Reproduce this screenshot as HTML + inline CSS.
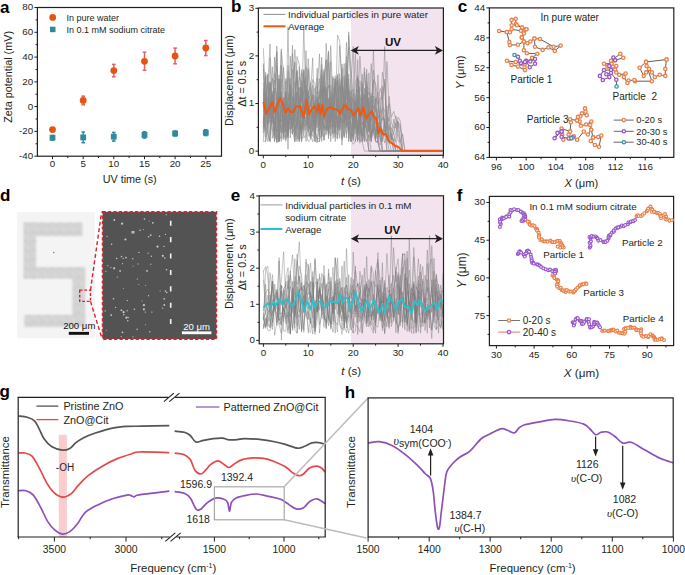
<!DOCTYPE html>
<html><head><meta charset="utf-8"><style>
html,body{margin:0;padding:0;background:#fff;}
svg{display:block;font-family:"Liberation Sans", sans-serif;}
</style></head><body>
<svg width="685" height="575" viewBox="0 0 685 575">
<defs><filter id="soft" x="-10%" y="-10%" width="120%" height="120%"><feGaussianBlur stdDeviation="0.95"/></filter></defs>
<rect width="685" height="575" fill="#fff"/>
<text x="0" y="7" font-size="17" text-anchor="start" font-weight="bold" fill="#000" dominant-baseline="central">a</text>
<rect x="37.4" y="7.5" width="184.1" height="148.7" fill="none" stroke="#231f20" stroke-width="1.2"/>
<line x1="34.4" y1="7.5" x2="37.4" y2="7.5" stroke="#231f20" stroke-width="1"/>
<text x="33.2" y="6.9" font-size="9.8" text-anchor="end" fill="#231f20" dominant-baseline="central">80</text>
<line x1="34.4" y1="32.3" x2="37.4" y2="32.3" stroke="#231f20" stroke-width="1"/>
<text x="33.2" y="31.7" font-size="9.8" text-anchor="end" fill="#231f20" dominant-baseline="central">60</text>
<line x1="34.4" y1="57.1" x2="37.4" y2="57.1" stroke="#231f20" stroke-width="1"/>
<text x="33.2" y="56.5" font-size="9.8" text-anchor="end" fill="#231f20" dominant-baseline="central">40</text>
<line x1="34.4" y1="81.9" x2="37.4" y2="81.9" stroke="#231f20" stroke-width="1"/>
<text x="33.2" y="81.3" font-size="9.8" text-anchor="end" fill="#231f20" dominant-baseline="central">20</text>
<line x1="34.4" y1="106.6" x2="37.4" y2="106.6" stroke="#231f20" stroke-width="1"/>
<text x="33.2" y="106" font-size="9.8" text-anchor="end" fill="#231f20" dominant-baseline="central">0</text>
<line x1="34.4" y1="131.4" x2="37.4" y2="131.4" stroke="#231f20" stroke-width="1"/>
<text x="33.2" y="130.8" font-size="9.8" text-anchor="end" fill="#231f20" dominant-baseline="central">-20</text>
<line x1="34.4" y1="156.2" x2="37.4" y2="156.2" stroke="#231f20" stroke-width="1"/>
<text x="33.2" y="155.6" font-size="9.8" text-anchor="end" fill="#231f20" dominant-baseline="central">-40</text>
<line x1="35.6" y1="19.9" x2="37.4" y2="19.9" stroke="#231f20" stroke-width="1"/>
<line x1="35.6" y1="44.7" x2="37.4" y2="44.7" stroke="#231f20" stroke-width="1"/>
<line x1="35.6" y1="69.5" x2="37.4" y2="69.5" stroke="#231f20" stroke-width="1"/>
<line x1="35.6" y1="94.2" x2="37.4" y2="94.2" stroke="#231f20" stroke-width="1"/>
<line x1="35.6" y1="119" x2="37.4" y2="119" stroke="#231f20" stroke-width="1"/>
<line x1="35.6" y1="143.8" x2="37.4" y2="143.8" stroke="#231f20" stroke-width="1"/>
<line x1="52.5" y1="156.2" x2="52.5" y2="159.2" stroke="#231f20" stroke-width="1"/>
<text x="52.5" y="163.7" font-size="9.8" text-anchor="middle" fill="#231f20" dominant-baseline="central">0</text>
<line x1="83.2" y1="156.2" x2="83.2" y2="159.2" stroke="#231f20" stroke-width="1"/>
<text x="83.2" y="163.7" font-size="9.8" text-anchor="middle" fill="#231f20" dominant-baseline="central">5</text>
<line x1="113.8" y1="156.2" x2="113.8" y2="159.2" stroke="#231f20" stroke-width="1"/>
<text x="113.8" y="163.7" font-size="9.8" text-anchor="middle" fill="#231f20" dominant-baseline="central">10</text>
<line x1="144.5" y1="156.2" x2="144.5" y2="159.2" stroke="#231f20" stroke-width="1"/>
<text x="144.5" y="163.7" font-size="9.8" text-anchor="middle" fill="#231f20" dominant-baseline="central">15</text>
<line x1="175.1" y1="156.2" x2="175.1" y2="159.2" stroke="#231f20" stroke-width="1"/>
<text x="175.1" y="163.7" font-size="9.8" text-anchor="middle" fill="#231f20" dominant-baseline="central">20</text>
<line x1="205.8" y1="156.2" x2="205.8" y2="159.2" stroke="#231f20" stroke-width="1"/>
<text x="205.8" y="163.7" font-size="9.8" text-anchor="middle" fill="#231f20" dominant-baseline="central">25</text>
<line x1="67.8" y1="156.2" x2="67.8" y2="158" stroke="#231f20" stroke-width="1"/>
<line x1="98.5" y1="156.2" x2="98.5" y2="158" stroke="#231f20" stroke-width="1"/>
<line x1="129.1" y1="156.2" x2="129.1" y2="158" stroke="#231f20" stroke-width="1"/>
<line x1="159.8" y1="156.2" x2="159.8" y2="158" stroke="#231f20" stroke-width="1"/>
<line x1="190.5" y1="156.2" x2="190.5" y2="158" stroke="#231f20" stroke-width="1"/>
<text x="129.7" y="179.2" font-size="10.8" text-anchor="middle" fill="#231f20" dominant-baseline="central">UV time (s)</text>
<text x="0" y="0" font-size="10.8" text-anchor="middle" dominant-baseline="central" fill="#231f20" transform="translate(7.5,76.9) rotate(-90)">Zeta potential (mV)</text>
<circle cx="52.7" cy="17.4" r="3.4" fill="#e9530d"/>
<text x="66.6" y="17.6" font-size="9.0" text-anchor="start" fill="#231f20" dominant-baseline="central">In pure water</text>
<rect x="50" y="26.7" width="5.5" height="5.5" fill="#2f8a9b" stroke="none" stroke-width="1"/>
<text x="66.6" y="29.8" font-size="9.0" text-anchor="start" fill="#231f20" dominant-baseline="central">In 0.1 mM sodium citrate</text>
<line x1="52.5" y1="135.5" x2="52.5" y2="140" stroke="#2f8a9b" stroke-width="1.5"/>
<line x1="50.7" y1="135.5" x2="54.3" y2="135.5" stroke="#2f8a9b" stroke-width="1.5"/>
<line x1="50.7" y1="140" x2="54.3" y2="140" stroke="#2f8a9b" stroke-width="1.5"/>
<rect x="49.6" y="134.8" width="5.8" height="5.8" fill="#2f8a9b" stroke="none" stroke-width="1"/>
<line x1="83.2" y1="132" x2="83.2" y2="142.7" stroke="#2f8a9b" stroke-width="1.5"/>
<line x1="81.4" y1="132" x2="85" y2="132" stroke="#2f8a9b" stroke-width="1.5"/>
<line x1="81.4" y1="142.7" x2="85" y2="142.7" stroke="#2f8a9b" stroke-width="1.5"/>
<rect x="80.3" y="134.5" width="5.8" height="5.8" fill="#2f8a9b" stroke="none" stroke-width="1"/>
<line x1="113.8" y1="132.4" x2="113.8" y2="141.1" stroke="#2f8a9b" stroke-width="1.5"/>
<line x1="112" y1="132.4" x2="115.6" y2="132.4" stroke="#2f8a9b" stroke-width="1.5"/>
<line x1="112" y1="141.1" x2="115.6" y2="141.1" stroke="#2f8a9b" stroke-width="1.5"/>
<rect x="110.9" y="133.8" width="5.8" height="5.8" fill="#2f8a9b" stroke="none" stroke-width="1"/>
<line x1="144.5" y1="131.7" x2="144.5" y2="138.1" stroke="#2f8a9b" stroke-width="1.5"/>
<line x1="142.7" y1="131.7" x2="146.3" y2="131.7" stroke="#2f8a9b" stroke-width="1.5"/>
<line x1="142.7" y1="138.1" x2="146.3" y2="138.1" stroke="#2f8a9b" stroke-width="1.5"/>
<rect x="141.6" y="132" width="5.8" height="5.8" fill="#2f8a9b" stroke="none" stroke-width="1"/>
<line x1="175.1" y1="131" x2="175.1" y2="136" stroke="#2f8a9b" stroke-width="1.5"/>
<line x1="173.3" y1="131" x2="176.9" y2="131" stroke="#2f8a9b" stroke-width="1.5"/>
<line x1="173.3" y1="136" x2="176.9" y2="136" stroke="#2f8a9b" stroke-width="1.5"/>
<rect x="172.2" y="130.6" width="5.8" height="5.8" fill="#2f8a9b" stroke="none" stroke-width="1"/>
<line x1="205.8" y1="129.7" x2="205.8" y2="135.6" stroke="#2f8a9b" stroke-width="1.5"/>
<line x1="204" y1="129.7" x2="207.6" y2="129.7" stroke="#2f8a9b" stroke-width="1.5"/>
<line x1="204" y1="135.6" x2="207.6" y2="135.6" stroke="#2f8a9b" stroke-width="1.5"/>
<rect x="202.9" y="129.8" width="5.8" height="5.8" fill="#2f8a9b" stroke="none" stroke-width="1"/>
<line x1="52.5" y1="127.7" x2="52.5" y2="131.4" stroke="#e0606a" stroke-width="1.5"/>
<line x1="50.7" y1="127.7" x2="54.3" y2="127.7" stroke="#e0606a" stroke-width="1.5"/>
<line x1="50.7" y1="131.4" x2="54.3" y2="131.4" stroke="#e0606a" stroke-width="1.5"/>
<circle cx="52.5" cy="129.6" r="3.4" fill="#e9530d"/>
<line x1="83.2" y1="96.1" x2="83.2" y2="104.8" stroke="#e0606a" stroke-width="1.5"/>
<line x1="81.4" y1="96.1" x2="85" y2="96.1" stroke="#e0606a" stroke-width="1.5"/>
<line x1="81.4" y1="104.8" x2="85" y2="104.8" stroke="#e0606a" stroke-width="1.5"/>
<circle cx="83.2" cy="100.4" r="3.4" fill="#e9530d"/>
<line x1="113.8" y1="64.4" x2="113.8" y2="76.8" stroke="#e0606a" stroke-width="1.5"/>
<line x1="112" y1="64.4" x2="115.6" y2="64.4" stroke="#e0606a" stroke-width="1.5"/>
<line x1="112" y1="76.8" x2="115.6" y2="76.8" stroke="#e0606a" stroke-width="1.5"/>
<circle cx="113.8" cy="70.6" r="3.4" fill="#e9530d"/>
<line x1="144.5" y1="52.2" x2="144.5" y2="70.3" stroke="#e0606a" stroke-width="1.5"/>
<line x1="142.7" y1="52.2" x2="146.3" y2="52.2" stroke="#e0606a" stroke-width="1.5"/>
<line x1="142.7" y1="70.3" x2="146.3" y2="70.3" stroke="#e0606a" stroke-width="1.5"/>
<circle cx="144.5" cy="61.3" r="3.4" fill="#e9530d"/>
<line x1="175.1" y1="48.1" x2="175.1" y2="63.8" stroke="#e0606a" stroke-width="1.5"/>
<line x1="173.3" y1="48.1" x2="176.9" y2="48.1" stroke="#e0606a" stroke-width="1.5"/>
<line x1="173.3" y1="63.8" x2="176.9" y2="63.8" stroke="#e0606a" stroke-width="1.5"/>
<circle cx="175.1" cy="56" r="3.4" fill="#e9530d"/>
<line x1="205.8" y1="40.5" x2="205.8" y2="55.6" stroke="#e0606a" stroke-width="1.5"/>
<line x1="204" y1="40.5" x2="207.6" y2="40.5" stroke="#e0606a" stroke-width="1.5"/>
<line x1="204" y1="55.6" x2="207.6" y2="55.6" stroke="#e0606a" stroke-width="1.5"/>
<circle cx="205.8" cy="48" r="3.4" fill="#e9530d"/>
<rect x="351" y="8" width="92.4" height="147.3" fill="#f3e3ee" stroke="none" stroke-width="1"/>
<g fill="none" stroke="#8a8a8a" stroke-width="0.6" stroke-opacity="0.9" stroke-linejoin="round">
<polyline points="263.3,108.4 265.5,75.4 267.8,113.8 270.0,111.4 272.3,106.8 274.5,129.8 276.8,111.2 279.0,104.1 281.3,92.0 283.5,136.3 285.8,122.8 288.0,136.6 290.3,90.4 292.5,99.9 294.8,141.4 297.0,56.5 299.3,64.9 301.5,102.6 303.8,105.0 306.0,131.6 308.2,141.6 310.5,139.4 312.7,129.5 315.0,126.3 317.2,141.6 319.5,115.2 321.7,87.0 324.0,110.8 326.2,103.5 328.5,111.9 330.7,102.0 333.0,114.3 335.2,124.2 337.5,35.1 339.7,41.1 342.0,87.3 344.2,98.8 346.5,122.1 348.7,128.4 351.0,127.3 353.2,141.1 355.4,110.8 357.7,129.8 359.9,115.4 362.2,135.4 364.4,117.7 366.7,130.4 368.9,151.1 371.2,151.1 373.4,151.1 375.7,151.1 377.9,151.1 380.2,151.1 382.4,151.1 384.7,151.1 386.9,151.1 389.2,151.1 391.4,151.1 393.7,151.1 395.9,151.1 398.1,151.1 400.4,151.1 402.6,151.1 404.9,151.1 407.1,151.1 409.4,151.1 411.6,151.1 413.9,151.1 416.1,151.1 418.4,151.1 420.6,151.1 422.9,151.1 425.1,151.1 427.4,151.1 429.6,151.1 431.9,151.1 434.1,151.1 436.4,151.1 438.6,151.1 440.9,151.1 443.1,151.1"/>
<polyline points="263.3,128.2 265.5,77.9 267.8,113.6 270.0,57.7 272.3,117.6 274.5,138.1 276.8,104.1 279.0,93.2 281.3,124.7 283.5,136.9 285.8,121.1 288.0,65.2 290.3,95.0 292.5,134.4 294.8,126.0 297.0,135.7 299.3,139.4 301.5,91.6 303.8,130.3 306.0,108.4 308.2,114.8 310.5,129.4 312.7,97.0 315.0,133.4 317.2,103.2 319.5,134.5 321.7,116.3 324.0,128.0 326.2,124.7 328.5,62.5 330.7,91.0 333.0,122.7 335.2,81.8 337.5,128.2 339.7,117.7 342.0,85.7 344.2,107.1 346.5,138.2 348.7,74.1 351.0,135.2 353.2,135.4 355.4,120.5 357.7,137.5 359.9,140.5 362.2,141.6 364.4,151.1 366.7,151.1 368.9,151.1 371.2,151.1 373.4,151.1 375.7,151.1 377.9,151.1 380.2,151.1 382.4,151.1 384.7,151.1 386.9,151.1 389.2,151.1 391.4,151.1 393.7,151.1 395.9,151.1 398.1,151.1 400.4,151.1 402.6,151.1 404.9,151.1 407.1,151.1 409.4,151.1 411.6,151.1 413.9,151.1 416.1,151.1 418.4,151.1 420.6,151.1 422.9,151.1 425.1,151.1 427.4,151.1 429.6,151.1 431.9,151.1 434.1,151.1 436.4,151.1 438.6,151.1 440.9,151.1 443.1,151.1"/>
<polyline points="263.3,126.2 265.5,105.9 267.8,119.0 270.0,114.5 272.3,66.8 274.5,112.8 276.8,107.5 279.0,84.2 281.3,129.9 283.5,131.8 285.8,78.2 288.0,89.6 290.3,125.9 292.5,129.5 294.8,96.5 297.0,72.0 299.3,129.1 301.5,69.5 303.8,82.2 306.0,105.8 308.2,116.2 310.5,135.5 312.7,141.7 315.0,126.5 317.2,99.1 319.5,125.4 321.7,89.0 324.0,106.2 326.2,123.3 328.5,130.4 330.7,97.9 333.0,138.5 335.2,127.1 337.5,108.4 339.7,85.9 342.0,105.1 344.2,124.1 346.5,76.7 348.7,128.7 351.0,141.6 353.2,120.8 355.4,141.6 357.7,129.3 359.9,124.9 362.2,141.6 364.4,119.6 366.7,116.4 368.9,151.1 371.2,151.1 373.4,151.1 375.7,151.1 377.9,151.1 380.2,151.1 382.4,151.1 384.7,151.1 386.9,151.1 389.2,151.1 391.4,151.1 393.7,151.1 395.9,151.1 398.1,151.1 400.4,151.1 402.6,151.1 404.9,151.1 407.1,151.1 409.4,151.1 411.6,151.1 413.9,151.1 416.1,151.1 418.4,151.1 420.6,151.1 422.9,151.1 425.1,151.1 427.4,151.1 429.6,151.1 431.9,151.1 434.1,151.1 436.4,151.1 438.6,151.1 440.9,151.1 443.1,151.1"/>
<polyline points="263.3,100.0 265.5,106.9 267.8,132.8 270.0,141.6 272.3,77.9 274.5,99.3 276.8,65.6 279.0,141.6 281.3,112.9 283.5,97.1 285.8,121.9 288.0,27.3 290.3,137.9 292.5,109.2 294.8,96.6 297.0,79.6 299.3,96.6 301.5,99.1 303.8,91.9 306.0,77.1 308.2,120.1 310.5,100.4 312.7,79.5 315.0,83.7 317.2,116.5 319.5,92.2 321.7,84.6 324.0,107.6 326.2,104.4 328.5,118.4 330.7,107.0 333.0,105.4 335.2,137.5 337.5,103.5 339.7,45.6 342.0,82.5 344.2,97.3 346.5,118.1 348.7,96.8 351.0,109.6 353.2,120.0 355.4,100.9 357.7,141.2 359.9,116.0 362.2,141.6 364.4,132.9 366.7,141.5 368.9,134.5 371.2,151.1 373.4,151.1 375.7,151.1 377.9,151.1 380.2,151.1 382.4,151.1 384.7,151.1 386.9,151.1 389.2,151.1 391.4,151.1 393.7,151.1 395.9,151.1 398.1,151.1 400.4,151.1 402.6,151.1 404.9,151.1 407.1,151.1 409.4,151.1 411.6,151.1 413.9,151.1 416.1,151.1 418.4,151.1 420.6,151.1 422.9,151.1 425.1,151.1 427.4,151.1 429.6,151.1 431.9,151.1 434.1,151.1 436.4,151.1 438.6,151.1 440.9,151.1 443.1,151.1"/>
<polyline points="263.3,105.1 265.5,76.1 267.8,125.5 270.0,141.6 272.3,100.9 274.5,128.7 276.8,130.8 279.0,78.7 281.3,102.2 283.5,115.1 285.8,80.8 288.0,121.4 290.3,101.8 292.5,128.9 294.8,115.7 297.0,90.8 299.3,77.3 301.5,82.4 303.8,118.3 306.0,107.0 308.2,122.0 310.5,133.1 312.7,112.1 315.0,87.6 317.2,86.3 319.5,98.6 321.7,69.5 324.0,124.3 326.2,130.8 328.5,114.6 330.7,124.4 333.0,128.0 335.2,116.7 337.5,104.4 339.7,112.2 342.0,122.1 344.2,87.4 346.5,56.6 348.7,116.0 351.0,139.5 353.2,144.3 355.4,141.6 357.7,123.0 359.9,134.7 362.2,122.0 364.4,141.6 366.7,138.7 368.9,151.1 371.2,151.1 373.4,151.1 375.7,151.1 377.9,151.1 380.2,151.1 382.4,151.1 384.7,151.1 386.9,151.1 389.2,151.1 391.4,151.1 393.7,151.1 395.9,151.1 398.1,151.1 400.4,151.1 402.6,151.1 404.9,151.1 407.1,151.1 409.4,151.1 411.6,151.1 413.9,151.1 416.1,151.1 418.4,151.1 420.6,151.1 422.9,151.1 425.1,151.1 427.4,151.1 429.6,151.1 431.9,151.1 434.1,151.1 436.4,151.1 438.6,151.1 440.9,151.1 443.1,151.1"/>
<polyline points="263.3,88.4 265.5,126.6 267.8,132.7 270.0,140.8 272.3,104.2 274.5,114.9 276.8,104.1 279.0,102.5 281.3,90.6 283.5,67.1 285.8,100.5 288.0,128.9 290.3,113.3 292.5,130.2 294.8,141.6 297.0,98.4 299.3,130.2 301.5,124.5 303.8,120.4 306.0,99.6 308.2,110.7 310.5,105.1 312.7,95.1 315.0,117.8 317.2,92.1 319.5,78.6 321.7,136.9 324.0,73.7 326.2,97.8 328.5,133.5 330.7,114.5 333.0,104.4 335.2,78.0 337.5,118.7 339.7,107.9 342.0,82.6 344.2,91.6 346.5,71.0 348.7,113.9 351.0,102.7 353.2,128.5 355.4,97.8 357.7,89.6 359.9,106.0 362.2,105.1 364.4,132.9 366.7,100.2 368.9,91.8 371.2,100.1 373.4,131.3 375.7,127.5 377.9,141.6 380.2,151.1 382.4,151.1 384.7,151.1 386.9,151.1 389.2,151.1 391.4,151.1 393.7,151.1 395.9,151.1 398.1,151.1 400.4,151.1 402.6,151.1 404.9,151.1 407.1,151.1 409.4,151.1 411.6,151.1 413.9,151.1 416.1,151.1 418.4,151.1 420.6,151.1 422.9,151.1 425.1,151.1 427.4,151.1 429.6,151.1 431.9,151.1 434.1,151.1 436.4,151.1 438.6,151.1 440.9,151.1 443.1,151.1"/>
<polyline points="263.3,120.3 265.5,137.2 267.8,115.2 270.0,109.0 272.3,94.1 274.5,112.6 276.8,143.1 279.0,139.0 281.3,91.3 283.5,130.6 285.8,121.0 288.0,92.4 290.3,132.8 292.5,132.2 294.8,110.9 297.0,97.7 299.3,87.3 301.5,100.1 303.8,70.7 306.0,112.3 308.2,69.8 310.5,137.0 312.7,127.5 315.0,110.3 317.2,123.5 319.5,97.3 321.7,103.5 324.0,110.6 326.2,86.9 328.5,108.4 330.7,122.3 333.0,118.5 335.2,86.7 337.5,79.5 339.7,128.3 342.0,86.1 344.2,63.5 346.5,110.5 348.7,107.6 351.0,128.8 353.2,109.8 355.4,111.7 357.7,105.7 359.9,143.2 362.2,111.0 364.4,117.4 366.7,91.2 368.9,108.2 371.2,112.4 373.4,100.0 375.7,138.8 377.9,109.7 380.2,116.7 382.4,72.3 384.7,85.7 386.9,130.3 389.2,124.3 391.4,140.1 393.7,131.4 395.9,121.9 398.1,122.6 400.4,138.9 402.6,151.1 404.9,151.1 407.1,151.1 409.4,151.1 411.6,151.1 413.9,151.1 416.1,151.1 418.4,151.1 420.6,151.1 422.9,151.1 425.1,151.1 427.4,151.1 429.6,151.1 431.9,151.1 434.1,151.1 436.4,151.1 438.6,151.1 440.9,151.1 443.1,151.1"/>
<polyline points="263.3,129.4 265.5,104.9 267.8,75.2 270.0,133.6 272.3,93.2 274.5,141.6 276.8,127.2 279.0,100.3 281.3,121.7 283.5,119.9 285.8,104.8 288.0,135.4 290.3,97.1 292.5,134.0 294.8,111.3 297.0,125.8 299.3,129.0 301.5,110.1 303.8,115.4 306.0,118.8 308.2,116.7 310.5,110.2 312.7,131.4 315.0,128.6 317.2,104.0 319.5,103.6 321.7,110.2 324.0,86.1 326.2,105.3 328.5,85.4 330.7,126.9 333.0,96.3 335.2,90.3 337.5,79.2 339.7,122.1 342.0,122.1 344.2,75.7 346.5,127.7 348.7,31.8 351.0,81.4 353.2,133.2 355.4,126.5 357.7,97.4 359.9,125.3 362.2,136.0 364.4,88.1 366.7,116.8 368.9,97.7 371.2,136.8 373.4,125.7 375.7,117.0 377.9,141.6 380.2,124.9 382.4,118.8 384.7,119.3 386.9,151.1 389.2,151.1 391.4,151.1 393.7,151.1 395.9,151.1 398.1,151.1 400.4,151.1 402.6,151.1 404.9,151.1 407.1,151.1 409.4,151.1 411.6,151.1 413.9,151.1 416.1,151.1 418.4,151.1 420.6,151.1 422.9,151.1 425.1,151.1 427.4,151.1 429.6,151.1 431.9,151.1 434.1,151.1 436.4,151.1 438.6,151.1 440.9,151.1 443.1,151.1"/>
<polyline points="263.3,111.5 265.5,95.0 267.8,111.7 270.0,100.4 272.3,129.5 274.5,138.4 276.8,135.3 279.0,141.6 281.3,111.0 283.5,107.9 285.8,132.3 288.0,129.8 290.3,128.6 292.5,87.3 294.8,49.6 297.0,74.9 299.3,136.2 301.5,139.2 303.8,69.1 306.0,114.0 308.2,94.4 310.5,121.5 312.7,113.7 315.0,111.0 317.2,115.8 319.5,105.9 321.7,141.6 324.0,86.8 326.2,130.0 328.5,114.4 330.7,96.5 333.0,117.1 335.2,129.1 337.5,131.1 339.7,111.2 342.0,145.2 344.2,91.2 346.5,99.1 348.7,84.9 351.0,104.2 353.2,117.2 355.4,106.0 357.7,111.6 359.9,56.2 362.2,93.7 364.4,128.6 366.7,92.7 368.9,111.5 371.2,114.0 373.4,116.6 375.7,134.6 377.9,122.2 380.2,128.5 382.4,151.1 384.7,151.1 386.9,151.1 389.2,151.1 391.4,151.1 393.7,151.1 395.9,151.1 398.1,151.1 400.4,151.1 402.6,151.1 404.9,151.1 407.1,151.1 409.4,151.1 411.6,151.1 413.9,151.1 416.1,151.1 418.4,151.1 420.6,151.1 422.9,151.1 425.1,151.1 427.4,151.1 429.6,151.1 431.9,151.1 434.1,151.1 436.4,151.1 438.6,151.1 440.9,151.1 443.1,151.1"/>
<polyline points="263.3,94.2 265.5,94.4 267.8,117.1 270.0,97.7 272.3,138.4 274.5,120.6 276.8,113.6 279.0,141.6 281.3,103.6 283.5,104.5 285.8,126.9 288.0,70.9 290.3,101.7 292.5,120.8 294.8,102.2 297.0,107.8 299.3,110.0 301.5,118.0 303.8,27.3 306.0,103.3 308.2,99.3 310.5,94.7 312.7,57.8 315.0,141.6 317.2,96.5 319.5,125.4 321.7,117.3 324.0,140.4 326.2,129.1 328.5,118.8 330.7,135.9 333.0,125.8 335.2,78.7 337.5,109.0 339.7,111.4 342.0,64.0 344.2,107.9 346.5,42.4 348.7,103.6 351.0,90.4 353.2,137.8 355.4,106.1 357.7,94.9 359.9,141.0 362.2,74.2 364.4,131.4 366.7,113.5 368.9,130.8 371.2,112.1 373.4,105.3 375.7,139.5 377.9,74.9 380.2,120.8 382.4,118.8 384.7,118.9 386.9,130.8 389.2,135.8 391.4,127.7 393.7,133.8 395.9,141.6 398.1,151.1 400.4,151.1 402.6,151.1 404.9,151.1 407.1,151.1 409.4,151.1 411.6,151.1 413.9,151.1 416.1,151.1 418.4,151.1 420.6,151.1 422.9,151.1 425.1,151.1 427.4,151.1 429.6,151.1 431.9,151.1 434.1,151.1 436.4,151.1 438.6,151.1 440.9,151.1 443.1,151.1"/>
<polyline points="263.3,141.6 265.5,141.2 267.8,131.7 270.0,95.2 272.3,118.0 274.5,80.0 276.8,95.7 279.0,140.4 281.3,51.3 283.5,71.0 285.8,138.1 288.0,78.7 290.3,115.8 292.5,113.1 294.8,61.5 297.0,126.2 299.3,110.5 301.5,72.7 303.8,97.7 306.0,113.6 308.2,58.6 310.5,89.7 312.7,105.8 315.0,134.6 317.2,104.5 319.5,114.4 321.7,128.6 324.0,140.2 326.2,110.3 328.5,133.9 330.7,115.1 333.0,101.6 335.2,114.4 337.5,125.1 339.7,107.1 342.0,116.3 344.2,93.3 346.5,110.1 348.7,35.2 351.0,68.8 353.2,96.9 355.4,126.5 357.7,134.7 359.9,80.7 362.2,92.7 364.4,104.4 366.7,120.8 368.9,127.6 371.2,110.1 373.4,119.6 375.7,121.9 377.9,123.9 380.2,123.3 382.4,141.6 384.7,119.2 386.9,151.1 389.2,151.1 391.4,151.1 393.7,151.1 395.9,151.1 398.1,151.1 400.4,151.1 402.6,151.1 404.9,151.1 407.1,151.1 409.4,151.1 411.6,151.1 413.9,151.1 416.1,151.1 418.4,151.1 420.6,151.1 422.9,151.1 425.1,151.1 427.4,151.1 429.6,151.1 431.9,151.1 434.1,151.1 436.4,151.1 438.6,151.1 440.9,151.1 443.1,151.1"/>
<polyline points="263.3,82.7 265.5,141.6 267.8,124.6 270.0,116.0 272.3,104.5 274.5,135.6 276.8,109.5 279.0,138.2 281.3,136.9 283.5,101.1 285.8,109.0 288.0,104.0 290.3,118.9 292.5,113.1 294.8,128.2 297.0,120.5 299.3,96.0 301.5,87.5 303.8,138.0 306.0,134.3 308.2,90.5 310.5,104.5 312.7,94.1 315.0,128.0 317.2,116.1 319.5,125.4 321.7,90.4 324.0,119.1 326.2,102.6 328.5,50.8 330.7,121.5 333.0,109.1 335.2,95.9 337.5,76.1 339.7,115.9 342.0,119.1 344.2,136.0 346.5,83.1 348.7,137.6 351.0,137.2 353.2,108.2 355.4,112.7 357.7,100.4 359.9,123.0 362.2,93.5 364.4,137.8 366.7,128.0 368.9,102.0 371.2,137.3 373.4,122.7 375.7,97.6 377.9,99.8 380.2,123.9 382.4,132.6 384.7,122.2 386.9,105.9 389.2,126.7 391.4,139.6 393.7,119.1 395.9,128.1 398.1,117.2 400.4,121.3 402.6,151.1 404.9,151.1 407.1,151.1 409.4,151.1 411.6,151.1 413.9,151.1 416.1,151.1 418.4,151.1 420.6,151.1 422.9,151.1 425.1,151.1 427.4,151.1 429.6,151.1 431.9,151.1 434.1,151.1 436.4,151.1 438.6,151.1 440.9,151.1 443.1,151.1"/>
<polyline points="263.3,115.3 265.5,91.0 267.8,122.7 270.0,122.0 272.3,117.4 274.5,73.3 276.8,80.4 279.0,125.9 281.3,119.5 283.5,119.3 285.8,119.4 288.0,117.7 290.3,118.1 292.5,129.2 294.8,108.2 297.0,91.6 299.3,109.5 301.5,87.7 303.8,108.2 306.0,130.3 308.2,94.9 310.5,82.4 312.7,124.0 315.0,141.6 317.2,109.3 319.5,108.0 321.7,64.3 324.0,102.7 326.2,90.9 328.5,139.0 330.7,109.2 333.0,92.4 335.2,137.1 337.5,137.3 339.7,96.6 342.0,79.7 344.2,137.1 346.5,103.8 348.7,132.5 351.0,96.0 353.2,102.9 355.4,126.1 357.7,127.6 359.9,94.4 362.2,110.6 364.4,94.4 366.7,117.7 368.9,120.8 371.2,63.6 373.4,101.3 375.7,112.2 377.9,109.7 380.2,97.9 382.4,99.0 384.7,83.1 386.9,122.3 389.2,103.5 391.4,117.2 393.7,111.4 395.9,119.1 398.1,122.5 400.4,124.9 402.6,151.1 404.9,151.1 407.1,151.1 409.4,151.1 411.6,151.1 413.9,151.1 416.1,151.1 418.4,151.1 420.6,151.1 422.9,151.1 425.1,151.1 427.4,151.1 429.6,151.1 431.9,151.1 434.1,151.1 436.4,151.1 438.6,151.1 440.9,151.1 443.1,151.1"/>
<polyline points="263.3,103.5 265.5,110.5 267.8,98.7 270.0,91.1 272.3,116.2 274.5,116.3 276.8,132.4 279.0,96.3 281.3,48.8 283.5,118.8 285.8,130.9 288.0,128.6 290.3,116.0 292.5,123.4 294.8,63.0 297.0,139.5 299.3,122.5 301.5,134.6 303.8,103.0 306.0,93.5 308.2,130.1 310.5,139.1 312.7,114.2 315.0,107.0 317.2,78.1 319.5,141.6 321.7,129.8 324.0,127.8 326.2,126.7 328.5,98.1 330.7,106.3 333.0,127.4 335.2,129.8 337.5,124.0 339.7,130.6 342.0,95.0 344.2,122.3 346.5,109.1 348.7,89.7 351.0,113.0 353.2,125.2 355.4,81.5 357.7,77.2 359.9,120.6 362.2,109.1 364.4,67.5 366.7,112.8 368.9,127.6 371.2,140.5 373.4,70.2 375.7,91.2 377.9,118.2 380.2,110.3 382.4,111.0 384.7,125.5 386.9,61.6 389.2,111.8 391.4,133.2 393.7,141.6 395.9,132.7 398.1,121.7 400.4,129.2 402.6,135.7 404.9,151.1 407.1,151.1 409.4,151.1 411.6,151.1 413.9,151.1 416.1,151.1 418.4,151.1 420.6,151.1 422.9,151.1 425.1,151.1 427.4,151.1 429.6,151.1 431.9,151.1 434.1,151.1 436.4,151.1 438.6,151.1 440.9,151.1 443.1,151.1"/>
<polyline points="263.3,131.6 265.5,121.7 267.8,125.3 270.0,83.9 272.3,111.0 274.5,103.7 276.8,46.0 279.0,124.9 281.3,109.9 283.5,132.1 285.8,93.9 288.0,149.4 290.3,86.6 292.5,89.2 294.8,137.3 297.0,124.7 299.3,98.2 301.5,136.0 303.8,113.0 306.0,113.6 308.2,68.0 310.5,106.8 312.7,85.3 315.0,122.8 317.2,92.3 319.5,116.5 321.7,76.8 324.0,136.5 326.2,88.8 328.5,128.3 330.7,109.4 333.0,110.4 335.2,131.6 337.5,88.2 339.7,122.3 342.0,122.4 344.2,137.8 346.5,122.6 348.7,113.7 351.0,98.3 353.2,119.6 355.4,100.3 357.7,135.3 359.9,117.7 362.2,114.3 364.4,71.6 366.7,98.7 368.9,114.3 371.2,141.6 373.4,119.5 375.7,138.2 377.9,131.9 380.2,137.5 382.4,151.1 384.7,151.1 386.9,151.1 389.2,151.1 391.4,151.1 393.7,151.1 395.9,151.1 398.1,151.1 400.4,151.1 402.6,151.1 404.9,151.1 407.1,151.1 409.4,151.1 411.6,151.1 413.9,151.1 416.1,151.1 418.4,151.1 420.6,151.1 422.9,151.1 425.1,151.1 427.4,151.1 429.6,151.1 431.9,151.1 434.1,151.1 436.4,151.1 438.6,151.1 440.9,151.1 443.1,151.1"/>
<polyline points="263.3,48.1 265.5,91.4 267.8,128.4 270.0,105.0 272.3,123.5 274.5,118.7 276.8,109.6 279.0,123.1 281.3,120.9 283.5,117.8 285.8,101.7 288.0,125.4 290.3,128.8 292.5,97.1 294.8,121.3 297.0,70.8 299.3,108.2 301.5,97.7 303.8,121.2 306.0,88.7 308.2,136.4 310.5,132.7 312.7,136.3 315.0,101.0 317.2,98.8 319.5,130.1 321.7,117.3 324.0,87.6 326.2,106.4 328.5,136.6 330.7,127.2 333.0,131.6 335.2,133.9 337.5,117.0 339.7,138.2 342.0,76.1 344.2,115.9 346.5,111.2 348.7,103.0 351.0,94.2 353.2,89.3 355.4,118.2 357.7,121.2 359.9,119.1 362.2,141.6 364.4,111.0 366.7,85.1 368.9,114.6 371.2,124.5 373.4,129.9 375.7,141.6 377.9,141.6 380.2,151.1 382.4,151.1 384.7,151.1 386.9,151.1 389.2,151.1 391.4,151.1 393.7,151.1 395.9,151.1 398.1,151.1 400.4,151.1 402.6,151.1 404.9,151.1 407.1,151.1 409.4,151.1 411.6,151.1 413.9,151.1 416.1,151.1 418.4,151.1 420.6,151.1 422.9,151.1 425.1,151.1 427.4,151.1 429.6,151.1 431.9,151.1 434.1,151.1 436.4,151.1 438.6,151.1 440.9,151.1 443.1,151.1"/>
<polyline points="263.3,118.7 265.5,111.3 267.8,92.4 270.0,88.9 272.3,105.3 274.5,131.5 276.8,94.3 279.0,79.1 281.3,109.1 283.5,120.0 285.8,111.8 288.0,132.7 290.3,98.4 292.5,53.1 294.8,111.0 297.0,98.3 299.3,87.8 301.5,129.0 303.8,70.9 306.0,104.3 308.2,129.0 310.5,137.2 312.7,126.1 315.0,107.4 317.2,99.6 319.5,121.3 321.7,74.5 324.0,119.6 326.2,113.9 328.5,134.0 330.7,61.3 333.0,133.1 335.2,79.0 337.5,109.4 339.7,108.4 342.0,108.4 344.2,125.0 346.5,78.1 348.7,47.4 351.0,89.6 353.2,105.9 355.4,134.1 357.7,88.9 359.9,123.6 362.2,84.1 364.4,129.7 366.7,116.8 368.9,106.5 371.2,137.6 373.4,127.8 375.7,141.6 377.9,142.7 380.2,125.7 382.4,151.1 384.7,151.1 386.9,151.1 389.2,151.1 391.4,151.1 393.7,151.1 395.9,151.1 398.1,151.1 400.4,151.1 402.6,151.1 404.9,151.1 407.1,151.1 409.4,151.1 411.6,151.1 413.9,151.1 416.1,151.1 418.4,151.1 420.6,151.1 422.9,151.1 425.1,151.1 427.4,151.1 429.6,151.1 431.9,151.1 434.1,151.1 436.4,151.1 438.6,151.1 440.9,151.1 443.1,151.1"/>
<polyline points="263.3,122.5 265.5,101.4 267.8,96.6 270.0,118.4 272.3,106.5 274.5,91.0 276.8,141.6 279.0,113.7 281.3,132.6 283.5,118.2 285.8,107.8 288.0,130.5 290.3,110.7 292.5,125.0 294.8,107.9 297.0,121.2 299.3,103.4 301.5,141.6 303.8,132.5 306.0,66.8 308.2,106.0 310.5,113.6 312.7,116.8 315.0,104.5 317.2,100.2 319.5,95.0 321.7,95.5 324.0,112.7 326.2,43.4 328.5,87.5 330.7,85.6 333.0,116.9 335.2,115.6 337.5,108.1 339.7,78.8 342.0,110.4 344.2,110.4 346.5,115.6 348.7,78.9 351.0,121.8 353.2,139.9 355.4,97.5 357.7,79.6 359.9,97.0 362.2,106.1 364.4,95.5 366.7,122.7 368.9,106.4 371.2,138.4 373.4,133.9 375.7,115.1 377.9,115.1 380.2,123.1 382.4,141.6 384.7,123.4 386.9,136.2 389.2,136.1 391.4,136.1 393.7,141.6 395.9,151.1 398.1,151.1 400.4,151.1 402.6,151.1 404.9,151.1 407.1,151.1 409.4,151.1 411.6,151.1 413.9,151.1 416.1,151.1 418.4,151.1 420.6,151.1 422.9,151.1 425.1,151.1 427.4,151.1 429.6,151.1 431.9,151.1 434.1,151.1 436.4,151.1 438.6,151.1 440.9,151.1 443.1,151.1"/>
<polyline points="263.3,64.3 265.5,101.8 267.8,84.2 270.0,116.2 272.3,90.8 274.5,127.5 276.8,95.9 279.0,108.0 281.3,79.1 283.5,135.9 285.8,92.0 288.0,134.0 290.3,109.7 292.5,69.3 294.8,141.6 297.0,123.0 299.3,121.6 301.5,139.1 303.8,80.3 306.0,89.8 308.2,117.6 310.5,119.8 312.7,106.9 315.0,140.9 317.2,142.7 319.5,122.5 321.7,112.0 324.0,73.4 326.2,59.4 328.5,113.4 330.7,128.4 333.0,123.2 335.2,75.7 337.5,80.1 339.7,129.1 342.0,87.5 344.2,119.9 346.5,113.4 348.7,130.6 351.0,82.5 353.2,46.4 355.4,128.7 357.7,104.0 359.9,129.4 362.2,82.5 364.4,140.4 366.7,135.3 368.9,97.5 371.2,122.2 373.4,79.5 375.7,83.8 377.9,98.4 380.2,133.2 382.4,99.9 384.7,79.1 386.9,120.7 389.2,140.8 391.4,134.9 393.7,133.8 395.9,123.4 398.1,141.2 400.4,141.6 402.6,151.1 404.9,151.1 407.1,151.1 409.4,151.1 411.6,151.1 413.9,151.1 416.1,151.1 418.4,151.1 420.6,151.1 422.9,151.1 425.1,151.1 427.4,151.1 429.6,151.1 431.9,151.1 434.1,151.1 436.4,151.1 438.6,151.1 440.9,151.1 443.1,151.1"/>
<polyline points="263.3,92.2 265.5,118.9 267.8,102.0 270.0,81.9 272.3,106.6 274.5,127.1 276.8,122.9 279.0,74.9 281.3,101.7 283.5,124.3 285.8,103.5 288.0,136.6 290.3,56.0 292.5,115.2 294.8,110.3 297.0,110.1 299.3,140.9 301.5,106.0 303.8,123.8 306.0,125.8 308.2,91.0 310.5,136.9 312.7,123.8 315.0,95.2 317.2,126.1 319.5,124.1 321.7,109.1 324.0,129.7 326.2,80.1 328.5,52.2 330.7,141.6 333.0,95.6 335.2,118.3 337.5,74.4 339.7,111.9 342.0,130.1 344.2,108.6 346.5,103.1 348.7,119.6 351.0,102.3 353.2,92.9 355.4,110.9 357.7,111.5 359.9,86.7 362.2,100.5 364.4,110.7 366.7,69.1 368.9,130.5 371.2,93.1 373.4,131.1 375.7,105.6 377.9,128.6 380.2,120.8 382.4,107.2 384.7,110.9 386.9,115.2 389.2,138.1 391.4,133.6 393.7,141.6 395.9,151.1 398.1,151.1 400.4,151.1 402.6,151.1 404.9,151.1 407.1,151.1 409.4,151.1 411.6,151.1 413.9,151.1 416.1,151.1 418.4,151.1 420.6,151.1 422.9,151.1 425.1,151.1 427.4,151.1 429.6,151.1 431.9,151.1 434.1,151.1 436.4,151.1 438.6,151.1 440.9,151.1 443.1,151.1"/>
<polyline points="263.3,141.6 265.5,98.3 267.8,107.7 270.0,83.4 272.3,130.1 274.5,132.0 276.8,141.6 279.0,115.5 281.3,115.1 283.5,125.1 285.8,91.5 288.0,138.2 290.3,78.4 292.5,107.9 294.8,109.4 297.0,92.1 299.3,126.5 301.5,132.4 303.8,122.3 306.0,141.3 308.2,122.2 310.5,104.7 312.7,110.4 315.0,125.0 317.2,106.7 319.5,136.8 321.7,89.3 324.0,130.7 326.2,125.5 328.5,131.4 330.7,100.1 333.0,88.3 335.2,92.5 337.5,139.3 339.7,116.8 342.0,119.4 344.2,127.8 346.5,62.6 348.7,141.3 351.0,112.5 353.2,94.7 355.4,53.6 357.7,132.5 359.9,114.4 362.2,96.0 364.4,141.6 366.7,81.1 368.9,132.7 371.2,117.8 373.4,125.3 375.7,121.6 377.9,140.9 380.2,145.0 382.4,116.6 384.7,122.2 386.9,140.2 389.2,141.5 391.4,151.1 393.7,151.1 395.9,151.1 398.1,151.1 400.4,151.1 402.6,151.1 404.9,151.1 407.1,151.1 409.4,151.1 411.6,151.1 413.9,151.1 416.1,151.1 418.4,151.1 420.6,151.1 422.9,151.1 425.1,151.1 427.4,151.1 429.6,151.1 431.9,151.1 434.1,151.1 436.4,151.1 438.6,151.1 440.9,151.1 443.1,151.1"/>
<polyline points="263.3,126.3 265.5,114.0 267.8,73.7 270.0,119.4 272.3,120.9 274.5,57.1 276.8,105.3 279.0,141.6 281.3,102.8 283.5,139.5 285.8,120.5 288.0,99.8 290.3,84.5 292.5,106.6 294.8,81.6 297.0,114.0 299.3,117.8 301.5,87.0 303.8,118.5 306.0,93.0 308.2,127.9 310.5,120.3 312.7,129.9 315.0,109.0 317.2,131.2 319.5,128.6 321.7,127.9 324.0,113.7 326.2,122.5 328.5,114.8 330.7,45.6 333.0,100.9 335.2,84.7 337.5,128.6 339.7,118.4 342.0,138.1 344.2,100.0 346.5,119.5 348.7,124.4 351.0,141.6 353.2,125.1 355.4,117.8 357.7,75.5 359.9,98.3 362.2,124.7 364.4,119.6 366.7,131.9 368.9,72.8 371.2,119.6 373.4,96.0 375.7,103.4 377.9,91.9 380.2,141.6 382.4,129.5 384.7,143.0 386.9,136.2 389.2,126.7 391.4,137.0 393.7,151.1 395.9,151.1 398.1,151.1 400.4,151.1 402.6,151.1 404.9,151.1 407.1,151.1 409.4,151.1 411.6,151.1 413.9,151.1 416.1,151.1 418.4,151.1 420.6,151.1 422.9,151.1 425.1,151.1 427.4,151.1 429.6,151.1 431.9,151.1 434.1,151.1 436.4,151.1 438.6,151.1 440.9,151.1 443.1,151.1"/>
<polyline points="263.3,117.8 265.5,126.5 267.8,141.5 270.0,132.0 272.3,106.3 274.5,141.6 276.8,116.1 279.0,109.3 281.3,133.1 283.5,98.9 285.8,125.2 288.0,97.5 290.3,101.7 292.5,132.3 294.8,128.5 297.0,124.1 299.3,98.5 301.5,117.1 303.8,118.2 306.0,84.3 308.2,127.2 310.5,123.4 312.7,120.5 315.0,127.9 317.2,141.5 319.5,141.6 321.7,108.1 324.0,90.5 326.2,60.3 328.5,123.1 330.7,101.5 333.0,76.4 335.2,127.8 337.5,100.2 339.7,101.7 342.0,68.1 344.2,84.0 346.5,126.7 348.7,104.0 351.0,136.6 353.2,115.9 355.4,117.8 357.7,139.4 359.9,119.2 362.2,124.5 364.4,119.1 366.7,131.1 368.9,138.1 371.2,131.3 373.4,131.9 375.7,141.6 377.9,141.6 380.2,151.1 382.4,151.1 384.7,151.1 386.9,151.1 389.2,151.1 391.4,151.1 393.7,151.1 395.9,151.1 398.1,151.1 400.4,151.1 402.6,151.1 404.9,151.1 407.1,151.1 409.4,151.1 411.6,151.1 413.9,151.1 416.1,151.1 418.4,151.1 420.6,151.1 422.9,151.1 425.1,151.1 427.4,151.1 429.6,151.1 431.9,151.1 434.1,151.1 436.4,151.1 438.6,151.1 440.9,151.1 443.1,151.1"/>
<polyline points="263.3,116.2 265.5,132.0 267.8,107.1 270.0,99.3 272.3,108.8 274.5,99.4 276.8,141.6 279.0,119.4 281.3,139.1 283.5,117.2 285.8,139.9 288.0,112.1 290.3,106.9 292.5,113.6 294.8,121.5 297.0,125.6 299.3,141.6 301.5,80.8 303.8,108.1 306.0,125.1 308.2,101.6 310.5,129.7 312.7,113.6 315.0,105.0 317.2,68.2 319.5,119.5 321.7,107.4 324.0,71.5 326.2,93.8 328.5,104.3 330.7,104.7 333.0,116.8 335.2,116.6 337.5,124.3 339.7,88.4 342.0,82.5 344.2,118.4 346.5,78.0 348.7,141.6 351.0,111.5 353.2,122.5 355.4,119.6 357.7,59.6 359.9,132.1 362.2,129.3 364.4,127.1 366.7,100.8 368.9,128.4 371.2,141.6 373.4,125.3 375.7,133.9 377.9,127.0 380.2,125.0 382.4,131.6 384.7,133.1 386.9,137.9 389.2,151.1 391.4,151.1 393.7,151.1 395.9,151.1 398.1,151.1 400.4,151.1 402.6,151.1 404.9,151.1 407.1,151.1 409.4,151.1 411.6,151.1 413.9,151.1 416.1,151.1 418.4,151.1 420.6,151.1 422.9,151.1 425.1,151.1 427.4,151.1 429.6,151.1 431.9,151.1 434.1,151.1 436.4,151.1 438.6,151.1 440.9,151.1 443.1,151.1"/>
<polyline points="263.3,63.3 265.5,121.1 267.8,120.4 270.0,81.6 272.3,122.2 274.5,98.2 276.8,99.7 279.0,100.3 281.3,65.2 283.5,89.0 285.8,131.5 288.0,104.6 290.3,112.4 292.5,108.2 294.8,119.1 297.0,123.8 299.3,95.7 301.5,109.9 303.8,126.6 306.0,125.9 308.2,121.6 310.5,130.3 312.7,111.1 315.0,133.8 317.2,139.1 319.5,138.5 321.7,135.6 324.0,99.1 326.2,134.8 328.5,114.6 330.7,93.8 333.0,113.0 335.2,131.3 337.5,84.3 339.7,83.8 342.0,140.1 344.2,125.6 346.5,111.4 348.7,91.6 351.0,117.8 353.2,98.2 355.4,125.7 357.7,98.3 359.9,121.5 362.2,121.1 364.4,94.9 366.7,87.0 368.9,88.5 371.2,108.0 373.4,116.3 375.7,98.9 377.9,104.6 380.2,88.4 382.4,96.0 384.7,136.6 386.9,126.3 389.2,117.1 391.4,136.4 393.7,139.8 395.9,141.6 398.1,121.3 400.4,151.1 402.6,151.1 404.9,151.1 407.1,151.1 409.4,151.1 411.6,151.1 413.9,151.1 416.1,151.1 418.4,151.1 420.6,151.1 422.9,151.1 425.1,151.1 427.4,151.1 429.6,151.1 431.9,151.1 434.1,151.1 436.4,151.1 438.6,151.1 440.9,151.1 443.1,151.1"/>
<polyline points="263.3,133.2 265.5,100.3 267.8,116.4 270.0,104.0 272.3,117.6 274.5,73.5 276.8,51.2 279.0,140.6 281.3,98.4 283.5,134.4 285.8,141.3 288.0,123.7 290.3,97.1 292.5,45.2 294.8,134.2 297.0,121.3 299.3,141.6 301.5,112.8 303.8,118.9 306.0,122.4 308.2,91.3 310.5,87.5 312.7,123.9 315.0,117.9 317.2,104.9 319.5,94.4 321.7,57.3 324.0,118.0 326.2,99.8 328.5,109.2 330.7,91.3 333.0,132.3 335.2,130.4 337.5,135.2 339.7,73.5 342.0,125.7 344.2,112.5 346.5,134.2 348.7,121.6 351.0,141.6 353.2,132.5 355.4,104.4 357.7,124.4 359.9,127.2 362.2,112.9 364.4,119.3 366.7,125.3 368.9,140.3 371.2,138.9 373.4,80.7 375.7,122.4 377.9,137.6 380.2,129.9 382.4,112.8 384.7,46.4 386.9,131.1 389.2,96.4 391.4,122.8 393.7,128.3 395.9,115.8 398.1,134.2 400.4,141.6 402.6,134.0 404.9,151.1 407.1,151.1 409.4,151.1 411.6,151.1 413.9,151.1 416.1,151.1 418.4,151.1 420.6,151.1 422.9,151.1 425.1,151.1 427.4,151.1 429.6,151.1 431.9,151.1 434.1,151.1 436.4,151.1 438.6,151.1 440.9,151.1 443.1,151.1"/>
<polyline points="263.3,124.3 265.5,72.3 267.8,84.5 270.0,44.0 272.3,115.0 274.5,88.0 276.8,97.6 279.0,130.4 281.3,141.6 283.5,134.3 285.8,138.0 288.0,119.7 290.3,95.3 292.5,122.4 294.8,111.1 297.0,141.6 299.3,66.8 301.5,141.6 303.8,90.4 306.0,92.0 308.2,96.8 310.5,117.5 312.7,91.0 315.0,88.6 317.2,94.2 319.5,53.8 321.7,135.7 324.0,69.4 326.2,117.3 328.5,99.0 330.7,125.8 333.0,78.0 335.2,141.6 337.5,127.2 339.7,118.1 342.0,119.1 344.2,102.4 346.5,90.3 348.7,119.4 351.0,103.6 353.2,119.9 355.4,124.1 357.7,78.8 359.9,121.7 362.2,136.3 364.4,121.0 366.7,96.3 368.9,128.1 371.2,96.2 373.4,109.2 375.7,102.8 377.9,132.8 380.2,138.4 382.4,137.7 384.7,131.0 386.9,130.9 389.2,141.6 391.4,137.1 393.7,141.2 395.9,151.1 398.1,151.1 400.4,151.1 402.6,151.1 404.9,151.1 407.1,151.1 409.4,151.1 411.6,151.1 413.9,151.1 416.1,151.1 418.4,151.1 420.6,151.1 422.9,151.1 425.1,151.1 427.4,151.1 429.6,151.1 431.9,151.1 434.1,151.1 436.4,151.1 438.6,151.1 440.9,151.1 443.1,151.1"/>
<polyline points="263.3,68.9 265.5,128.5 267.8,82.4 270.0,121.8 272.3,95.3 274.5,135.1 276.8,52.5 279.0,115.8 281.3,65.7 283.5,127.6 285.8,117.0 288.0,99.0 290.3,130.2 292.5,124.5 294.8,101.0 297.0,70.2 299.3,121.7 301.5,129.9 303.8,119.8 306.0,50.5 308.2,132.2 310.5,103.8 312.7,118.6 315.0,103.2 317.2,128.1 319.5,105.0 321.7,81.4 324.0,85.5 326.2,104.2 328.5,111.6 330.7,107.9 333.0,134.7 335.2,87.6 337.5,100.1 339.7,114.5 342.0,101.8 344.2,116.4 346.5,118.3 348.7,127.0 351.0,106.0 353.2,107.6 355.4,111.0 357.7,141.6 359.9,114.8 362.2,106.4 364.4,106.3 366.7,73.9 368.9,132.0 371.2,113.6 373.4,50.8 375.7,103.2 377.9,128.0 380.2,111.7 382.4,86.2 384.7,131.9 386.9,118.3 389.2,143.9 391.4,138.1 393.7,151.1 395.9,151.1 398.1,151.1 400.4,151.1 402.6,151.1 404.9,151.1 407.1,151.1 409.4,151.1 411.6,151.1 413.9,151.1 416.1,151.1 418.4,151.1 420.6,151.1 422.9,151.1 425.1,151.1 427.4,151.1 429.6,151.1 431.9,151.1 434.1,151.1 436.4,151.1 438.6,151.1 440.9,151.1 443.1,151.1"/>
</g>
<polyline points="263.5,101.9 266.2,113.7 268.8,109.3 272.3,102.3 274.9,111.9 277.6,104 280.2,97.9 282.8,104 285.4,112.8 288.1,108.4 290.7,111.9 293.3,111.9 296,106.6 300.3,106.6 303.8,117.2 306.5,100.5 309.1,114.5 311.7,109.3 314.3,105.8 317,111.9 318.7,104 320.5,114.5 322.2,104.9 324,116.3 326.6,109.3 330,107.1 333.8,109 337.6,109.9 340.4,113.7 344.2,105.2 348,109 350.9,109.9 353.7,115.6 358.5,108 360.4,115.6 363.2,107.1 366.1,118.5 368.9,114.7 371.8,110.9 374.6,118.5 376.5,118.1 378.4,133.7 380.3,128 383.1,134.6 386,134 388.8,141.2 391.7,143.1 395.5,146 398.3,146.9 402.1,150.7 442,150.7" fill="none" stroke="#ec5a12" stroke-width="2.0" stroke-linejoin="round"/>
<rect x="258.4" y="8" width="185" height="147.3" fill="none" stroke="#231f20" stroke-width="1.2"/>
<line x1="255.4" y1="151.1" x2="258.4" y2="151.1" stroke="#231f20" stroke-width="1"/>
<text x="254.2" y="150.5" font-size="9.8" text-anchor="end" fill="#231f20" dominant-baseline="central">0</text>
<line x1="255.4" y1="103.5" x2="258.4" y2="103.5" stroke="#231f20" stroke-width="1"/>
<text x="254.2" y="102.9" font-size="9.8" text-anchor="end" fill="#231f20" dominant-baseline="central">1</text>
<line x1="255.4" y1="55.9" x2="258.4" y2="55.9" stroke="#231f20" stroke-width="1"/>
<text x="254.2" y="55.3" font-size="9.8" text-anchor="end" fill="#231f20" dominant-baseline="central">2</text>
<line x1="255.4" y1="8.3" x2="258.4" y2="8.3" stroke="#231f20" stroke-width="1"/>
<text x="254.2" y="7.7" font-size="9.8" text-anchor="end" fill="#231f20" dominant-baseline="central">3</text>
<line x1="256.6" y1="127.3" x2="258.4" y2="127.3" stroke="#231f20" stroke-width="1"/>
<line x1="256.6" y1="79.7" x2="258.4" y2="79.7" stroke="#231f20" stroke-width="1"/>
<line x1="256.6" y1="32.1" x2="258.4" y2="32.1" stroke="#231f20" stroke-width="1"/>
<line x1="263.3" y1="155.3" x2="263.3" y2="158.3" stroke="#231f20" stroke-width="1"/>
<text x="263.3" y="164.1" font-size="9.8" text-anchor="middle" fill="#231f20" dominant-baseline="central">0</text>
<line x1="308.2" y1="155.3" x2="308.2" y2="158.3" stroke="#231f20" stroke-width="1"/>
<text x="308.2" y="164.1" font-size="9.8" text-anchor="middle" fill="#231f20" dominant-baseline="central">10</text>
<line x1="353.2" y1="155.3" x2="353.2" y2="158.3" stroke="#231f20" stroke-width="1"/>
<text x="353.2" y="164.1" font-size="9.8" text-anchor="middle" fill="#231f20" dominant-baseline="central">20</text>
<line x1="398.1" y1="155.3" x2="398.1" y2="158.3" stroke="#231f20" stroke-width="1"/>
<text x="398.1" y="164.1" font-size="9.8" text-anchor="middle" fill="#231f20" dominant-baseline="central">30</text>
<line x1="443.1" y1="155.3" x2="443.1" y2="158.3" stroke="#231f20" stroke-width="1"/>
<text x="443.1" y="164.1" font-size="9.8" text-anchor="middle" fill="#231f20" dominant-baseline="central">40</text>
<line x1="285.8" y1="155.3" x2="285.8" y2="157.1" stroke="#231f20" stroke-width="1"/>
<line x1="330.7" y1="155.3" x2="330.7" y2="157.1" stroke="#231f20" stroke-width="1"/>
<line x1="375.7" y1="155.3" x2="375.7" y2="157.1" stroke="#231f20" stroke-width="1"/>
<line x1="420.6" y1="155.3" x2="420.6" y2="157.1" stroke="#231f20" stroke-width="1"/>
<text x="231" y="6.7" font-size="17" text-anchor="start" font-weight="bold" fill="#000" dominant-baseline="central">b</text>
<line x1="263.5" y1="14.4" x2="285.4" y2="14.4" stroke="#8c8c8c" stroke-width="1.0"/>
<text x="288" y="14.6" font-size="9.8" text-anchor="start" fill="#231f20" dominant-baseline="central">Individual particles in pure water</text>
<line x1="263.5" y1="26.3" x2="285.4" y2="26.3" stroke="#ec5a12" stroke-width="2.0"/>
<text x="288" y="26.5" font-size="9.8" text-anchor="start" fill="#231f20" dominant-baseline="central">Average</text>
<text x="393" y="41.5" font-size="11.6" text-anchor="middle" font-weight="bold" fill="#111" dominant-baseline="central">UV</text>
<line x1="354.7" y1="50.4" x2="439" y2="50.4" stroke="#231f20" stroke-width="1.3"/>
<path d="M350.7,50.4 L358.9,46 L356.7,50.4 L358.9,54.8 Z" fill="#231f20"/>
<path d="M443,50.4 L434.8,46 L437,50.4 L434.8,54.8 Z" fill="#231f20"/>
<text x="0" y="0" font-size="10.8" text-anchor="middle" dominant-baseline="central" fill="#231f20" transform="translate(228.6,80.5) rotate(-90)">Displacement (μm)</text>
<text x="0" y="0" font-size="10.8" text-anchor="middle" dominant-baseline="central" fill="#231f20" transform="translate(241.7,83.7) rotate(-90)">Δt = 0.5 s</text>
<text x="351" y="181.0" font-size="11.5" text-anchor="middle" dominant-baseline="central" fill="#231f20"><tspan font-style="italic">t</tspan> (s)</text>
<rect x="489.4" y="7.9" width="184.4" height="149.5" fill="none" stroke="#231f20" stroke-width="1.2"/>
<line x1="486.4" y1="7.9" x2="489.4" y2="7.9" stroke="#231f20" stroke-width="1"/>
<text x="485.2" y="7.3" font-size="9.8" text-anchor="end" fill="#231f20" dominant-baseline="central">44</text>
<line x1="486.4" y1="37.8" x2="489.4" y2="37.8" stroke="#231f20" stroke-width="1"/>
<text x="485.2" y="37.2" font-size="9.8" text-anchor="end" fill="#231f20" dominant-baseline="central">48</text>
<line x1="486.4" y1="67.7" x2="489.4" y2="67.7" stroke="#231f20" stroke-width="1"/>
<text x="485.2" y="67.1" font-size="9.8" text-anchor="end" fill="#231f20" dominant-baseline="central">52</text>
<line x1="486.4" y1="97.6" x2="489.4" y2="97.6" stroke="#231f20" stroke-width="1"/>
<text x="485.2" y="97" font-size="9.8" text-anchor="end" fill="#231f20" dominant-baseline="central">56</text>
<line x1="486.4" y1="127.5" x2="489.4" y2="127.5" stroke="#231f20" stroke-width="1"/>
<text x="485.2" y="126.9" font-size="9.8" text-anchor="end" fill="#231f20" dominant-baseline="central">60</text>
<line x1="486.4" y1="157.4" x2="489.4" y2="157.4" stroke="#231f20" stroke-width="1"/>
<text x="485.2" y="156.8" font-size="9.8" text-anchor="end" fill="#231f20" dominant-baseline="central">64</text>
<line x1="487.6" y1="22.9" x2="489.4" y2="22.9" stroke="#231f20" stroke-width="1"/>
<line x1="487.6" y1="52.7" x2="489.4" y2="52.7" stroke="#231f20" stroke-width="1"/>
<line x1="487.6" y1="82.7" x2="489.4" y2="82.7" stroke="#231f20" stroke-width="1"/>
<line x1="487.6" y1="112.5" x2="489.4" y2="112.5" stroke="#231f20" stroke-width="1"/>
<line x1="487.6" y1="142.4" x2="489.4" y2="142.4" stroke="#231f20" stroke-width="1"/>
<line x1="496.4" y1="157.4" x2="496.4" y2="160.4" stroke="#231f20" stroke-width="1"/>
<text x="496.4" y="166.3" font-size="9.8" text-anchor="middle" fill="#231f20" dominant-baseline="central">96</text>
<line x1="526.2" y1="157.4" x2="526.2" y2="160.4" stroke="#231f20" stroke-width="1"/>
<text x="526.2" y="166.3" font-size="9.8" text-anchor="middle" fill="#231f20" dominant-baseline="central">100</text>
<line x1="555.9" y1="157.4" x2="555.9" y2="160.4" stroke="#231f20" stroke-width="1"/>
<text x="555.9" y="166.3" font-size="9.8" text-anchor="middle" fill="#231f20" dominant-baseline="central">104</text>
<line x1="585.7" y1="157.4" x2="585.7" y2="160.4" stroke="#231f20" stroke-width="1"/>
<text x="585.7" y="166.3" font-size="9.8" text-anchor="middle" fill="#231f20" dominant-baseline="central">108</text>
<line x1="615.4" y1="157.4" x2="615.4" y2="160.4" stroke="#231f20" stroke-width="1"/>
<text x="615.4" y="166.3" font-size="9.8" text-anchor="middle" fill="#231f20" dominant-baseline="central">112</text>
<line x1="645.2" y1="157.4" x2="645.2" y2="160.4" stroke="#231f20" stroke-width="1"/>
<text x="645.2" y="166.3" font-size="9.8" text-anchor="middle" fill="#231f20" dominant-baseline="central">116</text>
<line x1="511.3" y1="157.4" x2="511.3" y2="159.2" stroke="#231f20" stroke-width="1"/>
<line x1="541" y1="157.4" x2="541" y2="159.2" stroke="#231f20" stroke-width="1"/>
<line x1="570.8" y1="157.4" x2="570.8" y2="159.2" stroke="#231f20" stroke-width="1"/>
<line x1="600.6" y1="157.4" x2="600.6" y2="159.2" stroke="#231f20" stroke-width="1"/>
<line x1="630.3" y1="157.4" x2="630.3" y2="159.2" stroke="#231f20" stroke-width="1"/>
<line x1="660.1" y1="157.4" x2="660.1" y2="159.2" stroke="#231f20" stroke-width="1"/>
<text x="457.8" y="6.9" font-size="17" text-anchor="start" font-weight="bold" fill="#000" dominant-baseline="central">c</text>
<text x="540.5" y="17.2" font-size="10" text-anchor="start" fill="#231f20" dominant-baseline="central">In pure water</text>
<polyline points="499.1,31 506.9,32 509.9,32.2 511.6,29.3 520.9,30.8 526.4,29.3 522.1,27.5 515.9,24 515.7,18.8 511.6,19.9 511.6,25.2 516.9,25.2 522.1,27.5 526.4,29.3 523.9,33.4 521.8,37.4 523.9,41.5 518,44.8 509.9,45 509.3,42.1 506.9,32" fill="none" stroke="#404040" stroke-width="0.85" stroke-linejoin="round"/>
<polyline points="521.8,37.4 527.4,43.3 530.3,41.5 534.4,38.6 540,39 553.6,46.8 560.7,45.6 554.8,50.9 548.4,47.4 542.6,49.9 535,46.8 534.4,38.6" fill="none" stroke="#404040" stroke-width="0.85" stroke-linejoin="round"/>
<polyline points="523.9,41.5 523.9,50.3 526.8,53.2 537.3,53.8 532,57.9 525,63.7 524.5,67.2 525,70.1 518,66.6 511.6,64.9 506.9,60.8 515.7,62 521.5,63.7 526.2,60.8" fill="none" stroke="#404040" stroke-width="0.85" stroke-linejoin="round"/>
<polyline points="526.2,60.8 529.7,67.2 535,63.7 535,59.1 530.3,61.4 525,62 520.9,63.1 519.8,60.8 518,56.7" fill="none" stroke="#404040" stroke-width="0.85" stroke-linejoin="round"/>
<polyline points="518,56.7 514.5,55" fill="none" stroke="#404040" stroke-width="0.85" stroke-linejoin="round"/>
<circle cx="499.1" cy="31.0" r="1.65" fill="#fff" fill-opacity="0.9" stroke="#e8824a" stroke-width="1.3"/>
<circle cx="506.9" cy="32.0" r="1.65" fill="#fff" fill-opacity="0.9" stroke="#e8824a" stroke-width="1.3"/>
<circle cx="509.9" cy="32.2" r="1.65" fill="#fff" fill-opacity="0.9" stroke="#e8824a" stroke-width="1.3"/>
<circle cx="511.6" cy="29.3" r="1.65" fill="#fff" fill-opacity="0.9" stroke="#e8824a" stroke-width="1.3"/>
<circle cx="520.9" cy="30.8" r="1.65" fill="#fff" fill-opacity="0.9" stroke="#e8824a" stroke-width="1.3"/>
<circle cx="526.4" cy="29.3" r="1.65" fill="#fff" fill-opacity="0.9" stroke="#e8824a" stroke-width="1.3"/>
<circle cx="522.1" cy="27.5" r="1.65" fill="#fff" fill-opacity="0.9" stroke="#e8824a" stroke-width="1.3"/>
<circle cx="515.9" cy="24.0" r="1.65" fill="#fff" fill-opacity="0.9" stroke="#e8824a" stroke-width="1.3"/>
<circle cx="515.7" cy="18.8" r="1.65" fill="#fff" fill-opacity="0.9" stroke="#e8824a" stroke-width="1.3"/>
<circle cx="511.6" cy="19.9" r="1.65" fill="#fff" fill-opacity="0.9" stroke="#e8824a" stroke-width="1.3"/>
<circle cx="511.6" cy="25.2" r="1.65" fill="#fff" fill-opacity="0.9" stroke="#e8824a" stroke-width="1.3"/>
<circle cx="516.9" cy="25.2" r="1.65" fill="#fff" fill-opacity="0.9" stroke="#e8824a" stroke-width="1.3"/>
<circle cx="522.1" cy="27.5" r="1.65" fill="#fff" fill-opacity="0.9" stroke="#e8824a" stroke-width="1.3"/>
<circle cx="526.4" cy="29.3" r="1.65" fill="#fff" fill-opacity="0.9" stroke="#e8824a" stroke-width="1.3"/>
<circle cx="523.9" cy="33.4" r="1.65" fill="#fff" fill-opacity="0.9" stroke="#e8824a" stroke-width="1.3"/>
<circle cx="521.8" cy="37.4" r="1.65" fill="#fff" fill-opacity="0.9" stroke="#e8824a" stroke-width="1.3"/>
<circle cx="523.9" cy="41.5" r="1.65" fill="#fff" fill-opacity="0.9" stroke="#e8824a" stroke-width="1.3"/>
<circle cx="518.0" cy="44.8" r="1.65" fill="#fff" fill-opacity="0.9" stroke="#e8824a" stroke-width="1.3"/>
<circle cx="509.9" cy="45.0" r="1.65" fill="#fff" fill-opacity="0.9" stroke="#e8824a" stroke-width="1.3"/>
<circle cx="509.3" cy="42.1" r="1.65" fill="#fff" fill-opacity="0.9" stroke="#e8824a" stroke-width="1.3"/>
<circle cx="506.9" cy="32.0" r="1.65" fill="#fff" fill-opacity="0.9" stroke="#e8824a" stroke-width="1.3"/>
<circle cx="521.8" cy="37.4" r="1.65" fill="#fff" fill-opacity="0.9" stroke="#e8824a" stroke-width="1.3"/>
<circle cx="527.4" cy="43.3" r="1.65" fill="#fff" fill-opacity="0.9" stroke="#e8824a" stroke-width="1.3"/>
<circle cx="530.3" cy="41.5" r="1.65" fill="#fff" fill-opacity="0.9" stroke="#e8824a" stroke-width="1.3"/>
<circle cx="534.4" cy="38.6" r="1.65" fill="#fff" fill-opacity="0.9" stroke="#e8824a" stroke-width="1.3"/>
<circle cx="540.0" cy="39.0" r="1.65" fill="#fff" fill-opacity="0.9" stroke="#e8824a" stroke-width="1.3"/>
<circle cx="553.6" cy="46.8" r="1.65" fill="#fff" fill-opacity="0.9" stroke="#e8824a" stroke-width="1.3"/>
<circle cx="560.7" cy="45.6" r="1.65" fill="#fff" fill-opacity="0.9" stroke="#e8824a" stroke-width="1.3"/>
<circle cx="554.8" cy="50.9" r="1.65" fill="#fff" fill-opacity="0.9" stroke="#e8824a" stroke-width="1.3"/>
<circle cx="548.4" cy="47.4" r="1.65" fill="#fff" fill-opacity="0.9" stroke="#e8824a" stroke-width="1.3"/>
<circle cx="542.6" cy="49.9" r="1.65" fill="#fff" fill-opacity="0.9" stroke="#e8824a" stroke-width="1.3"/>
<circle cx="535.0" cy="46.8" r="1.65" fill="#fff" fill-opacity="0.9" stroke="#e8824a" stroke-width="1.3"/>
<circle cx="534.4" cy="38.6" r="1.65" fill="#fff" fill-opacity="0.9" stroke="#e8824a" stroke-width="1.3"/>
<circle cx="523.9" cy="41.5" r="1.65" fill="#fff" fill-opacity="0.9" stroke="#e8824a" stroke-width="1.3"/>
<circle cx="523.9" cy="50.3" r="1.65" fill="#fff" fill-opacity="0.9" stroke="#e8824a" stroke-width="1.3"/>
<circle cx="526.8" cy="53.2" r="1.65" fill="#fff" fill-opacity="0.9" stroke="#e8824a" stroke-width="1.3"/>
<circle cx="537.3" cy="53.8" r="1.65" fill="#fff" fill-opacity="0.9" stroke="#e8824a" stroke-width="1.3"/>
<circle cx="532.0" cy="57.9" r="1.65" fill="#fff" fill-opacity="0.9" stroke="#e8824a" stroke-width="1.3"/>
<circle cx="525.0" cy="63.7" r="1.65" fill="#fff" fill-opacity="0.9" stroke="#e8824a" stroke-width="1.3"/>
<circle cx="524.5" cy="67.2" r="1.65" fill="#fff" fill-opacity="0.9" stroke="#e8824a" stroke-width="1.3"/>
<circle cx="525.0" cy="70.1" r="1.65" fill="#fff" fill-opacity="0.9" stroke="#e8824a" stroke-width="1.3"/>
<circle cx="518.0" cy="66.6" r="1.65" fill="#fff" fill-opacity="0.9" stroke="#e8824a" stroke-width="1.3"/>
<circle cx="511.6" cy="64.9" r="1.65" fill="#fff" fill-opacity="0.9" stroke="#e8824a" stroke-width="1.3"/>
<circle cx="506.9" cy="60.8" r="1.65" fill="#fff" fill-opacity="0.9" stroke="#e8824a" stroke-width="1.3"/>
<circle cx="515.7" cy="62.0" r="1.65" fill="#fff" fill-opacity="0.9" stroke="#e8824a" stroke-width="1.3"/>
<circle cx="521.5" cy="63.7" r="1.65" fill="#fff" fill-opacity="0.9" stroke="#e8824a" stroke-width="1.3"/>
<circle cx="526.2" cy="60.8" r="1.65" fill="#fff" fill-opacity="0.9" stroke="#e8824a" stroke-width="1.3"/>
<circle cx="526.2" cy="60.8" r="1.65" fill="#fff" fill-opacity="0.9" stroke="#9857c8" stroke-width="1.3"/>
<circle cx="529.7" cy="67.2" r="1.65" fill="#fff" fill-opacity="0.9" stroke="#9857c8" stroke-width="1.3"/>
<circle cx="535.0" cy="63.7" r="1.65" fill="#fff" fill-opacity="0.9" stroke="#9857c8" stroke-width="1.3"/>
<circle cx="535.0" cy="59.1" r="1.65" fill="#fff" fill-opacity="0.9" stroke="#9857c8" stroke-width="1.3"/>
<circle cx="530.3" cy="61.4" r="1.65" fill="#fff" fill-opacity="0.9" stroke="#9857c8" stroke-width="1.3"/>
<circle cx="525.0" cy="62.0" r="1.65" fill="#fff" fill-opacity="0.9" stroke="#9857c8" stroke-width="1.3"/>
<circle cx="520.9" cy="63.1" r="1.65" fill="#fff" fill-opacity="0.9" stroke="#9857c8" stroke-width="1.3"/>
<circle cx="519.8" cy="60.8" r="1.65" fill="#fff" fill-opacity="0.9" stroke="#9857c8" stroke-width="1.3"/>
<circle cx="518.0" cy="56.7" r="1.65" fill="#fff" fill-opacity="0.9" stroke="#9857c8" stroke-width="1.3"/>
<circle cx="514.5" cy="55.0" r="1.65" fill="#fff" fill-opacity="0.9" stroke="#2e9bb0" stroke-width="1.3"/>
<polyline points="666.5,59.6 665.3,68.9 665.3,75.9 659.8,74.8 654.8,77.1 651.9,72.4 649,68.9 646.1,72.4 643.7,75.9 639.6,67.8 646.1,61.9 666.5,59.6" fill="none" stroke="#404040" stroke-width="0.85" stroke-linejoin="round"/>
<polyline points="646.1,61.9 646.6,66 651.9,81.2 635,81.2 634.4,80 628.5,80.6 627.4,83 623.9,77.1 625.6,73.6 619.2,74.8 616.3,72.4 615.1,69.5 616.3,66 612.8,66.6 611.6,63.7 604,63.7 607.5,66.6 611,60.8 620.4,53.8 623.3,57.8 615.1,60.2" fill="none" stroke="#404040" stroke-width="0.85" stroke-linejoin="round"/>
<polyline points="615.1,60.2 613.4,57.6 609.3,66 611,70.1 604,70.1 599.9,75.9 602.8,80 609.3,77.1 606.4,74.2 611,73 616.3,79.8" fill="none" stroke="#404040" stroke-width="0.85" stroke-linejoin="round"/>
<polyline points="616.3,79.8 616.6,86.5" fill="none" stroke="#404040" stroke-width="0.85" stroke-linejoin="round"/>
<circle cx="666.5" cy="59.6" r="1.65" fill="#fff" fill-opacity="0.9" stroke="#e8824a" stroke-width="1.3"/>
<circle cx="665.3" cy="68.9" r="1.65" fill="#fff" fill-opacity="0.9" stroke="#e8824a" stroke-width="1.3"/>
<circle cx="665.3" cy="75.9" r="1.65" fill="#fff" fill-opacity="0.9" stroke="#e8824a" stroke-width="1.3"/>
<circle cx="659.8" cy="74.8" r="1.65" fill="#fff" fill-opacity="0.9" stroke="#e8824a" stroke-width="1.3"/>
<circle cx="654.8" cy="77.1" r="1.65" fill="#fff" fill-opacity="0.9" stroke="#e8824a" stroke-width="1.3"/>
<circle cx="651.9" cy="72.4" r="1.65" fill="#fff" fill-opacity="0.9" stroke="#e8824a" stroke-width="1.3"/>
<circle cx="649.0" cy="68.9" r="1.65" fill="#fff" fill-opacity="0.9" stroke="#e8824a" stroke-width="1.3"/>
<circle cx="646.1" cy="72.4" r="1.65" fill="#fff" fill-opacity="0.9" stroke="#e8824a" stroke-width="1.3"/>
<circle cx="643.7" cy="75.9" r="1.65" fill="#fff" fill-opacity="0.9" stroke="#e8824a" stroke-width="1.3"/>
<circle cx="639.6" cy="67.8" r="1.65" fill="#fff" fill-opacity="0.9" stroke="#e8824a" stroke-width="1.3"/>
<circle cx="646.1" cy="61.9" r="1.65" fill="#fff" fill-opacity="0.9" stroke="#e8824a" stroke-width="1.3"/>
<circle cx="666.5" cy="59.6" r="1.65" fill="#fff" fill-opacity="0.9" stroke="#e8824a" stroke-width="1.3"/>
<circle cx="646.1" cy="61.9" r="1.65" fill="#fff" fill-opacity="0.9" stroke="#e8824a" stroke-width="1.3"/>
<circle cx="646.6" cy="66.0" r="1.65" fill="#fff" fill-opacity="0.9" stroke="#e8824a" stroke-width="1.3"/>
<circle cx="651.9" cy="81.2" r="1.65" fill="#fff" fill-opacity="0.9" stroke="#e8824a" stroke-width="1.3"/>
<circle cx="635.0" cy="81.2" r="1.65" fill="#fff" fill-opacity="0.9" stroke="#e8824a" stroke-width="1.3"/>
<circle cx="634.4" cy="80.0" r="1.65" fill="#fff" fill-opacity="0.9" stroke="#e8824a" stroke-width="1.3"/>
<circle cx="628.5" cy="80.6" r="1.65" fill="#fff" fill-opacity="0.9" stroke="#e8824a" stroke-width="1.3"/>
<circle cx="627.4" cy="83.0" r="1.65" fill="#fff" fill-opacity="0.9" stroke="#e8824a" stroke-width="1.3"/>
<circle cx="623.9" cy="77.1" r="1.65" fill="#fff" fill-opacity="0.9" stroke="#e8824a" stroke-width="1.3"/>
<circle cx="625.6" cy="73.6" r="1.65" fill="#fff" fill-opacity="0.9" stroke="#e8824a" stroke-width="1.3"/>
<circle cx="619.2" cy="74.8" r="1.65" fill="#fff" fill-opacity="0.9" stroke="#e8824a" stroke-width="1.3"/>
<circle cx="616.3" cy="72.4" r="1.65" fill="#fff" fill-opacity="0.9" stroke="#e8824a" stroke-width="1.3"/>
<circle cx="615.1" cy="69.5" r="1.65" fill="#fff" fill-opacity="0.9" stroke="#e8824a" stroke-width="1.3"/>
<circle cx="616.3" cy="66.0" r="1.65" fill="#fff" fill-opacity="0.9" stroke="#e8824a" stroke-width="1.3"/>
<circle cx="612.8" cy="66.6" r="1.65" fill="#fff" fill-opacity="0.9" stroke="#e8824a" stroke-width="1.3"/>
<circle cx="611.6" cy="63.7" r="1.65" fill="#fff" fill-opacity="0.9" stroke="#e8824a" stroke-width="1.3"/>
<circle cx="604.0" cy="63.7" r="1.65" fill="#fff" fill-opacity="0.9" stroke="#e8824a" stroke-width="1.3"/>
<circle cx="607.5" cy="66.6" r="1.65" fill="#fff" fill-opacity="0.9" stroke="#e8824a" stroke-width="1.3"/>
<circle cx="611.0" cy="60.8" r="1.65" fill="#fff" fill-opacity="0.9" stroke="#e8824a" stroke-width="1.3"/>
<circle cx="620.4" cy="53.8" r="1.65" fill="#fff" fill-opacity="0.9" stroke="#e8824a" stroke-width="1.3"/>
<circle cx="623.3" cy="57.8" r="1.65" fill="#fff" fill-opacity="0.9" stroke="#e8824a" stroke-width="1.3"/>
<circle cx="615.1" cy="60.2" r="1.65" fill="#fff" fill-opacity="0.9" stroke="#e8824a" stroke-width="1.3"/>
<circle cx="615.1" cy="60.2" r="1.65" fill="#fff" fill-opacity="0.9" stroke="#9857c8" stroke-width="1.3"/>
<circle cx="613.4" cy="57.6" r="1.65" fill="#fff" fill-opacity="0.9" stroke="#9857c8" stroke-width="1.3"/>
<circle cx="609.3" cy="66.0" r="1.65" fill="#fff" fill-opacity="0.9" stroke="#9857c8" stroke-width="1.3"/>
<circle cx="611.0" cy="70.1" r="1.65" fill="#fff" fill-opacity="0.9" stroke="#9857c8" stroke-width="1.3"/>
<circle cx="604.0" cy="70.1" r="1.65" fill="#fff" fill-opacity="0.9" stroke="#9857c8" stroke-width="1.3"/>
<circle cx="599.9" cy="75.9" r="1.65" fill="#fff" fill-opacity="0.9" stroke="#9857c8" stroke-width="1.3"/>
<circle cx="602.8" cy="80.0" r="1.65" fill="#fff" fill-opacity="0.9" stroke="#9857c8" stroke-width="1.3"/>
<circle cx="609.3" cy="77.1" r="1.65" fill="#fff" fill-opacity="0.9" stroke="#9857c8" stroke-width="1.3"/>
<circle cx="606.4" cy="74.2" r="1.65" fill="#fff" fill-opacity="0.9" stroke="#9857c8" stroke-width="1.3"/>
<circle cx="611.0" cy="73.0" r="1.65" fill="#fff" fill-opacity="0.9" stroke="#9857c8" stroke-width="1.3"/>
<circle cx="616.3" cy="79.8" r="1.65" fill="#fff" fill-opacity="0.9" stroke="#9857c8" stroke-width="1.3"/>
<circle cx="616.6" cy="86.5" r="1.65" fill="#fff" fill-opacity="0.9" stroke="#2e9bb0" stroke-width="1.3"/>
<polyline points="585,108.4 585.5,111.7 586.7,115.2 582,113.4 580.3,116.4 578,116.9 577.1,120.4 579.7,121.6 580.9,125.7 586.1,124.5 591.4,121.6 590.2,125.1 591.2,129.8 587.9,134.5 583.8,131.5 577.1,139.7 573.9,136.2 570.9,138.5 568.6,134.5 570.1,131.5 570.9,122.2 570.1,119.3 577.1,120.4" fill="none" stroke="#404040" stroke-width="0.85" stroke-linejoin="round"/>
<polyline points="591.2,129.8 593.1,137.4 598.2,137.1 601.3,135.6 599,146.7 594.9,145 590.8,140.9 593.1,137.4" fill="none" stroke="#404040" stroke-width="0.85" stroke-linejoin="round"/>
<polyline points="570.1,131.5 561.6,128.6 563.4,139.7 562.2,135 561.6,131.5" fill="none" stroke="#404040" stroke-width="0.85" stroke-linejoin="round"/>
<polyline points="561.6,131.5 557.5,132.9 554.6,138.3 561.6,131.5 561.6,136.8 568.6,138.5 572.7,137.4" fill="none" stroke="#404040" stroke-width="0.85" stroke-linejoin="round"/>
<polyline points="572.7,137.4 571.3,138.3" fill="none" stroke="#404040" stroke-width="0.85" stroke-linejoin="round"/>
<circle cx="585.0" cy="108.4" r="1.65" fill="#fff" fill-opacity="0.9" stroke="#e8824a" stroke-width="1.3"/>
<circle cx="585.5" cy="111.7" r="1.65" fill="#fff" fill-opacity="0.9" stroke="#e8824a" stroke-width="1.3"/>
<circle cx="586.7" cy="115.2" r="1.65" fill="#fff" fill-opacity="0.9" stroke="#e8824a" stroke-width="1.3"/>
<circle cx="582.0" cy="113.4" r="1.65" fill="#fff" fill-opacity="0.9" stroke="#e8824a" stroke-width="1.3"/>
<circle cx="580.3" cy="116.4" r="1.65" fill="#fff" fill-opacity="0.9" stroke="#e8824a" stroke-width="1.3"/>
<circle cx="578.0" cy="116.9" r="1.65" fill="#fff" fill-opacity="0.9" stroke="#e8824a" stroke-width="1.3"/>
<circle cx="577.1" cy="120.4" r="1.65" fill="#fff" fill-opacity="0.9" stroke="#e8824a" stroke-width="1.3"/>
<circle cx="579.7" cy="121.6" r="1.65" fill="#fff" fill-opacity="0.9" stroke="#e8824a" stroke-width="1.3"/>
<circle cx="580.9" cy="125.7" r="1.65" fill="#fff" fill-opacity="0.9" stroke="#e8824a" stroke-width="1.3"/>
<circle cx="586.1" cy="124.5" r="1.65" fill="#fff" fill-opacity="0.9" stroke="#e8824a" stroke-width="1.3"/>
<circle cx="591.4" cy="121.6" r="1.65" fill="#fff" fill-opacity="0.9" stroke="#e8824a" stroke-width="1.3"/>
<circle cx="590.2" cy="125.1" r="1.65" fill="#fff" fill-opacity="0.9" stroke="#e8824a" stroke-width="1.3"/>
<circle cx="591.2" cy="129.8" r="1.65" fill="#fff" fill-opacity="0.9" stroke="#e8824a" stroke-width="1.3"/>
<circle cx="587.9" cy="134.5" r="1.65" fill="#fff" fill-opacity="0.9" stroke="#e8824a" stroke-width="1.3"/>
<circle cx="583.8" cy="131.5" r="1.65" fill="#fff" fill-opacity="0.9" stroke="#e8824a" stroke-width="1.3"/>
<circle cx="577.1" cy="139.7" r="1.65" fill="#fff" fill-opacity="0.9" stroke="#e8824a" stroke-width="1.3"/>
<circle cx="573.9" cy="136.2" r="1.65" fill="#fff" fill-opacity="0.9" stroke="#e8824a" stroke-width="1.3"/>
<circle cx="570.9" cy="138.5" r="1.65" fill="#fff" fill-opacity="0.9" stroke="#e8824a" stroke-width="1.3"/>
<circle cx="568.6" cy="134.5" r="1.65" fill="#fff" fill-opacity="0.9" stroke="#e8824a" stroke-width="1.3"/>
<circle cx="570.1" cy="131.5" r="1.65" fill="#fff" fill-opacity="0.9" stroke="#e8824a" stroke-width="1.3"/>
<circle cx="570.9" cy="122.2" r="1.65" fill="#fff" fill-opacity="0.9" stroke="#e8824a" stroke-width="1.3"/>
<circle cx="570.1" cy="119.3" r="1.65" fill="#fff" fill-opacity="0.9" stroke="#e8824a" stroke-width="1.3"/>
<circle cx="577.1" cy="120.4" r="1.65" fill="#fff" fill-opacity="0.9" stroke="#e8824a" stroke-width="1.3"/>
<circle cx="591.2" cy="129.8" r="1.65" fill="#fff" fill-opacity="0.9" stroke="#e8824a" stroke-width="1.3"/>
<circle cx="593.1" cy="137.4" r="1.65" fill="#fff" fill-opacity="0.9" stroke="#e8824a" stroke-width="1.3"/>
<circle cx="598.2" cy="137.1" r="1.65" fill="#fff" fill-opacity="0.9" stroke="#e8824a" stroke-width="1.3"/>
<circle cx="601.3" cy="135.6" r="1.65" fill="#fff" fill-opacity="0.9" stroke="#e8824a" stroke-width="1.3"/>
<circle cx="599.0" cy="146.7" r="1.65" fill="#fff" fill-opacity="0.9" stroke="#e8824a" stroke-width="1.3"/>
<circle cx="594.9" cy="145.0" r="1.65" fill="#fff" fill-opacity="0.9" stroke="#e8824a" stroke-width="1.3"/>
<circle cx="590.8" cy="140.9" r="1.65" fill="#fff" fill-opacity="0.9" stroke="#e8824a" stroke-width="1.3"/>
<circle cx="593.1" cy="137.4" r="1.65" fill="#fff" fill-opacity="0.9" stroke="#e8824a" stroke-width="1.3"/>
<circle cx="570.1" cy="131.5" r="1.65" fill="#fff" fill-opacity="0.9" stroke="#e8824a" stroke-width="1.3"/>
<circle cx="561.6" cy="128.6" r="1.65" fill="#fff" fill-opacity="0.9" stroke="#e8824a" stroke-width="1.3"/>
<circle cx="563.4" cy="139.7" r="1.65" fill="#fff" fill-opacity="0.9" stroke="#e8824a" stroke-width="1.3"/>
<circle cx="562.2" cy="135.0" r="1.65" fill="#fff" fill-opacity="0.9" stroke="#e8824a" stroke-width="1.3"/>
<circle cx="561.6" cy="131.5" r="1.65" fill="#fff" fill-opacity="0.9" stroke="#e8824a" stroke-width="1.3"/>
<circle cx="561.6" cy="131.5" r="1.65" fill="#fff" fill-opacity="0.9" stroke="#9857c8" stroke-width="1.3"/>
<circle cx="557.5" cy="132.9" r="1.65" fill="#fff" fill-opacity="0.9" stroke="#9857c8" stroke-width="1.3"/>
<circle cx="554.6" cy="138.3" r="1.65" fill="#fff" fill-opacity="0.9" stroke="#9857c8" stroke-width="1.3"/>
<circle cx="561.6" cy="131.5" r="1.65" fill="#fff" fill-opacity="0.9" stroke="#9857c8" stroke-width="1.3"/>
<circle cx="561.6" cy="136.8" r="1.65" fill="#fff" fill-opacity="0.9" stroke="#9857c8" stroke-width="1.3"/>
<circle cx="568.6" cy="138.5" r="1.65" fill="#fff" fill-opacity="0.9" stroke="#9857c8" stroke-width="1.3"/>
<circle cx="572.7" cy="137.4" r="1.65" fill="#fff" fill-opacity="0.9" stroke="#9857c8" stroke-width="1.3"/>
<circle cx="571.3" cy="138.3" r="1.65" fill="#fff" fill-opacity="0.9" stroke="#2e9bb0" stroke-width="1.3"/>
<text x="510.6" y="79" font-size="10" text-anchor="start" fill="#231f20" dominant-baseline="central">Particle 1</text>
<text x="612.5" y="96.6" font-size="10" text-anchor="start" fill="#231f20" dominant-baseline="central">Particle&#160; 2</text>
<text x="526.8" y="119.5" font-size="10" text-anchor="start" fill="#231f20" dominant-baseline="central">Particle 3</text>
<line x1="613.7" y1="120.1" x2="633.7" y2="120.1" stroke="#555" stroke-width="0.9"/>
<circle cx="623.9" cy="120.1" r="1.65" fill="#fff" fill-opacity="0.9" stroke="#e8824a" stroke-width="1.3"/>
<text x="636.3" y="120.3" font-size="9.3" text-anchor="start" fill="#231f20" dominant-baseline="central">0-20 s</text>
<line x1="613.7" y1="131.3" x2="633.7" y2="131.3" stroke="#555" stroke-width="0.9"/>
<circle cx="623.9" cy="131.3" r="1.65" fill="#fff" fill-opacity="0.9" stroke="#9857c8" stroke-width="1.3"/>
<text x="636.3" y="131.5" font-size="9.3" text-anchor="start" fill="#231f20" dominant-baseline="central">20-30 s</text>
<line x1="613.7" y1="142.2" x2="633.7" y2="142.2" stroke="#555" stroke-width="0.9"/>
<circle cx="623.9" cy="142.2" r="1.65" fill="#fff" fill-opacity="0.9" stroke="#2e9bb0" stroke-width="1.3"/>
<text x="636.3" y="142.4" font-size="9.3" text-anchor="start" fill="#231f20" dominant-baseline="central">30-40 s</text>
<text x="581.3" y="182.6" font-size="11.2" text-anchor="middle" dominant-baseline="central" fill="#231f20"><tspan font-style="italic">X</tspan> (μm)</text>
<text x="0" y="0" font-size="11.2" text-anchor="middle" dominant-baseline="central" fill="#231f20" transform="translate(460.2,72.4) rotate(-90)"><tspan font-style="italic">Y</tspan> (μm)</text>
<text x="0" y="195.4" font-size="17" text-anchor="start" font-weight="bold" fill="#000" dominant-baseline="central">d</text>
<rect x="17.1" y="212.2" width="77.8" height="126.1" fill="#f4f4f5" stroke="none" stroke-width="1"/>
<defs><pattern id="spk" width="9" height="9" patternUnits="userSpaceOnUse"><rect width="9" height="9" fill="#d8d8d9"/><rect x="7" y="8" width="1" height="1" fill="#c0c0c0"/><rect x="8" y="7" width="1" height="1" fill="#bcbcbc"/><rect x="6" y="2" width="1" height="1" fill="#bcbcbc"/><rect x="3" y="2" width="1" height="1" fill="#c0c0c0"/><rect x="8" y="6" width="1" height="1" fill="#c4c4c4"/><rect x="0" y="1" width="1" height="1" fill="#bcbcbc"/><rect x="2" y="0" width="1" height="1" fill="#c8c8c8"/><rect x="4" y="0" width="1" height="1" fill="#bcbcbc"/><rect x="4" y="7" width="1" height="1" fill="#b8b8b8"/><rect x="6" y="6" width="1" height="1" fill="#bcbcbc"/><rect x="6" y="7" width="1" height="1" fill="#b8b8b8"/><rect x="2" y="5" width="1" height="1" fill="#c8c8c8"/><rect x="1" y="0" width="1" height="1" fill="#c4c4c4"/><rect x="2" y="7" width="1" height="1" fill="#bcbcbc"/><rect x="3" y="4" width="1" height="1" fill="#c0c0c0"/><rect x="6" y="4" width="1" height="1" fill="#c0c0c0"/></pattern></defs>
<g filter="url(#soft)">
<rect x="23.7" y="222.6" width="58.8" height="13.5" fill="url(#spk)" stroke="none" stroke-width="1"/>
<rect x="23.7" y="222.6" width="12.4" height="56" fill="url(#spk)" stroke="none" stroke-width="1"/>
<rect x="23.7" y="267.2" width="61.5" height="11.4" fill="url(#spk)" stroke="none" stroke-width="1"/>
<rect x="72.2" y="267.2" width="13" height="59.8" fill="url(#spk)" stroke="none" stroke-width="1"/>
<rect x="24.4" y="314.8" width="60.8" height="12.2" fill="url(#spk)" stroke="none" stroke-width="1"/>
</g>
<circle cx="53.8" cy="252.6" r="0.8" fill="#888"/>
<rect x="79.7" y="290.1" width="10.8" height="11.3" fill="none" stroke="#d22630" stroke-width="1.4" stroke-dasharray="2.8 1.8"/>
<line x1="90.5" y1="290.1" x2="101.5" y2="212.5" stroke="#d22630" stroke-width="1.4" stroke-dasharray="4 2.5"/>
<line x1="90.5" y1="301.4" x2="102" y2="338.5" stroke="#d22630" stroke-width="1.4" stroke-dasharray="4 2.5"/>
<rect x="68.8" y="331.9" width="20.2" height="2.9" fill="#111" stroke="none" stroke-width="1"/>
<text x="79.3" y="325.8" font-size="9.6" text-anchor="middle" fill="#111" dominant-baseline="central">200 μm</text>
<rect x="102.6" y="211.8" width="113.8" height="127.3" fill="#535353" stroke="none" stroke-width="1"/>
<g fill="#c8c8c8"><circle cx="143.9" cy="305.2" r="1.1"/><circle cx="164.3" cy="305.0" r="0.9"/><circle cx="105.9" cy="271.3" r="0.6"/><circle cx="145.5" cy="324.8" r="0.5"/><circle cx="127.8" cy="320.8" r="0.8"/><circle cx="138.8" cy="284.6" r="0.5"/><circle cx="150.8" cy="264.2" r="0.6"/><circle cx="162.6" cy="308.2" r="0.6"/><circle cx="152.8" cy="222.8" r="0.9"/><circle cx="143.5" cy="229.6" r="0.5"/><circle cx="166.2" cy="214.7" r="0.6"/><circle cx="165.4" cy="234.4" r="0.6"/><circle cx="122.5" cy="332.3" r="0.9"/><circle cx="160.1" cy="291.0" r="0.6"/><circle cx="164.2" cy="298.9" r="0.8"/><circle cx="123.1" cy="258.4" r="0.6"/><circle cx="163.9" cy="246.4" r="0.7"/><circle cx="123.3" cy="288.2" r="0.5"/><circle cx="142.1" cy="301.0" r="0.5"/><circle cx="123.8" cy="314.7" r="0.8"/><circle cx="148.6" cy="236.7" r="0.8"/><circle cx="149.1" cy="221.0" r="0.5"/><circle cx="164.8" cy="258.0" r="0.8"/><circle cx="105.2" cy="310.9" r="0.7"/><circle cx="128.1" cy="317.5" r="0.8"/><circle cx="107.0" cy="236.3" r="0.6"/><circle cx="111.6" cy="244.3" r="0.8"/><circle cx="126.0" cy="257.6" r="0.9"/><circle cx="120.1" cy="270.9" r="0.9"/><circle cx="151.9" cy="312.1" r="0.7"/><circle cx="106.3" cy="330.3" r="0.5"/><circle cx="117.3" cy="277.1" r="0.7"/><circle cx="162.8" cy="255.8" r="1.1"/><circle cx="138.9" cy="252.4" r="0.7"/><circle cx="123.6" cy="312.2" r="1.1"/><circle cx="113.5" cy="298.8" r="0.8"/><circle cx="114.3" cy="220.0" r="0.9"/><circle cx="138.1" cy="263.9" r="0.6"/><circle cx="151.4" cy="256.3" r="0.7"/><circle cx="133.2" cy="265.9" r="0.5"/><circle cx="166.7" cy="292.5" r="0.8"/><circle cx="125.4" cy="239.5" r="1.1"/><circle cx="140.1" cy="230.3" r="0.8"/><circle cx="110.8" cy="267.5" r="0.6"/><circle cx="107.8" cy="265.7" r="0.6"/><circle cx="133.0" cy="336.9" r="0.6"/><circle cx="166.5" cy="269.8" r="0.8"/><circle cx="148.1" cy="253.1" r="0.7"/><circle cx="122.6" cy="263.7" r="0.6"/><circle cx="111.2" cy="315.1" r="0.9"/><circle cx="165.4" cy="291.1" r="0.8"/><circle cx="159.5" cy="236.2" r="0.8"/><circle cx="121.4" cy="310.2" r="0.9"/><circle cx="127.1" cy="310.7" r="0.7"/><circle cx="148.5" cy="295.7" r="0.7"/><circle cx="127.3" cy="300.6" r="0.7"/><circle cx="157.5" cy="246.6" r="1.1"/><circle cx="149.8" cy="331.7" r="0.7"/><circle cx="145.6" cy="285.4" r="0.5"/><circle cx="134.4" cy="309.2" r="0.7"/><circle cx="147.0" cy="270.9" r="0.9"/><circle cx="145.4" cy="312.1" r="0.7"/><circle cx="121.5" cy="256.5" r="0.8"/><circle cx="126.4" cy="317.7" r="1.1"/><circle cx="132.8" cy="258.8" r="0.7"/><circle cx="137.2" cy="279.1" r="0.6"/><circle cx="116.7" cy="258.5" r="0.8"/><circle cx="122.1" cy="223.7" r="1.1"/><circle cx="150.7" cy="235.1" r="0.9"/><circle cx="137.1" cy="329.2" r="0.7"/><circle cx="143.9" cy="309.3" r="1.1"/><circle cx="121.3" cy="336.5" r="0.6"/><circle cx="114.2" cy="268.3" r="1.1"/><circle cx="115.6" cy="307.4" r="0.6"/><circle cx="144.4" cy="219.1" r="0.8"/></g>
<rect x="131.5" y="231" width="3" height="2.5" fill="#bbb"/>
<line x1="170.7" y1="220.7" x2="170.7" y2="324" stroke="#f4f4f4" stroke-width="1.6" stroke-dasharray="5.1 11.3"/>
<rect x="102.6" y="211.8" width="113.8" height="127.3" fill="none" stroke="#d22630" stroke-width="1.7" stroke-dasharray="3.2 2.2"/>
<text x="196.6" y="326.2" font-size="9.6" text-anchor="middle" fill="#fff" dominant-baseline="central">20 μm</text>
<rect x="181.9" y="331.4" width="29.5" height="2.8" fill="#fff" stroke="none" stroke-width="1"/>
<rect x="350.9" y="195.8" width="92.6" height="148" fill="#f3e3ee" stroke="none" stroke-width="1"/>
<g fill="none" stroke="#767676" stroke-width="0.5" stroke-opacity="0.8" stroke-linejoin="round">
<polyline points="263.4,271.4 265.6,266.5 267.9,276.4 270.1,327.7 272.4,299.8 274.6,308.6 276.9,303.1 279.1,324.4 281.4,320.6 283.6,307.5 285.8,319.0 288.1,307.0 290.3,333.2 292.6,292.7 294.8,308.7 297.1,304.0 299.3,291.0 301.6,311.8 303.8,330.0 306.1,287.4 308.3,300.0 310.5,296.0 312.8,298.2 315.0,259.8 317.3,311.6 319.5,289.2 321.8,311.3 324.0,300.9 326.3,295.8 328.5,314.1 330.8,327.6 333.0,306.0 335.2,292.2 337.5,299.9 339.7,307.4 342.0,296.9 344.2,321.2 346.5,321.4 348.7,313.6 351.0,284.6 353.2,320.4 355.4,325.5 357.7,326.6 359.9,331.9 362.2,316.1 364.4,300.8 366.7,284.2 368.9,313.2 371.2,311.3 373.4,315.4 375.6,314.5 377.9,287.8 380.1,302.1 382.4,317.0 384.6,326.0 386.9,287.3 389.1,292.9 391.4,283.4 393.6,318.0 395.9,302.3 398.1,272.5 400.3,299.8 402.6,267.3 404.8,322.1 407.1,258.0 409.3,330.1 411.6,308.9 413.8,333.8 416.1,294.2 418.3,258.6 420.5,285.6 422.8,266.5 425.0,302.7 427.3,250.0 429.5,290.0 431.8,312.4 434.0,258.3 436.3,310.9 438.5,320.5 440.8,328.4 443.0,306.4"/>
<polyline points="263.4,320.3 265.6,269.8 267.9,266.1 270.1,319.2 272.4,326.2 274.6,303.2 276.9,321.9 279.1,302.4 281.4,284.9 283.6,317.2 285.8,308.7 288.1,275.2 290.3,307.5 292.6,312.6 294.8,276.4 297.1,284.8 299.3,276.0 301.6,294.1 303.8,309.1 306.1,293.8 308.3,283.3 310.5,297.1 312.8,318.0 315.0,315.0 317.3,309.3 319.5,288.3 321.8,301.7 324.0,302.1 326.3,283.6 328.5,325.9 330.8,297.6 333.0,313.1 335.2,301.6 337.5,282.8 339.7,317.5 342.0,265.8 344.2,328.1 346.5,301.4 348.7,302.5 351.0,318.2 353.2,301.5 355.4,306.2 357.7,307.3 359.9,292.1 362.2,333.2 364.4,287.2 366.7,323.6 368.9,279.4 371.2,319.9 373.4,294.6 375.6,321.7 377.9,307.3 380.1,308.6 382.4,327.9 384.6,293.4 386.9,305.7 389.1,294.1 391.4,302.7 393.6,301.8 395.9,303.3 398.1,314.9 400.3,275.5 402.6,327.5 404.8,278.4 407.1,279.9 409.3,304.8 411.6,287.9 413.8,295.0 416.1,299.1 418.3,315.2 420.5,313.8 422.8,312.3 425.0,314.7 427.3,263.5 429.5,312.7 431.8,310.4 434.0,308.8 436.3,284.6 438.5,305.8 440.8,301.9 443.0,317.1"/>
<polyline points="263.4,315.9 265.6,327.3 267.9,319.2 270.1,316.7 272.4,281.1 274.6,304.6 276.9,325.7 279.1,306.6 281.4,325.0 283.6,301.2 285.8,307.6 288.1,280.5 290.3,316.9 292.6,281.2 294.8,317.5 297.1,254.1 299.3,297.4 301.6,331.4 303.8,285.4 306.1,316.0 308.3,311.6 310.5,323.3 312.8,282.6 315.0,327.2 317.3,290.7 319.5,310.0 321.8,294.7 324.0,315.1 326.3,328.2 328.5,273.0 330.8,296.2 333.0,321.9 335.2,257.5 337.5,273.6 339.7,321.1 342.0,334.4 344.2,323.8 346.5,291.2 348.7,306.3 351.0,292.7 353.2,301.0 355.4,288.4 357.7,284.1 359.9,299.2 362.2,299.8 364.4,313.4 366.7,324.1 368.9,327.0 371.2,280.6 373.4,319.8 375.6,308.4 377.9,313.9 380.1,298.2 382.4,303.0 384.6,280.4 386.9,307.9 389.1,311.7 391.4,296.4 393.6,290.3 395.9,271.3 398.1,314.2 400.3,277.1 402.6,254.8 404.8,254.2 407.1,324.4 409.3,310.7 411.6,288.1 413.8,283.2 416.1,331.8 418.3,310.0 420.5,291.7 422.8,289.3 425.0,302.9 427.3,319.5 429.5,309.4 431.8,329.9 434.0,314.0 436.3,308.4 438.5,284.0 440.8,299.9 443.0,309.0"/>
<polyline points="263.4,317.6 265.6,314.0 267.9,295.2 270.1,307.5 272.4,321.7 274.6,284.1 276.9,300.7 279.1,261.0 281.4,302.8 283.6,298.0 285.8,308.4 288.1,298.9 290.3,272.4 292.6,254.9 294.8,295.8 297.1,308.2 299.3,329.5 301.6,282.3 303.8,310.2 306.1,310.6 308.3,330.0 310.5,332.4 312.8,310.2 315.0,258.2 317.3,290.6 319.5,292.8 321.8,295.3 324.0,316.2 326.3,322.0 328.5,299.2 330.8,329.4 333.0,300.0 335.2,303.9 337.5,302.5 339.7,325.0 342.0,329.1 344.2,306.1 346.5,323.4 348.7,297.0 351.0,314.3 353.2,298.2 355.4,289.9 357.7,299.0 359.9,303.1 362.2,320.3 364.4,312.4 366.7,256.6 368.9,316.4 371.2,315.6 373.4,305.0 375.6,302.3 377.9,286.8 380.1,315.0 382.4,262.6 384.6,334.0 386.9,301.0 389.1,275.2 391.4,322.9 393.6,294.0 395.9,266.8 398.1,295.4 400.3,325.6 402.6,272.1 404.8,260.2 407.1,325.7 409.3,283.6 411.6,328.1 413.8,327.9 416.1,286.4 418.3,292.0 420.5,264.3 422.8,297.5 425.0,304.1 427.3,316.2 429.5,300.8 431.8,245.6 434.0,296.7 436.3,278.5 438.5,320.3 440.8,291.0 443.0,291.2"/>
<polyline points="263.4,328.8 265.6,284.2 267.9,321.5 270.1,319.2 272.4,329.6 274.6,295.7 276.9,323.6 279.1,257.7 281.4,340.1 283.6,289.2 285.8,301.0 288.1,300.9 290.3,286.2 292.6,297.3 294.8,323.8 297.1,286.3 299.3,312.1 301.6,300.3 303.8,304.1 306.1,274.7 308.3,309.0 310.5,281.0 312.8,327.9 315.0,313.5 317.3,295.2 319.5,298.7 321.8,283.1 324.0,319.7 326.3,285.6 328.5,286.4 330.8,323.6 333.0,323.8 335.2,300.3 337.5,257.8 339.7,298.6 342.0,308.4 344.2,304.3 346.5,285.2 348.7,303.5 351.0,302.8 353.2,299.7 355.4,270.1 357.7,286.0 359.9,282.4 362.2,316.5 364.4,299.3 366.7,284.0 368.9,292.1 371.2,265.7 373.4,273.0 375.6,324.6 377.9,304.3 380.1,311.9 382.4,319.9 384.6,304.7 386.9,253.5 389.1,288.5 391.4,326.5 393.6,317.5 395.9,311.3 398.1,277.3 400.3,306.8 402.6,322.5 404.8,302.1 407.1,317.5 409.3,331.9 411.6,299.8 413.8,247.5 416.1,288.0 418.3,290.9 420.5,322.9 422.8,301.5 425.0,297.2 427.3,289.2 429.5,307.4 431.8,330.4 434.0,270.9 436.3,316.6 438.5,290.7 440.8,306.5 443.0,287.7"/>
<polyline points="263.4,312.9 265.6,327.0 267.9,308.3 270.1,305.7 272.4,286.6 274.6,309.6 276.9,295.5 279.1,310.9 281.4,291.1 283.6,321.6 285.8,277.9 288.1,267.5 290.3,333.8 292.6,287.8 294.8,293.8 297.1,326.1 299.3,291.1 301.6,288.3 303.8,297.9 306.1,262.3 308.3,266.9 310.5,297.4 312.8,271.4 315.0,323.5 317.3,314.9 319.5,303.1 321.8,303.5 324.0,265.5 326.3,297.3 328.5,298.1 330.8,298.1 333.0,267.2 335.2,309.7 337.5,290.7 339.7,299.3 342.0,309.6 344.2,312.8 346.5,322.9 348.7,333.2 351.0,314.8 353.2,327.9 355.4,305.4 357.7,312.2 359.9,271.2 362.2,287.6 364.4,295.5 366.7,281.6 368.9,316.1 371.2,325.3 373.4,298.8 375.6,318.6 377.9,252.5 380.1,308.5 382.4,277.2 384.6,317.6 386.9,326.9 389.1,297.8 391.4,293.8 393.6,317.1 395.9,271.1 398.1,258.8 400.3,294.2 402.6,254.8 404.8,253.7 407.1,323.2 409.3,291.3 411.6,290.2 413.8,291.2 416.1,312.8 418.3,302.4 420.5,300.0 422.8,281.3 425.0,330.5 427.3,311.0 429.5,314.0 431.8,286.7 434.0,325.3 436.3,329.6 438.5,325.4 440.8,325.3 443.0,308.0"/>
<polyline points="263.4,279.6 265.6,312.0 267.9,326.4 270.1,295.2 272.4,313.1 274.6,300.9 276.9,290.1 279.1,306.9 281.4,291.1 283.6,298.2 285.8,281.1 288.1,289.0 290.3,275.2 292.6,290.2 294.8,315.7 297.1,304.5 299.3,288.2 301.6,287.3 303.8,291.3 306.1,282.0 308.3,283.8 310.5,302.6 312.8,297.0 315.0,331.3 317.3,305.9 319.5,291.6 321.8,273.3 324.0,281.5 326.3,307.8 328.5,318.5 330.8,277.3 333.0,296.0 335.2,320.6 337.5,332.0 339.7,278.2 342.0,300.6 344.2,325.8 346.5,248.5 348.7,300.1 351.0,289.3 353.2,285.4 355.4,317.1 357.7,303.5 359.9,321.8 362.2,298.6 364.4,308.0 366.7,286.8 368.9,325.4 371.2,319.8 373.4,310.4 375.6,333.2 377.9,262.7 380.1,279.6 382.4,321.3 384.6,283.2 386.9,318.7 389.1,318.0 391.4,297.2 393.6,315.1 395.9,320.1 398.1,327.6 400.3,321.5 402.6,320.6 404.8,273.6 407.1,331.5 409.3,302.6 411.6,319.5 413.8,292.0 416.1,333.2 418.3,290.8 420.5,333.2 422.8,313.5 425.0,305.5 427.3,297.7 429.5,328.0 431.8,279.6 434.0,316.3 436.3,288.3 438.5,324.2 440.8,326.9 443.0,320.5"/>
<polyline points="263.4,327.7 265.6,317.5 267.9,323.8 270.1,327.5 272.4,281.1 274.6,303.2 276.9,304.9 279.1,304.3 281.4,285.1 283.6,331.1 285.8,331.2 288.1,295.5 290.3,333.2 292.6,297.9 294.8,281.4 297.1,333.2 299.3,314.1 301.6,300.4 303.8,332.5 306.1,289.6 308.3,264.3 310.5,302.1 312.8,295.5 315.0,282.8 317.3,282.0 319.5,284.3 321.8,305.4 324.0,327.4 326.3,286.5 328.5,282.0 330.8,293.3 333.0,314.0 335.2,258.1 337.5,298.1 339.7,314.2 342.0,287.1 344.2,318.8 346.5,317.9 348.7,274.6 351.0,330.2 353.2,279.2 355.4,309.9 357.7,300.9 359.9,293.9 362.2,275.0 364.4,319.0 366.7,327.0 368.9,304.1 371.2,318.8 373.4,308.5 375.6,325.7 377.9,327.2 380.1,301.1 382.4,330.5 384.6,316.5 386.9,310.3 389.1,326.9 391.4,285.5 393.6,275.1 395.9,332.7 398.1,285.4 400.3,321.5 402.6,291.4 404.8,329.7 407.1,290.2 409.3,270.0 411.6,316.9 413.8,322.2 416.1,312.7 418.3,280.3 420.5,287.6 422.8,322.7 425.0,275.1 427.3,290.7 429.5,264.3 431.8,259.0 434.0,322.6 436.3,291.5 438.5,333.2 440.8,302.8 443.0,318.3"/>
<polyline points="263.4,319.1 265.6,311.9 267.9,306.8 270.1,272.6 272.4,300.4 274.6,301.8 276.9,292.1 279.1,320.8 281.4,285.7 283.6,289.0 285.8,284.8 288.1,307.2 290.3,302.5 292.6,328.4 294.8,306.8 297.1,296.8 299.3,266.2 301.6,275.9 303.8,312.8 306.1,289.4 308.3,280.7 310.5,263.1 312.8,294.6 315.0,313.3 317.3,278.7 319.5,333.2 321.8,306.8 324.0,277.6 326.3,298.2 328.5,320.1 330.8,322.2 333.0,332.2 335.2,289.7 337.5,287.4 339.7,311.1 342.0,318.8 344.2,301.7 346.5,320.4 348.7,303.3 351.0,312.6 353.2,313.8 355.4,293.9 357.7,317.5 359.9,313.2 362.2,301.3 364.4,268.1 366.7,323.1 368.9,314.5 371.2,316.2 373.4,314.0 375.6,305.3 377.9,284.2 380.1,321.2 382.4,292.1 384.6,308.1 386.9,300.9 389.1,304.6 391.4,299.2 393.6,321.3 395.9,298.4 398.1,309.6 400.3,287.3 402.6,299.6 404.8,309.4 407.1,251.0 409.3,321.4 411.6,333.2 413.8,294.0 416.1,327.1 418.3,291.0 420.5,327.4 422.8,314.9 425.0,298.1 427.3,333.2 429.5,235.7 431.8,291.5 434.0,310.3 436.3,274.1 438.5,301.0 440.8,285.1 443.0,312.6"/>
<polyline points="263.4,310.7 265.6,293.3 267.9,289.1 270.1,293.8 272.4,323.1 274.6,308.7 276.9,313.9 279.1,318.4 281.4,325.3 283.6,290.0 285.8,323.6 288.1,312.1 290.3,334.5 292.6,297.9 294.8,328.2 297.1,266.1 299.3,241.7 301.6,289.9 303.8,285.5 306.1,293.1 308.3,333.2 310.5,318.1 312.8,334.1 315.0,299.8 317.3,311.6 319.5,290.0 321.8,318.2 324.0,315.8 326.3,325.4 328.5,318.2 330.8,281.3 333.0,305.2 335.2,290.9 337.5,279.4 339.7,295.5 342.0,311.7 344.2,261.1 346.5,328.0 348.7,309.1 351.0,277.3 353.2,294.5 355.4,312.1 357.7,283.6 359.9,289.3 362.2,291.8 364.4,316.5 366.7,294.6 368.9,296.1 371.2,282.3 373.4,304.0 375.6,270.6 377.9,292.0 380.1,319.6 382.4,300.5 384.6,320.4 386.9,298.4 389.1,313.5 391.4,235.7 393.6,312.6 395.9,286.8 398.1,282.7 400.3,311.1 402.6,300.0 404.8,318.3 407.1,311.0 409.3,307.8 411.6,292.6 413.8,304.3 416.1,322.4 418.3,296.5 420.5,303.9 422.8,303.4 425.0,307.5 427.3,279.5 429.5,296.2 431.8,295.8 434.0,304.6 436.3,309.7 438.5,308.4 440.8,294.7 443.0,307.9"/>
<polyline points="263.4,328.9 265.6,319.0 267.9,330.3 270.1,330.8 272.4,311.8 274.6,310.9 276.9,306.9 279.1,320.1 281.4,318.3 283.6,307.4 285.8,315.3 288.1,316.8 290.3,305.1 292.6,288.9 294.8,329.7 297.1,333.2 299.3,276.1 301.6,297.5 303.8,311.5 306.1,259.0 308.3,294.7 310.5,283.7 312.8,282.1 315.0,331.9 317.3,320.4 319.5,286.8 321.8,310.2 324.0,275.3 326.3,328.7 328.5,268.9 330.8,298.2 333.0,309.2 335.2,283.4 337.5,302.8 339.7,306.8 342.0,321.0 344.2,287.3 346.5,323.3 348.7,314.8 351.0,327.4 353.2,333.2 355.4,331.3 357.7,306.3 359.9,312.4 362.2,333.2 364.4,315.5 366.7,318.4 368.9,302.5 371.2,313.1 373.4,330.3 375.6,270.3 377.9,259.4 380.1,318.1 382.4,295.9 384.6,300.2 386.9,317.5 389.1,302.7 391.4,316.6 393.6,316.1 395.9,307.1 398.1,331.2 400.3,318.5 402.6,253.3 404.8,288.4 407.1,313.2 409.3,237.9 411.6,313.3 413.8,281.2 416.1,313.6 418.3,276.1 420.5,307.1 422.8,278.9 425.0,323.9 427.3,310.0 429.5,312.5 431.8,287.5 434.0,279.7 436.3,324.0 438.5,309.2 440.8,321.7 443.0,329.2"/>
<polyline points="263.4,324.4 265.6,328.5 267.9,314.7 270.1,308.2 272.4,274.7 274.6,296.3 276.9,289.1 279.1,313.2 281.4,313.7 283.6,309.1 285.8,318.3 288.1,333.2 290.3,270.8 292.6,330.6 294.8,304.5 297.1,318.4 299.3,289.0 301.6,331.9 303.8,304.2 306.1,291.7 308.3,306.6 310.5,323.5 312.8,276.8 315.0,334.4 317.3,284.4 319.5,277.5 321.8,279.7 324.0,311.3 326.3,297.9 328.5,306.2 330.8,300.2 333.0,310.8 335.2,280.8 337.5,314.4 339.7,301.5 342.0,329.0 344.2,329.9 346.5,277.3 348.7,311.9 351.0,311.0 353.2,252.0 355.4,291.8 357.7,322.8 359.9,302.5 362.2,305.6 364.4,299.1 366.7,316.2 368.9,316.0 371.2,267.4 373.4,299.6 375.6,302.0 377.9,293.9 380.1,289.7 382.4,321.4 384.6,287.4 386.9,305.6 389.1,323.1 391.4,313.9 393.6,247.6 395.9,281.8 398.1,274.8 400.3,304.7 402.6,297.3 404.8,309.9 407.1,291.0 409.3,302.8 411.6,311.9 413.8,256.9 416.1,304.6 418.3,331.7 420.5,284.8 422.8,326.8 425.0,315.8 427.3,307.1 429.5,319.5 431.8,307.3 434.0,307.8 436.3,303.1 438.5,296.3 440.8,294.3 443.0,330.6"/>
<polyline points="263.4,318.1 265.6,325.3 267.9,313.1 270.1,306.9 272.4,281.1 274.6,335.3 276.9,322.8 279.1,290.6 281.4,281.5 283.6,251.7 285.8,300.7 288.1,330.2 290.3,315.4 292.6,308.0 294.8,295.0 297.1,260.6 299.3,278.4 301.6,329.5 303.8,324.5 306.1,296.4 308.3,319.7 310.5,300.3 312.8,304.2 315.0,302.3 317.3,312.3 319.5,273.8 321.8,315.1 324.0,311.7 326.3,322.4 328.5,315.3 330.8,324.2 333.0,297.1 335.2,333.2 337.5,285.3 339.7,281.1 342.0,312.8 344.2,291.0 346.5,285.1 348.7,296.5 351.0,298.2 353.2,289.6 355.4,313.8 357.7,313.2 359.9,317.1 362.2,318.4 364.4,304.0 366.7,302.6 368.9,320.7 371.2,327.6 373.4,333.2 375.6,322.7 377.9,298.2 380.1,285.0 382.4,302.9 384.6,296.8 386.9,308.7 389.1,328.5 391.4,290.1 393.6,288.7 395.9,323.3 398.1,314.3 400.3,294.5 402.6,293.0 404.8,322.3 407.1,310.4 409.3,310.5 411.6,302.3 413.8,284.2 416.1,323.3 418.3,310.9 420.5,271.8 422.8,321.4 425.0,321.5 427.3,287.2 429.5,298.0 431.8,305.9 434.0,306.8 436.3,329.5 438.5,297.0 440.8,316.6 443.0,307.7"/>
<polyline points="263.4,270.7 265.6,304.9 267.9,310.0 270.1,312.1 272.4,315.6 274.6,298.3 276.9,292.3 279.1,325.4 281.4,333.2 283.6,322.2 285.8,299.4 288.1,322.4 290.3,304.5 292.6,306.0 294.8,258.8 297.1,313.8 299.3,316.8 301.6,312.9 303.8,295.9 306.1,317.9 308.3,317.8 310.5,292.6 312.8,303.2 315.0,328.7 317.3,281.7 319.5,324.6 321.8,315.0 324.0,302.3 326.3,306.9 328.5,288.7 330.8,323.2 333.0,296.2 335.2,321.4 337.5,325.3 339.7,293.4 342.0,287.9 344.2,325.9 346.5,332.5 348.7,320.1 351.0,300.7 353.2,332.7 355.4,266.0 357.7,334.6 359.9,285.6 362.2,310.5 364.4,284.7 366.7,321.6 368.9,288.0 371.2,300.7 373.4,281.2 375.6,286.5 377.9,287.1 380.1,279.8 382.4,317.2 384.6,332.7 386.9,321.8 389.1,290.1 391.4,303.8 393.6,305.0 395.9,306.1 398.1,333.6 400.3,301.1 402.6,300.2 404.8,305.0 407.1,277.4 409.3,306.1 411.6,302.7 413.8,286.1 416.1,323.2 418.3,283.7 420.5,298.0 422.8,313.1 425.0,323.2 427.3,303.9 429.5,315.1 431.8,338.5 434.0,290.1 436.3,275.4 438.5,289.0 440.8,309.5 443.0,273.2"/>
</g>
<polyline points="263.4,307.7 266.2,304.9 268.1,303 270,307.7 271.9,304.9 273.8,302 275.7,305.8 278.6,299.2 280.5,301.1 282.4,304.9 284.3,300.1 287.1,299.2 290,303.9 292.8,305.8 295.7,299.2 298.5,291.6 301.4,299.2 304.2,311.5 307,301.1 308.9,304.9 310.8,309.6 312.7,299.2 314.6,307.7 317.5,303 320.3,301.1 323.2,306.8 325.1,307.7 327.9,303.9 330,301.1 333.8,302 337.6,303 340.4,294.4 342.3,302 345.2,297.3 348,299.2 349.9,309.6 352.8,301.1 355.6,292.5 358.5,303 361.3,310.5 364.2,307.7 367,300.1 369.9,309.6 373.7,300.1 376.5,306.8 379.3,313.4 382.2,304.9 385,312.4 388.8,296.3 392.6,302 396.4,309.6 399.3,301.1 402.1,299.2 405,307.7 407.8,305.8 411.6,313.4 414.5,301.1 417.3,304.9 420.1,300.1 423,307.7 425.8,310.5 428.7,305.8 431.5,305.8 434.4,302 437.2,309.6 440.1,300.1 442.9,301.1" fill="none" stroke="#2dbfcc" stroke-width="1.8" stroke-linejoin="round"/>
<rect x="259.2" y="195.8" width="184.3" height="148" fill="none" stroke="#231f20" stroke-width="1.2"/>
<line x1="256.2" y1="340.4" x2="259.2" y2="340.4" stroke="#231f20" stroke-width="1"/>
<text x="255" y="339.8" font-size="9.8" text-anchor="end" fill="#231f20" dominant-baseline="central">0</text>
<line x1="256.2" y1="304.3" x2="259.2" y2="304.3" stroke="#231f20" stroke-width="1"/>
<text x="255" y="303.7" font-size="9.8" text-anchor="end" fill="#231f20" dominant-baseline="central">1</text>
<line x1="256.2" y1="268.2" x2="259.2" y2="268.2" stroke="#231f20" stroke-width="1"/>
<text x="255" y="267.6" font-size="9.8" text-anchor="end" fill="#231f20" dominant-baseline="central">2</text>
<line x1="256.2" y1="232.1" x2="259.2" y2="232.1" stroke="#231f20" stroke-width="1"/>
<text x="255" y="231.5" font-size="9.8" text-anchor="end" fill="#231f20" dominant-baseline="central">3</text>
<line x1="256.2" y1="196" x2="259.2" y2="196" stroke="#231f20" stroke-width="1"/>
<text x="255" y="195.4" font-size="9.8" text-anchor="end" fill="#231f20" dominant-baseline="central">4</text>
<line x1="257.4" y1="322.3" x2="259.2" y2="322.3" stroke="#231f20" stroke-width="1"/>
<line x1="257.4" y1="286.2" x2="259.2" y2="286.2" stroke="#231f20" stroke-width="1"/>
<line x1="257.4" y1="250.1" x2="259.2" y2="250.1" stroke="#231f20" stroke-width="1"/>
<line x1="257.4" y1="214" x2="259.2" y2="214" stroke="#231f20" stroke-width="1"/>
<line x1="263.4" y1="343.8" x2="263.4" y2="346.8" stroke="#231f20" stroke-width="1"/>
<text x="263.4" y="352.7" font-size="9.8" text-anchor="middle" fill="#231f20" dominant-baseline="central">0</text>
<line x1="308.3" y1="343.8" x2="308.3" y2="346.8" stroke="#231f20" stroke-width="1"/>
<text x="308.3" y="352.7" font-size="9.8" text-anchor="middle" fill="#231f20" dominant-baseline="central">10</text>
<line x1="353.2" y1="343.8" x2="353.2" y2="346.8" stroke="#231f20" stroke-width="1"/>
<text x="353.2" y="352.7" font-size="9.8" text-anchor="middle" fill="#231f20" dominant-baseline="central">20</text>
<line x1="398.1" y1="343.8" x2="398.1" y2="346.8" stroke="#231f20" stroke-width="1"/>
<text x="398.1" y="352.7" font-size="9.8" text-anchor="middle" fill="#231f20" dominant-baseline="central">30</text>
<line x1="443" y1="343.8" x2="443" y2="346.8" stroke="#231f20" stroke-width="1"/>
<text x="443" y="352.7" font-size="9.8" text-anchor="middle" fill="#231f20" dominant-baseline="central">40</text>
<line x1="285.8" y1="343.8" x2="285.8" y2="345.6" stroke="#231f20" stroke-width="1"/>
<line x1="330.8" y1="343.8" x2="330.8" y2="345.6" stroke="#231f20" stroke-width="1"/>
<line x1="375.6" y1="343.8" x2="375.6" y2="345.6" stroke="#231f20" stroke-width="1"/>
<line x1="420.5" y1="343.8" x2="420.5" y2="345.6" stroke="#231f20" stroke-width="1"/>
<text x="230.8" y="195.7" font-size="17" text-anchor="start" font-weight="bold" fill="#000" dominant-baseline="central">e</text>
<line x1="260.5" y1="204.9" x2="282.4" y2="204.9" stroke="#8e8e8e" stroke-width="0.9"/>
<text x="285.2" y="205.1" font-size="9.8" text-anchor="start" fill="#231f20" dominant-baseline="central">Individual particles in 0.1 mM</text>
<text x="285.2" y="217.5" font-size="9.8" text-anchor="start" fill="#231f20" dominant-baseline="central">sodium citrate</text>
<line x1="260.5" y1="229" x2="282.4" y2="229" stroke="#2dbfcc" stroke-width="2.0"/>
<text x="285.2" y="229.2" font-size="9.8" text-anchor="start" fill="#231f20" dominant-baseline="central">Average</text>
<text x="392.3" y="229.8" font-size="11.6" text-anchor="middle" font-weight="bold" fill="#111" dominant-baseline="central">UV</text>
<line x1="354.9" y1="238.7" x2="439" y2="238.7" stroke="#231f20" stroke-width="1.3"/>
<path d="M350.9,238.7 L359.1,234.3 L356.9,238.7 L359.1,243.1 Z" fill="#231f20"/>
<path d="M443,238.7 L434.8,234.3 L437,238.7 L434.8,243.1 Z" fill="#231f20"/>
<text x="0" y="0" font-size="10.8" text-anchor="middle" dominant-baseline="central" fill="#231f20" transform="translate(228.6,263.7) rotate(-90)">Displacement (μm)</text>
<text x="0" y="0" font-size="10.8" text-anchor="middle" dominant-baseline="central" fill="#231f20" transform="translate(241.7,267.4) rotate(-90)">Δt = 0.5 s</text>
<text x="351.2" y="370.6" font-size="11.5" text-anchor="middle" dominant-baseline="central" fill="#231f20"><tspan font-style="italic">t</tspan> (s)</text>
<rect x="489.4" y="196.4" width="184.2" height="149.2" fill="none" stroke="#231f20" stroke-width="1.2"/>
<line x1="486.4" y1="202.5" x2="489.4" y2="202.5" stroke="#231f20" stroke-width="1"/>
<text x="485.2" y="201.9" font-size="9.8" text-anchor="end" fill="#231f20" dominant-baseline="central">30</text>
<line x1="486.4" y1="240.2" x2="489.4" y2="240.2" stroke="#231f20" stroke-width="1"/>
<text x="485.2" y="239.6" font-size="9.8" text-anchor="end" fill="#231f20" dominant-baseline="central">45</text>
<line x1="486.4" y1="277.9" x2="489.4" y2="277.9" stroke="#231f20" stroke-width="1"/>
<text x="485.2" y="277.3" font-size="9.8" text-anchor="end" fill="#231f20" dominant-baseline="central">60</text>
<line x1="486.4" y1="315.6" x2="489.4" y2="315.6" stroke="#231f20" stroke-width="1"/>
<text x="485.2" y="315" font-size="9.8" text-anchor="end" fill="#231f20" dominant-baseline="central">75</text>
<line x1="487.6" y1="221.3" x2="489.4" y2="221.3" stroke="#231f20" stroke-width="1"/>
<line x1="487.6" y1="259" x2="489.4" y2="259" stroke="#231f20" stroke-width="1"/>
<line x1="487.6" y1="296.7" x2="489.4" y2="296.7" stroke="#231f20" stroke-width="1"/>
<line x1="487.6" y1="334.4" x2="489.4" y2="334.4" stroke="#231f20" stroke-width="1"/>
<line x1="496.4" y1="345.6" x2="496.4" y2="348.6" stroke="#231f20" stroke-width="1"/>
<text x="496.4" y="354.4" font-size="9.8" text-anchor="middle" fill="#231f20" dominant-baseline="central">30</text>
<line x1="534.1" y1="345.6" x2="534.1" y2="348.6" stroke="#231f20" stroke-width="1"/>
<text x="534.1" y="354.4" font-size="9.8" text-anchor="middle" fill="#231f20" dominant-baseline="central">45</text>
<line x1="571.8" y1="345.6" x2="571.8" y2="348.6" stroke="#231f20" stroke-width="1"/>
<text x="571.8" y="354.4" font-size="9.8" text-anchor="middle" fill="#231f20" dominant-baseline="central">60</text>
<line x1="609.5" y1="345.6" x2="609.5" y2="348.6" stroke="#231f20" stroke-width="1"/>
<text x="609.5" y="354.4" font-size="9.8" text-anchor="middle" fill="#231f20" dominant-baseline="central">75</text>
<line x1="647.2" y1="345.6" x2="647.2" y2="348.6" stroke="#231f20" stroke-width="1"/>
<text x="647.2" y="354.4" font-size="9.8" text-anchor="middle" fill="#231f20" dominant-baseline="central">90</text>
<line x1="515.2" y1="345.6" x2="515.2" y2="347.4" stroke="#231f20" stroke-width="1"/>
<line x1="552.9" y1="345.6" x2="552.9" y2="347.4" stroke="#231f20" stroke-width="1"/>
<line x1="590.6" y1="345.6" x2="590.6" y2="347.4" stroke="#231f20" stroke-width="1"/>
<line x1="628.3" y1="345.6" x2="628.3" y2="347.4" stroke="#231f20" stroke-width="1"/>
<line x1="666" y1="345.6" x2="666" y2="347.4" stroke="#231f20" stroke-width="1"/>
<text x="456.8" y="195.6" font-size="17" text-anchor="start" font-weight="bold" fill="#000" dominant-baseline="central">f</text>
<text x="529.4" y="206.6" font-size="9.8" text-anchor="start" fill="#231f20" dominant-baseline="central">In 0.1 mM sodium citrate</text>
<polyline points="499.9,226.9 500.8,224.1 500.1,222.7 500.1,221.5 499.8,219.3 501.8,219.1 502.3,217.5 503,218.4 504,218.3 506.5,216.2 506.2,216.9 509.2,216.4 509.2,216.3 509.3,214 510.5,212.5 510.5,210 512.3,210.2 514.1,209.2 516.9,210 518.3,209.9 520.7,211.8 520.9,211.5 522.8,213.1 524.1,213.4 524.8,214.8 524,215.5 525.3,216.8 524.8,217.2 523.5,217.7 524.5,219.1 522.9,220.5 523.2,220.7 522,220.3 521.5,220.9 522.9,220 524.1,219.1 525.5,219.7" fill="none" stroke="#e05050" stroke-width="0.5" stroke-linejoin="round"/>
<circle cx="499.9" cy="226.9" r="1.45" fill="#fff" fill-opacity="0.9" stroke="#9857c8" stroke-width="1.15"/>
<circle cx="500.8" cy="224.1" r="1.45" fill="#fff" fill-opacity="0.9" stroke="#9857c8" stroke-width="1.15"/>
<circle cx="500.1" cy="222.7" r="1.45" fill="#fff" fill-opacity="0.9" stroke="#9857c8" stroke-width="1.15"/>
<circle cx="500.1" cy="221.5" r="1.45" fill="#fff" fill-opacity="0.9" stroke="#9857c8" stroke-width="1.15"/>
<circle cx="499.8" cy="219.3" r="1.45" fill="#fff" fill-opacity="0.9" stroke="#9857c8" stroke-width="1.15"/>
<circle cx="501.8" cy="219.1" r="1.45" fill="#fff" fill-opacity="0.9" stroke="#9857c8" stroke-width="1.15"/>
<circle cx="502.3" cy="217.5" r="1.45" fill="#fff" fill-opacity="0.9" stroke="#9857c8" stroke-width="1.15"/>
<circle cx="503.0" cy="218.4" r="1.45" fill="#fff" fill-opacity="0.9" stroke="#9857c8" stroke-width="1.15"/>
<circle cx="504.0" cy="218.3" r="1.45" fill="#fff" fill-opacity="0.9" stroke="#9857c8" stroke-width="1.15"/>
<circle cx="506.5" cy="216.2" r="1.45" fill="#fff" fill-opacity="0.9" stroke="#9857c8" stroke-width="1.15"/>
<circle cx="506.2" cy="216.9" r="1.45" fill="#fff" fill-opacity="0.9" stroke="#9857c8" stroke-width="1.15"/>
<circle cx="509.2" cy="216.4" r="1.45" fill="#fff" fill-opacity="0.9" stroke="#9857c8" stroke-width="1.15"/>
<circle cx="509.2" cy="216.3" r="1.45" fill="#fff" fill-opacity="0.9" stroke="#9857c8" stroke-width="1.15"/>
<circle cx="509.3" cy="214.0" r="1.45" fill="#fff" fill-opacity="0.9" stroke="#9857c8" stroke-width="1.15"/>
<circle cx="510.5" cy="212.5" r="1.45" fill="#fff" fill-opacity="0.9" stroke="#9857c8" stroke-width="1.15"/>
<circle cx="510.5" cy="210.0" r="1.45" fill="#fff" fill-opacity="0.9" stroke="#9857c8" stroke-width="1.15"/>
<circle cx="512.3" cy="210.2" r="1.45" fill="#fff" fill-opacity="0.9" stroke="#9857c8" stroke-width="1.15"/>
<circle cx="514.1" cy="209.2" r="1.45" fill="#fff" fill-opacity="0.9" stroke="#9857c8" stroke-width="1.15"/>
<circle cx="516.9" cy="210.0" r="1.45" fill="#fff" fill-opacity="0.9" stroke="#9857c8" stroke-width="1.15"/>
<circle cx="518.3" cy="209.9" r="1.45" fill="#fff" fill-opacity="0.9" stroke="#9857c8" stroke-width="1.15"/>
<circle cx="520.7" cy="211.8" r="1.45" fill="#fff" fill-opacity="0.9" stroke="#9857c8" stroke-width="1.15"/>
<circle cx="520.9" cy="211.5" r="1.45" fill="#fff" fill-opacity="0.9" stroke="#9857c8" stroke-width="1.15"/>
<circle cx="522.8" cy="213.1" r="1.45" fill="#fff" fill-opacity="0.9" stroke="#9857c8" stroke-width="1.15"/>
<circle cx="524.1" cy="213.4" r="1.45" fill="#fff" fill-opacity="0.9" stroke="#9857c8" stroke-width="1.15"/>
<circle cx="524.8" cy="214.8" r="1.45" fill="#fff" fill-opacity="0.9" stroke="#9857c8" stroke-width="1.15"/>
<circle cx="524.0" cy="215.5" r="1.45" fill="#fff" fill-opacity="0.9" stroke="#9857c8" stroke-width="1.15"/>
<circle cx="525.3" cy="216.8" r="1.45" fill="#fff" fill-opacity="0.9" stroke="#9857c8" stroke-width="1.15"/>
<circle cx="524.8" cy="217.2" r="1.45" fill="#fff" fill-opacity="0.9" stroke="#9857c8" stroke-width="1.15"/>
<circle cx="523.5" cy="217.7" r="1.45" fill="#fff" fill-opacity="0.9" stroke="#9857c8" stroke-width="1.15"/>
<circle cx="524.5" cy="219.1" r="1.45" fill="#fff" fill-opacity="0.9" stroke="#9857c8" stroke-width="1.15"/>
<circle cx="522.9" cy="220.5" r="1.45" fill="#fff" fill-opacity="0.9" stroke="#9857c8" stroke-width="1.15"/>
<circle cx="523.2" cy="220.7" r="1.45" fill="#fff" fill-opacity="0.9" stroke="#9857c8" stroke-width="1.15"/>
<circle cx="522.0" cy="220.3" r="1.45" fill="#fff" fill-opacity="0.9" stroke="#9857c8" stroke-width="1.15"/>
<circle cx="521.5" cy="220.9" r="1.45" fill="#fff" fill-opacity="0.9" stroke="#9857c8" stroke-width="1.15"/>
<circle cx="522.9" cy="220.0" r="1.45" fill="#fff" fill-opacity="0.9" stroke="#9857c8" stroke-width="1.15"/>
<circle cx="524.1" cy="219.1" r="1.45" fill="#fff" fill-opacity="0.9" stroke="#9857c8" stroke-width="1.15"/>
<circle cx="525.5" cy="219.7" r="1.45" fill="#fff" fill-opacity="0.9" stroke="#9857c8" stroke-width="1.15"/>
<polyline points="528.9,221.8 527.7,221.6 529.6,224.1 529.7,224.6 531.4,225.6 533.1,225.2 534.5,226.1 535.9,228.5 537.2,229 537.2,229.8 537.1,230.7 538.6,232.5 539.1,234.9 539.3,235.6 538.8,235.9 539,237.4 540.4,239.9 541.8,239.3 543.3,241.3 544.7,241.5 546.5,241.3 547.5,241.6 550.4,240.6 551.8,242 553,242.1 554.8,242.2 556.6,241.3 558.1,240.8 559.9,241.1 560.2,243 561.4,243.3 561.1,244.6 562.6,245.8 563.7,247.5 561.9,247.2 560.2,247.5 557.7,246.6" fill="none" stroke="#555" stroke-width="0.5" stroke-linejoin="round"/>
<circle cx="528.9" cy="221.8" r="1.45" fill="#fff" fill-opacity="0.9" stroke="#e8824a" stroke-width="1.15"/>
<circle cx="527.7" cy="221.6" r="1.45" fill="#fff" fill-opacity="0.9" stroke="#e8824a" stroke-width="1.15"/>
<circle cx="529.6" cy="224.1" r="1.45" fill="#fff" fill-opacity="0.9" stroke="#e8824a" stroke-width="1.15"/>
<circle cx="529.7" cy="224.6" r="1.45" fill="#fff" fill-opacity="0.9" stroke="#e8824a" stroke-width="1.15"/>
<circle cx="531.4" cy="225.6" r="1.45" fill="#fff" fill-opacity="0.9" stroke="#e8824a" stroke-width="1.15"/>
<circle cx="533.1" cy="225.2" r="1.45" fill="#fff" fill-opacity="0.9" stroke="#e8824a" stroke-width="1.15"/>
<circle cx="534.5" cy="226.1" r="1.45" fill="#fff" fill-opacity="0.9" stroke="#e8824a" stroke-width="1.15"/>
<circle cx="535.9" cy="228.5" r="1.45" fill="#fff" fill-opacity="0.9" stroke="#e8824a" stroke-width="1.15"/>
<circle cx="537.2" cy="229.0" r="1.45" fill="#fff" fill-opacity="0.9" stroke="#e8824a" stroke-width="1.15"/>
<circle cx="537.2" cy="229.8" r="1.45" fill="#fff" fill-opacity="0.9" stroke="#e8824a" stroke-width="1.15"/>
<circle cx="537.1" cy="230.7" r="1.45" fill="#fff" fill-opacity="0.9" stroke="#e8824a" stroke-width="1.15"/>
<circle cx="538.6" cy="232.5" r="1.45" fill="#fff" fill-opacity="0.9" stroke="#e8824a" stroke-width="1.15"/>
<circle cx="539.1" cy="234.9" r="1.45" fill="#fff" fill-opacity="0.9" stroke="#e8824a" stroke-width="1.15"/>
<circle cx="539.3" cy="235.6" r="1.45" fill="#fff" fill-opacity="0.9" stroke="#e8824a" stroke-width="1.15"/>
<circle cx="538.8" cy="235.9" r="1.45" fill="#fff" fill-opacity="0.9" stroke="#e8824a" stroke-width="1.15"/>
<circle cx="539.0" cy="237.4" r="1.45" fill="#fff" fill-opacity="0.9" stroke="#e8824a" stroke-width="1.15"/>
<circle cx="540.4" cy="239.9" r="1.45" fill="#fff" fill-opacity="0.9" stroke="#e8824a" stroke-width="1.15"/>
<circle cx="541.8" cy="239.3" r="1.45" fill="#fff" fill-opacity="0.9" stroke="#e8824a" stroke-width="1.15"/>
<circle cx="543.3" cy="241.3" r="1.45" fill="#fff" fill-opacity="0.9" stroke="#e8824a" stroke-width="1.15"/>
<circle cx="544.7" cy="241.5" r="1.45" fill="#fff" fill-opacity="0.9" stroke="#e8824a" stroke-width="1.15"/>
<circle cx="546.5" cy="241.3" r="1.45" fill="#fff" fill-opacity="0.9" stroke="#e8824a" stroke-width="1.15"/>
<circle cx="547.5" cy="241.6" r="1.45" fill="#fff" fill-opacity="0.9" stroke="#e8824a" stroke-width="1.15"/>
<circle cx="550.4" cy="240.6" r="1.45" fill="#fff" fill-opacity="0.9" stroke="#e8824a" stroke-width="1.15"/>
<circle cx="551.8" cy="242.0" r="1.45" fill="#fff" fill-opacity="0.9" stroke="#e8824a" stroke-width="1.15"/>
<circle cx="553.0" cy="242.1" r="1.45" fill="#fff" fill-opacity="0.9" stroke="#e8824a" stroke-width="1.15"/>
<circle cx="554.8" cy="242.2" r="1.45" fill="#fff" fill-opacity="0.9" stroke="#e8824a" stroke-width="1.15"/>
<circle cx="556.6" cy="241.3" r="1.45" fill="#fff" fill-opacity="0.9" stroke="#e8824a" stroke-width="1.15"/>
<circle cx="558.1" cy="240.8" r="1.45" fill="#fff" fill-opacity="0.9" stroke="#e8824a" stroke-width="1.15"/>
<circle cx="559.9" cy="241.1" r="1.45" fill="#fff" fill-opacity="0.9" stroke="#e8824a" stroke-width="1.15"/>
<circle cx="560.2" cy="243.0" r="1.45" fill="#fff" fill-opacity="0.9" stroke="#e8824a" stroke-width="1.15"/>
<circle cx="561.4" cy="243.3" r="1.45" fill="#fff" fill-opacity="0.9" stroke="#e8824a" stroke-width="1.15"/>
<circle cx="561.1" cy="244.6" r="1.45" fill="#fff" fill-opacity="0.9" stroke="#e8824a" stroke-width="1.15"/>
<circle cx="562.6" cy="245.8" r="1.45" fill="#fff" fill-opacity="0.9" stroke="#e8824a" stroke-width="1.15"/>
<circle cx="563.7" cy="247.5" r="1.45" fill="#fff" fill-opacity="0.9" stroke="#e8824a" stroke-width="1.15"/>
<circle cx="561.9" cy="247.2" r="1.45" fill="#fff" fill-opacity="0.9" stroke="#e8824a" stroke-width="1.15"/>
<circle cx="560.2" cy="247.5" r="1.45" fill="#fff" fill-opacity="0.9" stroke="#e8824a" stroke-width="1.15"/>
<circle cx="557.7" cy="246.6" r="1.45" fill="#fff" fill-opacity="0.9" stroke="#e8824a" stroke-width="1.15"/>
<polyline points="517.8,253.9 518.7,253.2 519.8,251.3 519.3,251.8 521.1,252.5 523.7,254.7 524.8,256.5 525.3,253.9 526.2,253.2 526.8,251 528,250.5 529,252.1 529.1,251.7 530.7,254.5 531.1,257.1 531.7,259.2 531.6,260.7 532.1,262.7 533.3,262.9 533.7,263.6 537,264.4 538.1,264.6 539.6,265.6 541.1,266.9 543.3,268.3 545.7,269.2 548.2,270.2 550,269.6 552.3,271.1 554.4,270.3 556,269.7 556,271.4 554.8,271.6 555,273.5" fill="none" stroke="#e05050" stroke-width="0.5" stroke-linejoin="round"/>
<circle cx="517.8" cy="253.9" r="1.45" fill="#fff" fill-opacity="0.9" stroke="#9857c8" stroke-width="1.15"/>
<circle cx="518.7" cy="253.2" r="1.45" fill="#fff" fill-opacity="0.9" stroke="#9857c8" stroke-width="1.15"/>
<circle cx="519.8" cy="251.3" r="1.45" fill="#fff" fill-opacity="0.9" stroke="#9857c8" stroke-width="1.15"/>
<circle cx="519.3" cy="251.8" r="1.45" fill="#fff" fill-opacity="0.9" stroke="#9857c8" stroke-width="1.15"/>
<circle cx="521.1" cy="252.5" r="1.45" fill="#fff" fill-opacity="0.9" stroke="#9857c8" stroke-width="1.15"/>
<circle cx="523.7" cy="254.7" r="1.45" fill="#fff" fill-opacity="0.9" stroke="#9857c8" stroke-width="1.15"/>
<circle cx="524.8" cy="256.5" r="1.45" fill="#fff" fill-opacity="0.9" stroke="#9857c8" stroke-width="1.15"/>
<circle cx="525.3" cy="253.9" r="1.45" fill="#fff" fill-opacity="0.9" stroke="#9857c8" stroke-width="1.15"/>
<circle cx="526.2" cy="253.2" r="1.45" fill="#fff" fill-opacity="0.9" stroke="#9857c8" stroke-width="1.15"/>
<circle cx="526.8" cy="251.0" r="1.45" fill="#fff" fill-opacity="0.9" stroke="#9857c8" stroke-width="1.15"/>
<circle cx="528.0" cy="250.5" r="1.45" fill="#fff" fill-opacity="0.9" stroke="#9857c8" stroke-width="1.15"/>
<circle cx="529.0" cy="252.1" r="1.45" fill="#fff" fill-opacity="0.9" stroke="#9857c8" stroke-width="1.15"/>
<circle cx="529.1" cy="251.7" r="1.45" fill="#fff" fill-opacity="0.9" stroke="#9857c8" stroke-width="1.15"/>
<circle cx="530.7" cy="254.5" r="1.45" fill="#fff" fill-opacity="0.9" stroke="#9857c8" stroke-width="1.15"/>
<circle cx="531.1" cy="257.1" r="1.45" fill="#fff" fill-opacity="0.9" stroke="#9857c8" stroke-width="1.15"/>
<circle cx="531.7" cy="259.2" r="1.45" fill="#fff" fill-opacity="0.9" stroke="#9857c8" stroke-width="1.15"/>
<circle cx="531.6" cy="260.7" r="1.45" fill="#fff" fill-opacity="0.9" stroke="#9857c8" stroke-width="1.15"/>
<circle cx="532.1" cy="262.7" r="1.45" fill="#fff" fill-opacity="0.9" stroke="#9857c8" stroke-width="1.15"/>
<circle cx="533.3" cy="262.9" r="1.45" fill="#fff" fill-opacity="0.9" stroke="#9857c8" stroke-width="1.15"/>
<circle cx="533.7" cy="263.6" r="1.45" fill="#fff" fill-opacity="0.9" stroke="#9857c8" stroke-width="1.15"/>
<circle cx="537.0" cy="264.4" r="1.45" fill="#fff" fill-opacity="0.9" stroke="#9857c8" stroke-width="1.15"/>
<circle cx="538.1" cy="264.6" r="1.45" fill="#fff" fill-opacity="0.9" stroke="#9857c8" stroke-width="1.15"/>
<circle cx="539.6" cy="265.6" r="1.45" fill="#fff" fill-opacity="0.9" stroke="#9857c8" stroke-width="1.15"/>
<circle cx="541.1" cy="266.9" r="1.45" fill="#fff" fill-opacity="0.9" stroke="#9857c8" stroke-width="1.15"/>
<circle cx="543.3" cy="268.3" r="1.45" fill="#fff" fill-opacity="0.9" stroke="#9857c8" stroke-width="1.15"/>
<circle cx="545.7" cy="269.2" r="1.45" fill="#fff" fill-opacity="0.9" stroke="#9857c8" stroke-width="1.15"/>
<circle cx="548.2" cy="270.2" r="1.45" fill="#fff" fill-opacity="0.9" stroke="#9857c8" stroke-width="1.15"/>
<circle cx="550.0" cy="269.6" r="1.45" fill="#fff" fill-opacity="0.9" stroke="#9857c8" stroke-width="1.15"/>
<circle cx="552.3" cy="271.1" r="1.45" fill="#fff" fill-opacity="0.9" stroke="#9857c8" stroke-width="1.15"/>
<circle cx="554.4" cy="270.3" r="1.45" fill="#fff" fill-opacity="0.9" stroke="#9857c8" stroke-width="1.15"/>
<circle cx="556.0" cy="269.7" r="1.45" fill="#fff" fill-opacity="0.9" stroke="#9857c8" stroke-width="1.15"/>
<circle cx="556.0" cy="271.4" r="1.45" fill="#fff" fill-opacity="0.9" stroke="#9857c8" stroke-width="1.15"/>
<circle cx="554.8" cy="271.6" r="1.45" fill="#fff" fill-opacity="0.9" stroke="#9857c8" stroke-width="1.15"/>
<circle cx="555.0" cy="273.5" r="1.45" fill="#fff" fill-opacity="0.9" stroke="#9857c8" stroke-width="1.15"/>
<polyline points="552.5,275.4 553.9,276.6 554.4,278.1 557,280 557.6,279.8 558.1,280.8 558.3,281.3 557.5,283.9 557.7,284.8 556.8,284.8 557.2,286.7 559.3,288.2 560.9,287.9 561.7,290 562.9,290.2 564.1,291.2 565.6,291.9 565.6,290.2 566.9,290.1 569.2,291.4 571,291.5 573.5,292.4 573.4,291.5 575.2,290.4 574.5,290.8 576,289.3 577.5,287.7 579.5,286.1 579.8,285.2 581.5,284.5 582.3,284.5 583.5,284.1 585.9,283.3 586.5,284" fill="none" stroke="#555" stroke-width="0.5" stroke-linejoin="round"/>
<circle cx="552.5" cy="275.4" r="1.45" fill="#fff" fill-opacity="0.9" stroke="#e8824a" stroke-width="1.15"/>
<circle cx="553.9" cy="276.6" r="1.45" fill="#fff" fill-opacity="0.9" stroke="#e8824a" stroke-width="1.15"/>
<circle cx="554.4" cy="278.1" r="1.45" fill="#fff" fill-opacity="0.9" stroke="#e8824a" stroke-width="1.15"/>
<circle cx="557.0" cy="280.0" r="1.45" fill="#fff" fill-opacity="0.9" stroke="#e8824a" stroke-width="1.15"/>
<circle cx="557.6" cy="279.8" r="1.45" fill="#fff" fill-opacity="0.9" stroke="#e8824a" stroke-width="1.15"/>
<circle cx="558.1" cy="280.8" r="1.45" fill="#fff" fill-opacity="0.9" stroke="#e8824a" stroke-width="1.15"/>
<circle cx="558.3" cy="281.3" r="1.45" fill="#fff" fill-opacity="0.9" stroke="#e8824a" stroke-width="1.15"/>
<circle cx="557.5" cy="283.9" r="1.45" fill="#fff" fill-opacity="0.9" stroke="#e8824a" stroke-width="1.15"/>
<circle cx="557.7" cy="284.8" r="1.45" fill="#fff" fill-opacity="0.9" stroke="#e8824a" stroke-width="1.15"/>
<circle cx="556.8" cy="284.8" r="1.45" fill="#fff" fill-opacity="0.9" stroke="#e8824a" stroke-width="1.15"/>
<circle cx="557.2" cy="286.7" r="1.45" fill="#fff" fill-opacity="0.9" stroke="#e8824a" stroke-width="1.15"/>
<circle cx="559.3" cy="288.2" r="1.45" fill="#fff" fill-opacity="0.9" stroke="#e8824a" stroke-width="1.15"/>
<circle cx="560.9" cy="287.9" r="1.45" fill="#fff" fill-opacity="0.9" stroke="#e8824a" stroke-width="1.15"/>
<circle cx="561.7" cy="290.0" r="1.45" fill="#fff" fill-opacity="0.9" stroke="#e8824a" stroke-width="1.15"/>
<circle cx="562.9" cy="290.2" r="1.45" fill="#fff" fill-opacity="0.9" stroke="#e8824a" stroke-width="1.15"/>
<circle cx="564.1" cy="291.2" r="1.45" fill="#fff" fill-opacity="0.9" stroke="#e8824a" stroke-width="1.15"/>
<circle cx="565.6" cy="291.9" r="1.45" fill="#fff" fill-opacity="0.9" stroke="#e8824a" stroke-width="1.15"/>
<circle cx="565.6" cy="290.2" r="1.45" fill="#fff" fill-opacity="0.9" stroke="#e8824a" stroke-width="1.15"/>
<circle cx="566.9" cy="290.1" r="1.45" fill="#fff" fill-opacity="0.9" stroke="#e8824a" stroke-width="1.15"/>
<circle cx="569.2" cy="291.4" r="1.45" fill="#fff" fill-opacity="0.9" stroke="#e8824a" stroke-width="1.15"/>
<circle cx="571.0" cy="291.5" r="1.45" fill="#fff" fill-opacity="0.9" stroke="#e8824a" stroke-width="1.15"/>
<circle cx="573.5" cy="292.4" r="1.45" fill="#fff" fill-opacity="0.9" stroke="#e8824a" stroke-width="1.15"/>
<circle cx="573.4" cy="291.5" r="1.45" fill="#fff" fill-opacity="0.9" stroke="#e8824a" stroke-width="1.15"/>
<circle cx="575.2" cy="290.4" r="1.45" fill="#fff" fill-opacity="0.9" stroke="#e8824a" stroke-width="1.15"/>
<circle cx="574.5" cy="290.8" r="1.45" fill="#fff" fill-opacity="0.9" stroke="#e8824a" stroke-width="1.15"/>
<circle cx="576.0" cy="289.3" r="1.45" fill="#fff" fill-opacity="0.9" stroke="#e8824a" stroke-width="1.15"/>
<circle cx="577.5" cy="287.7" r="1.45" fill="#fff" fill-opacity="0.9" stroke="#e8824a" stroke-width="1.15"/>
<circle cx="579.5" cy="286.1" r="1.45" fill="#fff" fill-opacity="0.9" stroke="#e8824a" stroke-width="1.15"/>
<circle cx="579.8" cy="285.2" r="1.45" fill="#fff" fill-opacity="0.9" stroke="#e8824a" stroke-width="1.15"/>
<circle cx="581.5" cy="284.5" r="1.45" fill="#fff" fill-opacity="0.9" stroke="#e8824a" stroke-width="1.15"/>
<circle cx="582.3" cy="284.5" r="1.45" fill="#fff" fill-opacity="0.9" stroke="#e8824a" stroke-width="1.15"/>
<circle cx="583.5" cy="284.1" r="1.45" fill="#fff" fill-opacity="0.9" stroke="#e8824a" stroke-width="1.15"/>
<circle cx="585.9" cy="283.3" r="1.45" fill="#fff" fill-opacity="0.9" stroke="#e8824a" stroke-width="1.15"/>
<circle cx="586.5" cy="284.0" r="1.45" fill="#fff" fill-opacity="0.9" stroke="#e8824a" stroke-width="1.15"/>
<polyline points="589.7,247.6 590.4,246.5 590.5,245 589.6,242.8 590.9,241.3 590.5,238.6 589.5,237.1 591.1,237.1 591.6,235.9 593.5,236.6 595.6,236.4 596.8,237.5 597.6,238.6 598.3,240.6 600.4,240 603.5,241.7 603.5,241.9 605.1,241.4 605.6,241.9 607.4,240.7 608.6,238.4 608.5,237 609,235.6 610.2,235.4 610.5,234.4 612,232.5 613.8,231.7 613.7,230.5 615.6,228.6 617.2,227.4 618,227.7 618.4,227.3 620.8,226.6 621.9,225.4 623.7,226.1 625.2,224.9 628,224.3 628.4,222.4 630.2,222.3 630.9,221.4 633.3,221.3 633.1,221.1 635.1,220" fill="none" stroke="#e05050" stroke-width="0.5" stroke-linejoin="round"/>
<circle cx="589.7" cy="247.6" r="1.45" fill="#fff" fill-opacity="0.9" stroke="#9857c8" stroke-width="1.15"/>
<circle cx="590.4" cy="246.5" r="1.45" fill="#fff" fill-opacity="0.9" stroke="#9857c8" stroke-width="1.15"/>
<circle cx="590.5" cy="245.0" r="1.45" fill="#fff" fill-opacity="0.9" stroke="#9857c8" stroke-width="1.15"/>
<circle cx="589.6" cy="242.8" r="1.45" fill="#fff" fill-opacity="0.9" stroke="#9857c8" stroke-width="1.15"/>
<circle cx="590.9" cy="241.3" r="1.45" fill="#fff" fill-opacity="0.9" stroke="#9857c8" stroke-width="1.15"/>
<circle cx="590.5" cy="238.6" r="1.45" fill="#fff" fill-opacity="0.9" stroke="#9857c8" stroke-width="1.15"/>
<circle cx="589.5" cy="237.1" r="1.45" fill="#fff" fill-opacity="0.9" stroke="#9857c8" stroke-width="1.15"/>
<circle cx="591.1" cy="237.1" r="1.45" fill="#fff" fill-opacity="0.9" stroke="#9857c8" stroke-width="1.15"/>
<circle cx="591.6" cy="235.9" r="1.45" fill="#fff" fill-opacity="0.9" stroke="#9857c8" stroke-width="1.15"/>
<circle cx="593.5" cy="236.6" r="1.45" fill="#fff" fill-opacity="0.9" stroke="#9857c8" stroke-width="1.15"/>
<circle cx="595.6" cy="236.4" r="1.45" fill="#fff" fill-opacity="0.9" stroke="#9857c8" stroke-width="1.15"/>
<circle cx="596.8" cy="237.5" r="1.45" fill="#fff" fill-opacity="0.9" stroke="#9857c8" stroke-width="1.15"/>
<circle cx="597.6" cy="238.6" r="1.45" fill="#fff" fill-opacity="0.9" stroke="#9857c8" stroke-width="1.15"/>
<circle cx="598.3" cy="240.6" r="1.45" fill="#fff" fill-opacity="0.9" stroke="#9857c8" stroke-width="1.15"/>
<circle cx="600.4" cy="240.0" r="1.45" fill="#fff" fill-opacity="0.9" stroke="#9857c8" stroke-width="1.15"/>
<circle cx="603.5" cy="241.7" r="1.45" fill="#fff" fill-opacity="0.9" stroke="#9857c8" stroke-width="1.15"/>
<circle cx="603.5" cy="241.9" r="1.45" fill="#fff" fill-opacity="0.9" stroke="#9857c8" stroke-width="1.15"/>
<circle cx="605.1" cy="241.4" r="1.45" fill="#fff" fill-opacity="0.9" stroke="#9857c8" stroke-width="1.15"/>
<circle cx="605.6" cy="241.9" r="1.45" fill="#fff" fill-opacity="0.9" stroke="#9857c8" stroke-width="1.15"/>
<circle cx="607.4" cy="240.7" r="1.45" fill="#fff" fill-opacity="0.9" stroke="#9857c8" stroke-width="1.15"/>
<circle cx="608.6" cy="238.4" r="1.45" fill="#fff" fill-opacity="0.9" stroke="#9857c8" stroke-width="1.15"/>
<circle cx="608.5" cy="237.0" r="1.45" fill="#fff" fill-opacity="0.9" stroke="#9857c8" stroke-width="1.15"/>
<circle cx="609.0" cy="235.6" r="1.45" fill="#fff" fill-opacity="0.9" stroke="#9857c8" stroke-width="1.15"/>
<circle cx="610.2" cy="235.4" r="1.45" fill="#fff" fill-opacity="0.9" stroke="#9857c8" stroke-width="1.15"/>
<circle cx="610.5" cy="234.4" r="1.45" fill="#fff" fill-opacity="0.9" stroke="#9857c8" stroke-width="1.15"/>
<circle cx="612.0" cy="232.5" r="1.45" fill="#fff" fill-opacity="0.9" stroke="#9857c8" stroke-width="1.15"/>
<circle cx="613.8" cy="231.7" r="1.45" fill="#fff" fill-opacity="0.9" stroke="#9857c8" stroke-width="1.15"/>
<circle cx="613.7" cy="230.5" r="1.45" fill="#fff" fill-opacity="0.9" stroke="#9857c8" stroke-width="1.15"/>
<circle cx="615.6" cy="228.6" r="1.45" fill="#fff" fill-opacity="0.9" stroke="#9857c8" stroke-width="1.15"/>
<circle cx="617.2" cy="227.4" r="1.45" fill="#fff" fill-opacity="0.9" stroke="#9857c8" stroke-width="1.15"/>
<circle cx="618.0" cy="227.7" r="1.45" fill="#fff" fill-opacity="0.9" stroke="#9857c8" stroke-width="1.15"/>
<circle cx="618.4" cy="227.3" r="1.45" fill="#fff" fill-opacity="0.9" stroke="#9857c8" stroke-width="1.15"/>
<circle cx="620.8" cy="226.6" r="1.45" fill="#fff" fill-opacity="0.9" stroke="#9857c8" stroke-width="1.15"/>
<circle cx="621.9" cy="225.4" r="1.45" fill="#fff" fill-opacity="0.9" stroke="#9857c8" stroke-width="1.15"/>
<circle cx="623.7" cy="226.1" r="1.45" fill="#fff" fill-opacity="0.9" stroke="#9857c8" stroke-width="1.15"/>
<circle cx="625.2" cy="224.9" r="1.45" fill="#fff" fill-opacity="0.9" stroke="#9857c8" stroke-width="1.15"/>
<circle cx="628.0" cy="224.3" r="1.45" fill="#fff" fill-opacity="0.9" stroke="#9857c8" stroke-width="1.15"/>
<circle cx="628.4" cy="222.4" r="1.45" fill="#fff" fill-opacity="0.9" stroke="#9857c8" stroke-width="1.15"/>
<circle cx="630.2" cy="222.3" r="1.45" fill="#fff" fill-opacity="0.9" stroke="#9857c8" stroke-width="1.15"/>
<circle cx="630.9" cy="221.4" r="1.45" fill="#fff" fill-opacity="0.9" stroke="#9857c8" stroke-width="1.15"/>
<circle cx="633.3" cy="221.3" r="1.45" fill="#fff" fill-opacity="0.9" stroke="#9857c8" stroke-width="1.15"/>
<circle cx="633.1" cy="221.1" r="1.45" fill="#fff" fill-opacity="0.9" stroke="#9857c8" stroke-width="1.15"/>
<circle cx="635.1" cy="220.0" r="1.45" fill="#fff" fill-opacity="0.9" stroke="#9857c8" stroke-width="1.15"/>
<polyline points="636.5,216.2 637.7,215.2 638.6,216 641.2,216.1 642.7,214.7 644.3,213.3 646.9,211.1 647.7,210.1 648.2,208.5 650.5,206.5 651.4,208.7 652.3,209.5 651.9,211.8 654.3,211.8 654.2,211.9 656.3,212.7 657.8,212.9 657.3,212.7 658.5,212.9 660,213.9 660.2,216 661,218.3 661.1,216.3 663.6,215.3 665,214 666.1,216.6 665.3,218.6 666.3,219.5 668.3,219.4 669.6,220.7 671.9,220" fill="none" stroke="#555" stroke-width="0.5" stroke-linejoin="round"/>
<circle cx="636.5" cy="216.2" r="1.45" fill="#fff" fill-opacity="0.9" stroke="#e8824a" stroke-width="1.15"/>
<circle cx="637.7" cy="215.2" r="1.45" fill="#fff" fill-opacity="0.9" stroke="#e8824a" stroke-width="1.15"/>
<circle cx="638.6" cy="216.0" r="1.45" fill="#fff" fill-opacity="0.9" stroke="#e8824a" stroke-width="1.15"/>
<circle cx="641.2" cy="216.1" r="1.45" fill="#fff" fill-opacity="0.9" stroke="#e8824a" stroke-width="1.15"/>
<circle cx="642.7" cy="214.7" r="1.45" fill="#fff" fill-opacity="0.9" stroke="#e8824a" stroke-width="1.15"/>
<circle cx="644.3" cy="213.3" r="1.45" fill="#fff" fill-opacity="0.9" stroke="#e8824a" stroke-width="1.15"/>
<circle cx="646.9" cy="211.1" r="1.45" fill="#fff" fill-opacity="0.9" stroke="#e8824a" stroke-width="1.15"/>
<circle cx="647.7" cy="210.1" r="1.45" fill="#fff" fill-opacity="0.9" stroke="#e8824a" stroke-width="1.15"/>
<circle cx="648.2" cy="208.5" r="1.45" fill="#fff" fill-opacity="0.9" stroke="#e8824a" stroke-width="1.15"/>
<circle cx="650.5" cy="206.5" r="1.45" fill="#fff" fill-opacity="0.9" stroke="#e8824a" stroke-width="1.15"/>
<circle cx="651.4" cy="208.7" r="1.45" fill="#fff" fill-opacity="0.9" stroke="#e8824a" stroke-width="1.15"/>
<circle cx="652.3" cy="209.5" r="1.45" fill="#fff" fill-opacity="0.9" stroke="#e8824a" stroke-width="1.15"/>
<circle cx="651.9" cy="211.8" r="1.45" fill="#fff" fill-opacity="0.9" stroke="#e8824a" stroke-width="1.15"/>
<circle cx="654.3" cy="211.8" r="1.45" fill="#fff" fill-opacity="0.9" stroke="#e8824a" stroke-width="1.15"/>
<circle cx="654.2" cy="211.9" r="1.45" fill="#fff" fill-opacity="0.9" stroke="#e8824a" stroke-width="1.15"/>
<circle cx="656.3" cy="212.7" r="1.45" fill="#fff" fill-opacity="0.9" stroke="#e8824a" stroke-width="1.15"/>
<circle cx="657.8" cy="212.9" r="1.45" fill="#fff" fill-opacity="0.9" stroke="#e8824a" stroke-width="1.15"/>
<circle cx="657.3" cy="212.7" r="1.45" fill="#fff" fill-opacity="0.9" stroke="#e8824a" stroke-width="1.15"/>
<circle cx="658.5" cy="212.9" r="1.45" fill="#fff" fill-opacity="0.9" stroke="#e8824a" stroke-width="1.15"/>
<circle cx="660.0" cy="213.9" r="1.45" fill="#fff" fill-opacity="0.9" stroke="#e8824a" stroke-width="1.15"/>
<circle cx="660.2" cy="216.0" r="1.45" fill="#fff" fill-opacity="0.9" stroke="#e8824a" stroke-width="1.15"/>
<circle cx="661.0" cy="218.3" r="1.45" fill="#fff" fill-opacity="0.9" stroke="#e8824a" stroke-width="1.15"/>
<circle cx="661.1" cy="216.3" r="1.45" fill="#fff" fill-opacity="0.9" stroke="#e8824a" stroke-width="1.15"/>
<circle cx="663.6" cy="215.3" r="1.45" fill="#fff" fill-opacity="0.9" stroke="#e8824a" stroke-width="1.15"/>
<circle cx="665.0" cy="214.0" r="1.45" fill="#fff" fill-opacity="0.9" stroke="#e8824a" stroke-width="1.15"/>
<circle cx="666.1" cy="216.6" r="1.45" fill="#fff" fill-opacity="0.9" stroke="#e8824a" stroke-width="1.15"/>
<circle cx="665.3" cy="218.6" r="1.45" fill="#fff" fill-opacity="0.9" stroke="#e8824a" stroke-width="1.15"/>
<circle cx="666.3" cy="219.5" r="1.45" fill="#fff" fill-opacity="0.9" stroke="#e8824a" stroke-width="1.15"/>
<circle cx="668.3" cy="219.4" r="1.45" fill="#fff" fill-opacity="0.9" stroke="#e8824a" stroke-width="1.15"/>
<circle cx="669.6" cy="220.7" r="1.45" fill="#fff" fill-opacity="0.9" stroke="#e8824a" stroke-width="1.15"/>
<circle cx="671.9" cy="220.0" r="1.45" fill="#fff" fill-opacity="0.9" stroke="#e8824a" stroke-width="1.15"/>
<polyline points="572.6,322.2 573.7,322.9 574.1,324.3 573.8,325.5 574.7,322.7 575.6,319.4 577.1,318.1 577.8,318.2 579.8,320.7 580.9,320.9 582.2,321.4 582.6,323 581.9,323.9 583.3,323.7 584.3,321.8 586.3,320 587,319.1 587,319.1 589,319.2 588.6,322.1 589.2,324.2 590.1,327.6 590.2,327 591.9,327.3 593.4,325.9 594.5,324.2 594.1,323.9 594.2,321.9 594.5,322.5 596.4,322.7 597.2,322.5 598.1,324.4 599,325.7 600,327.2" fill="none" stroke="#e05050" stroke-width="0.5" stroke-linejoin="round"/>
<circle cx="572.6" cy="322.2" r="1.45" fill="#fff" fill-opacity="0.9" stroke="#9857c8" stroke-width="1.15"/>
<circle cx="573.7" cy="322.9" r="1.45" fill="#fff" fill-opacity="0.9" stroke="#9857c8" stroke-width="1.15"/>
<circle cx="574.1" cy="324.3" r="1.45" fill="#fff" fill-opacity="0.9" stroke="#9857c8" stroke-width="1.15"/>
<circle cx="573.8" cy="325.5" r="1.45" fill="#fff" fill-opacity="0.9" stroke="#9857c8" stroke-width="1.15"/>
<circle cx="574.7" cy="322.7" r="1.45" fill="#fff" fill-opacity="0.9" stroke="#9857c8" stroke-width="1.15"/>
<circle cx="575.6" cy="319.4" r="1.45" fill="#fff" fill-opacity="0.9" stroke="#9857c8" stroke-width="1.15"/>
<circle cx="577.1" cy="318.1" r="1.45" fill="#fff" fill-opacity="0.9" stroke="#9857c8" stroke-width="1.15"/>
<circle cx="577.8" cy="318.2" r="1.45" fill="#fff" fill-opacity="0.9" stroke="#9857c8" stroke-width="1.15"/>
<circle cx="579.8" cy="320.7" r="1.45" fill="#fff" fill-opacity="0.9" stroke="#9857c8" stroke-width="1.15"/>
<circle cx="580.9" cy="320.9" r="1.45" fill="#fff" fill-opacity="0.9" stroke="#9857c8" stroke-width="1.15"/>
<circle cx="582.2" cy="321.4" r="1.45" fill="#fff" fill-opacity="0.9" stroke="#9857c8" stroke-width="1.15"/>
<circle cx="582.6" cy="323.0" r="1.45" fill="#fff" fill-opacity="0.9" stroke="#9857c8" stroke-width="1.15"/>
<circle cx="581.9" cy="323.9" r="1.45" fill="#fff" fill-opacity="0.9" stroke="#9857c8" stroke-width="1.15"/>
<circle cx="583.3" cy="323.7" r="1.45" fill="#fff" fill-opacity="0.9" stroke="#9857c8" stroke-width="1.15"/>
<circle cx="584.3" cy="321.8" r="1.45" fill="#fff" fill-opacity="0.9" stroke="#9857c8" stroke-width="1.15"/>
<circle cx="586.3" cy="320.0" r="1.45" fill="#fff" fill-opacity="0.9" stroke="#9857c8" stroke-width="1.15"/>
<circle cx="587.0" cy="319.1" r="1.45" fill="#fff" fill-opacity="0.9" stroke="#9857c8" stroke-width="1.15"/>
<circle cx="587.0" cy="319.1" r="1.45" fill="#fff" fill-opacity="0.9" stroke="#9857c8" stroke-width="1.15"/>
<circle cx="589.0" cy="319.2" r="1.45" fill="#fff" fill-opacity="0.9" stroke="#9857c8" stroke-width="1.15"/>
<circle cx="588.6" cy="322.1" r="1.45" fill="#fff" fill-opacity="0.9" stroke="#9857c8" stroke-width="1.15"/>
<circle cx="589.2" cy="324.2" r="1.45" fill="#fff" fill-opacity="0.9" stroke="#9857c8" stroke-width="1.15"/>
<circle cx="590.1" cy="327.6" r="1.45" fill="#fff" fill-opacity="0.9" stroke="#9857c8" stroke-width="1.15"/>
<circle cx="590.2" cy="327.0" r="1.45" fill="#fff" fill-opacity="0.9" stroke="#9857c8" stroke-width="1.15"/>
<circle cx="591.9" cy="327.3" r="1.45" fill="#fff" fill-opacity="0.9" stroke="#9857c8" stroke-width="1.15"/>
<circle cx="593.4" cy="325.9" r="1.45" fill="#fff" fill-opacity="0.9" stroke="#9857c8" stroke-width="1.15"/>
<circle cx="594.5" cy="324.2" r="1.45" fill="#fff" fill-opacity="0.9" stroke="#9857c8" stroke-width="1.15"/>
<circle cx="594.1" cy="323.9" r="1.45" fill="#fff" fill-opacity="0.9" stroke="#9857c8" stroke-width="1.15"/>
<circle cx="594.2" cy="321.9" r="1.45" fill="#fff" fill-opacity="0.9" stroke="#9857c8" stroke-width="1.15"/>
<circle cx="594.5" cy="322.5" r="1.45" fill="#fff" fill-opacity="0.9" stroke="#9857c8" stroke-width="1.15"/>
<circle cx="596.4" cy="322.7" r="1.45" fill="#fff" fill-opacity="0.9" stroke="#9857c8" stroke-width="1.15"/>
<circle cx="597.2" cy="322.5" r="1.45" fill="#fff" fill-opacity="0.9" stroke="#9857c8" stroke-width="1.15"/>
<circle cx="598.1" cy="324.4" r="1.45" fill="#fff" fill-opacity="0.9" stroke="#9857c8" stroke-width="1.15"/>
<circle cx="599.0" cy="325.7" r="1.45" fill="#fff" fill-opacity="0.9" stroke="#9857c8" stroke-width="1.15"/>
<circle cx="600.0" cy="327.2" r="1.45" fill="#fff" fill-opacity="0.9" stroke="#9857c8" stroke-width="1.15"/>
<polyline points="602.2,330.7 603.5,330.8 604.8,330.5 607.9,331.1 609.1,330.9 610.5,330.4 611.7,330.4 612.7,329.6 613.8,330 615.6,331.4 617.3,330.6 618.9,332.8 620.3,332.7 622,333 623.1,333.4 624.6,333.6 625.3,331.7 623.9,329 625.4,328 625.8,328.6 628.2,327.9 630.5,326.8 631.3,327.9 632.7,327.7 634.4,327.5 636,329.2 636.9,329.5 636.3,330.1 638.3,330.1 639,330.3 641.2,329.3 641,330.8 640.9,333.3 641.7,335.8 643.3,336.8 645.7,336 646.3,336.2 648.2,337.1 648.8,336.1 650.5,334.2 652.5,335.4 652.6,336.1 653.9,336.7 654.5,337.8 655.1,338.8 654.5,339.6 656,339.8 657.9,339.7 659.6,339 661.9,338.4 661.7,339.1 664,340.3" fill="none" stroke="#555" stroke-width="0.5" stroke-linejoin="round"/>
<circle cx="602.2" cy="330.7" r="1.45" fill="#fff" fill-opacity="0.9" stroke="#e8824a" stroke-width="1.15"/>
<circle cx="603.5" cy="330.8" r="1.45" fill="#fff" fill-opacity="0.9" stroke="#e8824a" stroke-width="1.15"/>
<circle cx="604.8" cy="330.5" r="1.45" fill="#fff" fill-opacity="0.9" stroke="#e8824a" stroke-width="1.15"/>
<circle cx="607.9" cy="331.1" r="1.45" fill="#fff" fill-opacity="0.9" stroke="#e8824a" stroke-width="1.15"/>
<circle cx="609.1" cy="330.9" r="1.45" fill="#fff" fill-opacity="0.9" stroke="#e8824a" stroke-width="1.15"/>
<circle cx="610.5" cy="330.4" r="1.45" fill="#fff" fill-opacity="0.9" stroke="#e8824a" stroke-width="1.15"/>
<circle cx="611.7" cy="330.4" r="1.45" fill="#fff" fill-opacity="0.9" stroke="#e8824a" stroke-width="1.15"/>
<circle cx="612.7" cy="329.6" r="1.45" fill="#fff" fill-opacity="0.9" stroke="#e8824a" stroke-width="1.15"/>
<circle cx="613.8" cy="330.0" r="1.45" fill="#fff" fill-opacity="0.9" stroke="#e8824a" stroke-width="1.15"/>
<circle cx="615.6" cy="331.4" r="1.45" fill="#fff" fill-opacity="0.9" stroke="#e8824a" stroke-width="1.15"/>
<circle cx="617.3" cy="330.6" r="1.45" fill="#fff" fill-opacity="0.9" stroke="#e8824a" stroke-width="1.15"/>
<circle cx="618.9" cy="332.8" r="1.45" fill="#fff" fill-opacity="0.9" stroke="#e8824a" stroke-width="1.15"/>
<circle cx="620.3" cy="332.7" r="1.45" fill="#fff" fill-opacity="0.9" stroke="#e8824a" stroke-width="1.15"/>
<circle cx="622.0" cy="333.0" r="1.45" fill="#fff" fill-opacity="0.9" stroke="#e8824a" stroke-width="1.15"/>
<circle cx="623.1" cy="333.4" r="1.45" fill="#fff" fill-opacity="0.9" stroke="#e8824a" stroke-width="1.15"/>
<circle cx="624.6" cy="333.6" r="1.45" fill="#fff" fill-opacity="0.9" stroke="#e8824a" stroke-width="1.15"/>
<circle cx="625.3" cy="331.7" r="1.45" fill="#fff" fill-opacity="0.9" stroke="#e8824a" stroke-width="1.15"/>
<circle cx="623.9" cy="329.0" r="1.45" fill="#fff" fill-opacity="0.9" stroke="#e8824a" stroke-width="1.15"/>
<circle cx="625.4" cy="328.0" r="1.45" fill="#fff" fill-opacity="0.9" stroke="#e8824a" stroke-width="1.15"/>
<circle cx="625.8" cy="328.6" r="1.45" fill="#fff" fill-opacity="0.9" stroke="#e8824a" stroke-width="1.15"/>
<circle cx="628.2" cy="327.9" r="1.45" fill="#fff" fill-opacity="0.9" stroke="#e8824a" stroke-width="1.15"/>
<circle cx="630.5" cy="326.8" r="1.45" fill="#fff" fill-opacity="0.9" stroke="#e8824a" stroke-width="1.15"/>
<circle cx="631.3" cy="327.9" r="1.45" fill="#fff" fill-opacity="0.9" stroke="#e8824a" stroke-width="1.15"/>
<circle cx="632.7" cy="327.7" r="1.45" fill="#fff" fill-opacity="0.9" stroke="#e8824a" stroke-width="1.15"/>
<circle cx="634.4" cy="327.5" r="1.45" fill="#fff" fill-opacity="0.9" stroke="#e8824a" stroke-width="1.15"/>
<circle cx="636.0" cy="329.2" r="1.45" fill="#fff" fill-opacity="0.9" stroke="#e8824a" stroke-width="1.15"/>
<circle cx="636.9" cy="329.5" r="1.45" fill="#fff" fill-opacity="0.9" stroke="#e8824a" stroke-width="1.15"/>
<circle cx="636.3" cy="330.1" r="1.45" fill="#fff" fill-opacity="0.9" stroke="#e8824a" stroke-width="1.15"/>
<circle cx="638.3" cy="330.1" r="1.45" fill="#fff" fill-opacity="0.9" stroke="#e8824a" stroke-width="1.15"/>
<circle cx="639.0" cy="330.3" r="1.45" fill="#fff" fill-opacity="0.9" stroke="#e8824a" stroke-width="1.15"/>
<circle cx="641.2" cy="329.3" r="1.45" fill="#fff" fill-opacity="0.9" stroke="#e8824a" stroke-width="1.15"/>
<circle cx="641.0" cy="330.8" r="1.45" fill="#fff" fill-opacity="0.9" stroke="#e8824a" stroke-width="1.15"/>
<circle cx="640.9" cy="333.3" r="1.45" fill="#fff" fill-opacity="0.9" stroke="#e8824a" stroke-width="1.15"/>
<circle cx="641.7" cy="335.8" r="1.45" fill="#fff" fill-opacity="0.9" stroke="#e8824a" stroke-width="1.15"/>
<circle cx="643.3" cy="336.8" r="1.45" fill="#fff" fill-opacity="0.9" stroke="#e8824a" stroke-width="1.15"/>
<circle cx="645.7" cy="336.0" r="1.45" fill="#fff" fill-opacity="0.9" stroke="#e8824a" stroke-width="1.15"/>
<circle cx="646.3" cy="336.2" r="1.45" fill="#fff" fill-opacity="0.9" stroke="#e8824a" stroke-width="1.15"/>
<circle cx="648.2" cy="337.1" r="1.45" fill="#fff" fill-opacity="0.9" stroke="#e8824a" stroke-width="1.15"/>
<circle cx="648.8" cy="336.1" r="1.45" fill="#fff" fill-opacity="0.9" stroke="#e8824a" stroke-width="1.15"/>
<circle cx="650.5" cy="334.2" r="1.45" fill="#fff" fill-opacity="0.9" stroke="#e8824a" stroke-width="1.15"/>
<circle cx="652.5" cy="335.4" r="1.45" fill="#fff" fill-opacity="0.9" stroke="#e8824a" stroke-width="1.15"/>
<circle cx="652.6" cy="336.1" r="1.45" fill="#fff" fill-opacity="0.9" stroke="#e8824a" stroke-width="1.15"/>
<circle cx="653.9" cy="336.7" r="1.45" fill="#fff" fill-opacity="0.9" stroke="#e8824a" stroke-width="1.15"/>
<circle cx="654.5" cy="337.8" r="1.45" fill="#fff" fill-opacity="0.9" stroke="#e8824a" stroke-width="1.15"/>
<circle cx="655.1" cy="338.8" r="1.45" fill="#fff" fill-opacity="0.9" stroke="#e8824a" stroke-width="1.15"/>
<circle cx="654.5" cy="339.6" r="1.45" fill="#fff" fill-opacity="0.9" stroke="#e8824a" stroke-width="1.15"/>
<circle cx="656.0" cy="339.8" r="1.45" fill="#fff" fill-opacity="0.9" stroke="#e8824a" stroke-width="1.15"/>
<circle cx="657.9" cy="339.7" r="1.45" fill="#fff" fill-opacity="0.9" stroke="#e8824a" stroke-width="1.15"/>
<circle cx="659.6" cy="339.0" r="1.45" fill="#fff" fill-opacity="0.9" stroke="#e8824a" stroke-width="1.15"/>
<circle cx="661.9" cy="338.4" r="1.45" fill="#fff" fill-opacity="0.9" stroke="#e8824a" stroke-width="1.15"/>
<circle cx="661.7" cy="339.1" r="1.45" fill="#fff" fill-opacity="0.9" stroke="#e8824a" stroke-width="1.15"/>
<circle cx="664.0" cy="340.3" r="1.45" fill="#fff" fill-opacity="0.9" stroke="#e8824a" stroke-width="1.15"/>
<text x="543.2" y="254.7" font-size="9.8" text-anchor="start" fill="#231f20" dominant-baseline="central">Particle 1</text>
<text x="621.9" y="242.7" font-size="9.8" text-anchor="start" fill="#231f20" dominant-baseline="central">Particle 2</text>
<text x="583.2" y="292.8" font-size="9.8" text-anchor="start" fill="#231f20" dominant-baseline="central">Particle 3</text>
<text x="622.8" y="318.6" font-size="9.8" text-anchor="start" fill="#231f20" dominant-baseline="central">Particle 4</text>
<line x1="498.2" y1="320.5" x2="520.1" y2="320.5" stroke="#666" stroke-width="0.9"/>
<circle cx="509.0" cy="320.5" r="1.65" fill="#fff" fill-opacity="0.9" stroke="#e8824a" stroke-width="1.3"/>
<text x="522.7" y="320.7" font-size="10" text-anchor="start" fill="#231f20" dominant-baseline="central">0-20 s</text>
<line x1="498.2" y1="332.1" x2="520.1" y2="332.1" stroke="#e86060" stroke-width="0.9"/>
<circle cx="509.0" cy="332.1" r="1.65" fill="#fff" fill-opacity="0.9" stroke="#9857c8" stroke-width="1.3"/>
<text x="522.7" y="332.3" font-size="10" text-anchor="start" fill="#231f20" dominant-baseline="central">20-40 s</text>
<text x="581.4" y="372.4" font-size="11.7" text-anchor="middle" dominant-baseline="central" fill="#231f20"><tspan font-style="italic">X</tspan> (μm)</text>
<text x="0" y="0" font-size="11.9" text-anchor="middle" dominant-baseline="central" fill="#231f20" transform="translate(461.7,270.4) rotate(-90)"><tspan font-style="italic">Y</tspan> (μm)</text>
<text x="-0.5" y="391.2" font-size="17" text-anchor="start" font-weight="bold" fill="#000" dominant-baseline="central">g</text>
<rect x="58.8" y="434.8" width="8.1" height="102.2" fill="#f9cdcd" stroke="none" stroke-width="1"/>
<clipPath id="gclip"><rect x="18.2" y="397" width="307" height="140"/></clipPath>
<g clip-path="url(#gclip)">
<path d="M18.2,416.0 C19.7,416.2 24.5,416.4 27.2,417.2 C29.9,418.0 32.5,418.8 34.5,420.8 C36.5,422.8 37.8,426.3 39.4,429.4 C41.0,432.4 42.2,436.3 44.2,439.1 C46.2,441.9 48.5,444.6 51.5,446.4 C54.5,448.2 59.5,449.8 62.5,450.1 C65.5,450.4 67.6,449.6 69.8,448.4 C72.0,447.2 73.7,444.4 75.9,442.7 C78.1,440.9 80.0,439.5 83.2,437.9 C86.5,436.3 90.5,434.6 95.4,433.0 C100.3,431.4 107.1,429.2 112.4,428.1 C117.7,427.0 122.1,426.7 127.0,426.4 C131.9,426.1 134.5,426.3 141.6,426.2 C148.7,426.1 164.7,425.7 169.3,425.6" fill="none" stroke="#555555" stroke-width="1.7" stroke-linejoin="round" stroke-linecap="butt"/>
<path d="M18.2,453.0 C19.3,453.0 22.4,452.5 24.7,453.0 C27.0,453.5 29.6,453.6 32.0,456.1 C34.5,458.7 36.9,463.8 39.4,468.3 C41.9,472.8 44.3,478.8 46.7,482.9 C49.1,487.0 51.4,490.3 54.0,492.7 C56.6,495.1 59.7,496.9 62.5,497.1 C65.3,497.3 68.4,495.8 71.0,493.9 C73.6,491.9 75.5,488.4 78.3,485.4 C81.1,482.3 84.0,478.9 88.1,475.6 C92.2,472.4 97.8,468.7 102.7,465.9 C107.6,463.1 112.4,460.6 117.3,458.6 C122.2,456.6 128.2,454.8 131.9,453.7 C135.6,452.6 133.0,452.2 139.2,452.0 C145.4,451.8 164.3,452.5 169.3,452.6" fill="none" stroke="#e8474a" stroke-width="1.7" stroke-linejoin="round" stroke-linecap="butt"/>
<path d="M18.2,490.7 C19.5,490.7 23.5,490.0 26.0,490.7 C28.5,491.4 30.9,492.3 33.3,495.1 C35.7,497.9 38.2,502.8 40.6,507.3 C43.0,511.8 45.5,518.0 47.9,521.9 C50.3,525.8 52.8,528.4 55.2,530.4 C57.6,532.4 60.1,533.9 62.5,534.1 C64.9,534.3 67.4,533.2 69.8,531.6 C72.2,530.0 74.5,527.5 77.1,524.3 C79.7,521.1 82.1,515.4 85.6,512.2 C89.0,509.0 93.3,507.1 97.8,504.9 C102.3,502.7 107.5,500.4 112.4,498.8 C117.3,497.2 123.9,495.6 127.0,495.1 C130.1,494.6 129.8,495.3 131.0,495.6 C132.2,495.9 133.3,496.9 134.3,496.8 C135.3,496.7 135.0,495.7 137.0,495.2 C139.0,494.7 141.1,494.6 146.5,493.9 C151.9,493.2 165.5,491.6 169.3,491.2" fill="none" stroke="#8e4fbb" stroke-width="1.7" stroke-linejoin="round" stroke-linecap="butt"/>
<path d="M174.6,431.1 C176.2,431.3 181.7,431.6 184.3,432.3 C186.9,433.0 188.4,433.9 190.3,435.5 C192.2,437.1 193.6,441.2 195.8,442.0 C198.0,442.8 200.6,440.9 203.5,440.3 C206.4,439.7 210.0,439.0 213.2,438.6 C216.4,438.2 220.4,437.9 222.8,438.1 C225.2,438.3 225.2,439.4 227.6,439.6 C230.0,439.9 234.5,439.8 237.3,439.6 C240.1,439.4 240.5,438.6 244.5,438.6 C248.5,438.6 256.5,439.1 261.3,439.6 C266.1,440.1 269.4,440.7 273.4,441.5 C277.4,442.3 281.4,443.3 285.4,444.4 C289.4,445.5 294.3,447.9 297.5,448.2 C300.7,448.5 302.3,447.2 304.7,446.3 C307.1,445.4 309.5,443.5 311.9,442.9 C314.3,442.3 316.9,442.4 319.1,442.7 C321.3,442.9 324.2,444.1 325.2,444.4" fill="none" stroke="#555555" stroke-width="1.7" stroke-linejoin="round" stroke-linecap="butt"/>
<path d="M174.6,453.1 C176.2,453.4 181.7,453.6 184.3,454.7 C186.9,455.8 188.5,457.0 190.3,459.6 C192.1,462.2 193.3,468.0 195.1,470.4 C196.9,472.8 199.3,474.1 201.1,474.0 C202.9,473.9 204.3,471.5 205.9,469.9 C207.5,468.3 208.8,465.9 210.8,464.4 C212.8,462.9 215.8,460.8 218.0,460.8 C220.2,460.8 222.2,463.3 224.0,464.4 C225.8,465.5 227.2,467.5 228.8,467.5 C230.4,467.5 231.4,465.7 233.6,464.4 C235.8,463.1 238.7,460.7 242.1,459.6 C245.5,458.5 250.5,458.1 254.1,457.9 C257.7,457.7 260.5,457.8 263.7,458.4 C266.9,458.9 269.8,459.8 273.4,461.2 C277.0,462.6 282.2,464.9 285.4,466.8 C288.6,468.7 290.4,471.3 292.6,472.8 C294.8,474.3 296.9,475.5 298.7,475.7 C300.5,475.9 301.7,475.3 303.5,474.0 C305.3,472.7 307.3,469.3 309.5,468.0 C311.7,466.7 314.7,466.1 316.7,466.1 C318.7,466.1 320.1,467.0 321.5,468.0 C322.9,469.0 324.6,471.4 325.2,472.1" fill="none" stroke="#e8474a" stroke-width="1.7" stroke-linejoin="round" stroke-linecap="butt"/>
<path d="M174.6,491.6 C176.2,491.9 181.7,492.2 184.3,493.3 C186.9,494.4 188.3,495.4 190.3,498.1 C192.3,500.8 194.5,507.6 196.3,509.4 C198.1,511.2 199.3,510.0 201.1,508.9 C202.9,507.8 204.7,504.7 207.1,502.9 C209.5,501.1 212.8,498.7 215.6,498.1 C218.4,497.5 222.0,498.6 224.0,499.3 C226.0,500.0 226.7,500.4 227.6,502.4 C228.5,504.4 228.9,511.3 229.5,511.3 C230.1,511.3 230.3,504.6 231.4,502.4 C232.5,500.2 233.9,499.2 236.1,498.1 C238.3,497.0 241.1,496.4 244.5,495.7 C247.9,495.0 252.5,493.9 256.5,494.0 C260.5,494.1 264.6,495.5 268.6,496.4 C272.6,497.3 277.2,497.9 280.6,499.3 C284.0,500.7 286.4,503.0 289.0,504.6 C291.6,506.2 293.9,508.4 296.3,508.9 C298.7,509.4 301.3,508.9 303.5,507.7 C305.7,506.5 307.3,503.2 309.5,501.7 C311.7,500.2 314.1,498.5 316.7,498.8 C319.3,499.1 323.8,502.8 325.2,503.6" fill="none" stroke="#8e4fbb" stroke-width="1.7" stroke-linejoin="round" stroke-linecap="butt"/>
</g>
<line x1="18.2" y1="397.4" x2="18.2" y2="537" stroke="#231f20" stroke-width="1.2"/>
<line x1="325.2" y1="397.4" x2="325.2" y2="537" stroke="#231f20" stroke-width="1.2"/>
<line x1="17.6" y1="397.4" x2="168.6" y2="397.4" stroke="#231f20" stroke-width="1.2"/>
<line x1="175.2" y1="397.4" x2="325.8" y2="397.4" stroke="#231f20" stroke-width="1.2"/>
<line x1="17.6" y1="537" x2="169.8" y2="537" stroke="#231f20" stroke-width="1.2"/>
<line x1="176.4" y1="537" x2="325.8" y2="537" stroke="#231f20" stroke-width="1.2"/>
<line x1="163.9" y1="401.6" x2="173.9" y2="393.1" stroke="#231f20" stroke-width="1.1"/>
<line x1="169.3" y1="401.6" x2="179.5" y2="393.1" stroke="#231f20" stroke-width="1.1"/>
<line x1="165.3" y1="541.3" x2="175.3" y2="532.8" stroke="#231f20" stroke-width="1.1"/>
<line x1="170.5" y1="541.3" x2="180.7" y2="532.8" stroke="#231f20" stroke-width="1.1"/>
<line x1="54.4" y1="537" x2="54.4" y2="541.6" stroke="#231f20" stroke-width="1"/>
<text x="54.4" y="549.3" font-size="10.4" text-anchor="middle" fill="#231f20" dominant-baseline="central">3500</text>
<line x1="126" y1="537" x2="126" y2="541.6" stroke="#231f20" stroke-width="1"/>
<text x="126" y="549.3" font-size="10.4" text-anchor="middle" fill="#231f20" dominant-baseline="central">3000</text>
<line x1="18.6" y1="537" x2="18.6" y2="539.2" stroke="#231f20" stroke-width="1"/>
<line x1="90.2" y1="537" x2="90.2" y2="539.2" stroke="#231f20" stroke-width="1"/>
<line x1="161.8" y1="537" x2="161.8" y2="539.2" stroke="#231f20" stroke-width="1"/>
<line x1="214.4" y1="537" x2="214.4" y2="541.6" stroke="#231f20" stroke-width="1"/>
<text x="214.4" y="549.3" font-size="10.4" text-anchor="middle" fill="#231f20" dominant-baseline="central">1500</text>
<line x1="284" y1="537" x2="284" y2="541.6" stroke="#231f20" stroke-width="1"/>
<text x="284" y="549.3" font-size="10.4" text-anchor="middle" fill="#231f20" dominant-baseline="central">1000</text>
<line x1="179.6" y1="537" x2="179.6" y2="539.2" stroke="#231f20" stroke-width="1"/>
<line x1="249.2" y1="537" x2="249.2" y2="539.2" stroke="#231f20" stroke-width="1"/>
<line x1="318.8" y1="537" x2="318.8" y2="539.2" stroke="#231f20" stroke-width="1"/>
<text x="173.3" y="568.4" font-size="11.4" text-anchor="middle" dominant-baseline="central" fill="#231f20">Frequency (cm<tspan dy="-3.5" font-size="7">-1</tspan><tspan dy="3.5">)</tspan></text>
<text x="0" y="0" font-size="11.4" text-anchor="middle" dominant-baseline="central" fill="#231f20" transform="translate(5.3,472.1) rotate(-90)">Transmittance</text>
<line x1="36.5" y1="406.1" x2="58.3" y2="406.1" stroke="#555555" stroke-width="1.3"/>
<text x="63.4" y="406.3" font-size="10.8" text-anchor="start" fill="#231f20" dominant-baseline="central">Pristine ZnO</text>
<line x1="36.5" y1="419.6" x2="58.3" y2="419.6" stroke="#e8474a" stroke-width="1.3"/>
<text x="63.4" y="419.8" font-size="10.8" text-anchor="start" fill="#231f20" dominant-baseline="central">ZnO@Cit</text>
<line x1="195.9" y1="407" x2="219.4" y2="407" stroke="#8e4fbb" stroke-width="1.2"/>
<text x="223.5" y="407.2" font-size="10.8" text-anchor="start" fill="#231f20" dominant-baseline="central">Patterned ZnO@Cit</text>
<text x="65" y="467.8" font-size="10" text-anchor="middle" fill="#231f20" dominant-baseline="central">-OH</text>
<text x="196" y="484.4" font-size="10.5" text-anchor="middle" fill="#231f20" dominant-baseline="central">1596.9</text>
<text x="237" y="477.1" font-size="10.5" text-anchor="middle" fill="#231f20" dominant-baseline="central">1392.4</text>
<text x="198.2" y="519.2" font-size="10.5" text-anchor="middle" fill="#231f20" dominant-baseline="central">1618</text>
<rect x="214.4" y="486.8" width="69.8" height="33" fill="none" stroke="#a8a8a8" stroke-width="1.2"/>
<line x1="284.2" y1="486.8" x2="368.1" y2="397.9" stroke="#bcbcbc" stroke-width="1.5"/>
<line x1="284.2" y1="519.8" x2="366.5" y2="538" stroke="#bcbcbc" stroke-width="1.5"/>
<text x="344.8" y="392.1" font-size="17" text-anchor="start" font-weight="bold" fill="#000" dominant-baseline="central">h</text>
<clipPath id="hclip"><rect x="368.1" y="397" width="305.1" height="140"/></clipPath>
<g clip-path="url(#hclip)">
<path d="M368.1,443.1 C370.0,442.9 375.3,441.3 379.4,441.7 C383.5,442.1 388.1,443.5 392.5,445.7 C396.9,447.9 401.3,451.4 405.7,454.9 C410.1,458.4 415.6,463.6 418.8,466.7 C422.0,469.8 423.2,471.7 425.0,473.5 C426.8,475.3 428.6,476.0 429.7,477.4 C430.8,478.8 430.9,479.5 431.5,482.0 C432.1,484.5 432.8,487.5 433.4,492.5 C434.0,497.5 434.7,506.4 435.3,512.0 C435.9,517.6 436.7,523.1 437.2,526.0 C437.7,528.9 438.0,529.4 438.4,529.4 C438.8,529.4 439.2,528.9 439.7,526.0 C440.2,523.1 440.7,516.8 441.3,512.0 C441.9,507.2 442.5,502.4 443.1,497.4 C443.7,492.4 444.4,486.3 445.0,482.0 C445.6,477.7 445.5,474.9 446.8,471.8 C448.1,468.7 450.7,465.8 452.9,463.3 C455.1,460.8 457.2,459.0 460.0,457.0 C462.8,455.0 466.4,454.1 469.9,451.1 C473.4,448.1 477.5,441.9 480.9,439.0 C484.2,436.1 486.6,435.7 490.0,434.0 C493.4,432.3 498.5,429.3 501.5,428.7 C504.5,428.1 505.8,429.8 508.0,430.5 C510.2,431.2 512.7,433.3 514.5,432.9 C516.3,432.5 517.3,429.4 519.0,428.0 C520.7,426.6 521.3,425.8 524.7,424.8 C528.1,423.8 534.3,422.8 539.3,421.9 C544.3,421.0 549.8,419.5 554.9,419.4 C560.0,419.2 565.2,420.2 570.0,421.0 C574.8,421.8 580.5,422.8 583.8,424.1 C587.1,425.4 588.0,427.2 590.0,429.0 C592.0,430.8 593.8,434.1 595.6,434.7 C597.4,435.2 599.0,432.8 601.0,432.3 C603.0,431.9 605.2,431.3 607.5,432.0 C609.8,432.7 612.5,434.6 615.0,436.5 C617.5,438.4 620.0,442.1 622.7,443.1 C625.4,444.1 627.4,441.2 631.1,442.3 C634.8,443.4 640.2,447.3 645.0,450.0 C649.8,452.7 655.3,456.2 660.0,458.3 C664.7,460.4 671.0,462.1 673.2,462.8" fill="none" stroke="#8e4fbb" stroke-width="1.7" stroke-linejoin="round" stroke-linecap="butt"/>
</g>
<rect x="368.1" y="397.9" width="305.1" height="139.1" fill="none" stroke="#231f20" stroke-width="1.2"/>
<line x1="368.1" y1="537" x2="368.1" y2="541.6" stroke="#231f20" stroke-width="1"/>
<text x="368.1" y="549.2" font-size="10.4" text-anchor="middle" fill="#231f20" dominant-baseline="central">1500</text>
<line x1="429.2" y1="537" x2="429.2" y2="541.6" stroke="#231f20" stroke-width="1"/>
<text x="429.2" y="549.2" font-size="10.4" text-anchor="middle" fill="#231f20" dominant-baseline="central">1400</text>
<line x1="490.2" y1="537" x2="490.2" y2="541.6" stroke="#231f20" stroke-width="1"/>
<text x="490.2" y="549.2" font-size="10.4" text-anchor="middle" fill="#231f20" dominant-baseline="central">1300</text>
<line x1="551.2" y1="537" x2="551.2" y2="541.6" stroke="#231f20" stroke-width="1"/>
<text x="551.2" y="549.2" font-size="10.4" text-anchor="middle" fill="#231f20" dominant-baseline="central">1200</text>
<line x1="612.3" y1="537" x2="612.3" y2="541.6" stroke="#231f20" stroke-width="1"/>
<text x="612.3" y="549.2" font-size="10.4" text-anchor="middle" fill="#231f20" dominant-baseline="central">1100</text>
<line x1="673.4" y1="537" x2="673.4" y2="541.6" stroke="#231f20" stroke-width="1"/>
<text x="673.4" y="549.2" font-size="10.4" text-anchor="middle" fill="#231f20" dominant-baseline="central">1000</text>
<line x1="398.6" y1="537" x2="398.6" y2="539.2" stroke="#231f20" stroke-width="1"/>
<line x1="459.7" y1="537" x2="459.7" y2="539.2" stroke="#231f20" stroke-width="1"/>
<line x1="520.7" y1="537" x2="520.7" y2="539.2" stroke="#231f20" stroke-width="1"/>
<line x1="581.8" y1="537" x2="581.8" y2="539.2" stroke="#231f20" stroke-width="1"/>
<line x1="642.8" y1="537" x2="642.8" y2="539.2" stroke="#231f20" stroke-width="1"/>
<text x="532.6" y="568.4" font-size="11.4" text-anchor="middle" dominant-baseline="central" fill="#231f20">Frequency (cm<tspan dy="-3.5" font-size="7">-1</tspan><tspan dy="3.5">)</tspan></text>
<text x="0" y="0" font-size="11.4" text-anchor="middle" dominant-baseline="central" fill="#231f20" transform="translate(351.1,472.1) rotate(-90)">Transmittance</text>
<text x="421.4" y="428.6" font-size="10.5" text-anchor="middle" fill="#231f20" dominant-baseline="central">1404</text>
<text x="422.5" y="442.6" font-size="10.5" text-anchor="middle" dominant-baseline="central" fill="#231f20"><tspan font-family="Liberation Serif" font-style="italic" font-size="12" dy="-1.8">υ</tspan><tspan dy="1.8">sym(COO</tspan><tspan dy="-3" font-size="6.5">-</tspan><tspan dy="3">)</tspan></text>
<line x1="430.6" y1="475.5" x2="430.6" y2="453" stroke="#231f20" stroke-width="1.2"/>
<path d="M430.6,448.3 L427.8,455.5 L433.4,455.5 Z" fill="#231f20"/>
<text x="465.5" y="514.7" font-size="10.5" text-anchor="middle" fill="#231f20" dominant-baseline="central">1384.7</text>
<text x="469.8" y="528.3" font-size="10.5" text-anchor="middle" dominant-baseline="central" fill="#231f20"><tspan font-family="Liberation Serif" font-style="italic" font-size="11">υ</tspan>(C-H)</text>
<line x1="595.6" y1="436.5" x2="595.6" y2="451" stroke="#231f20" stroke-width="1.2"/>
<path d="M595.6,456.4 L592.8,449.2 L598.4,449.2 Z" fill="#231f20"/>
<text x="587.2" y="464.1" font-size="10.5" text-anchor="middle" fill="#231f20" dominant-baseline="central">1126</text>
<text x="586.7" y="477.9" font-size="10.5" text-anchor="middle" dominant-baseline="central" fill="#231f20"><tspan font-family="Liberation Serif" font-style="italic" font-size="11">υ</tspan>(C-O)</text>
<line x1="622.7" y1="445.7" x2="622.7" y2="484" stroke="#231f20" stroke-width="1.2"/>
<path d="M622.7,489.7 L619.9,482.5 L625.5,482.5 Z" fill="#231f20"/>
<text x="624.5" y="498.9" font-size="10.5" text-anchor="middle" fill="#231f20" dominant-baseline="central">1082</text>
<text x="622.6" y="512.6" font-size="10.5" text-anchor="middle" dominant-baseline="central" fill="#231f20"><tspan font-family="Liberation Serif" font-style="italic" font-size="11">υ</tspan>(C-O)</text>
</svg></body></html>
